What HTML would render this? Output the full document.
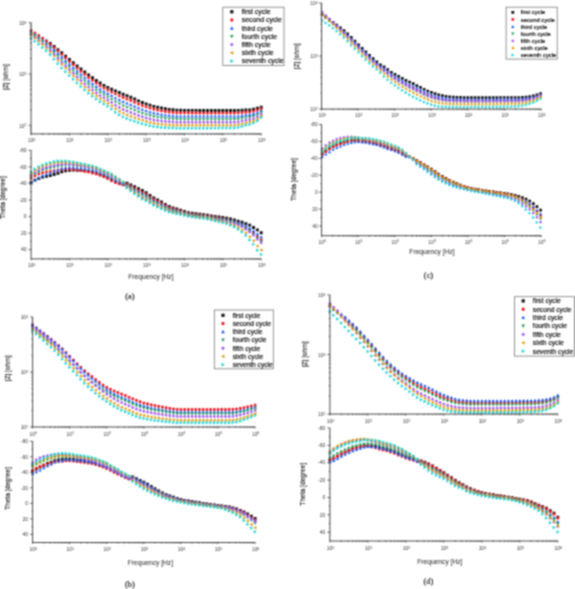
<!DOCTYPE html>
<html><head><meta charset="utf-8"><style>
html,body{margin:0;padding:0;background:#fff;width:575px;height:589px;overflow:hidden}
svg{display:block}
text{font-family:"Liberation Sans",sans-serif}
svg{will-change:transform}
.lg{fill:#000;stroke:#000;stroke-width:0.15px}
.ti{fill:#1a1a1a;stroke:#1a1a1a;stroke-width:0.15px}
.tk{fill:#383838}
.fq{fill:#333;stroke:#333;stroke-width:0.05px}
.cp{font-family:"Liberation Serif",serif;fill:#111;stroke:#111;stroke-width:0.15px}
</style></head><body>
<svg width="575" height="589" viewBox="0 0 575 589">
<rect width="575" height="589" fill="#fff"/>
<defs><filter id="bl" color-interpolation-filters="sRGB" x="0" y="0" width="575" height="589" filterUnits="userSpaceOnUse"><feConvolveMatrix order="3" kernelMatrix="1 2 1 2 4 2 1 2 1" edgeMode="duplicate" preserveAlpha="true"/></filter></defs>
<g filter="url(#bl)">
<rect width="575" height="589" fill="#fff"/>
<path d="M30.23 29.63h1.74v1.74h-1.74zM34.07 32.05h1.74v1.74h-1.74zM37.9 34.41h1.74v1.74h-1.74zM41.74 36.96h1.74v1.74h-1.74zM45.33 39.47h2.21v2.21h-2.21zM48.83 42.04h2.9v2.9h-2.9zM52.66 45.04h2.9v2.9h-2.9zM56.5 48.13h2.9v2.9h-2.9zM60.33 51.3h2.9v2.9h-2.9zM64.17 54.64h2.9v2.9h-2.9zM68 58.02h2.9v2.9h-2.9zM71.83 61.27h2.9v2.9h-2.9zM75.67 64.44h2.9v2.9h-2.9zM79.5 67.51h2.9v2.9h-2.9zM83.34 70.49h2.9v2.9h-2.9zM87.17 73.4h2.9v2.9h-2.9zM91.01 76.23h2.9v2.9h-2.9zM94.84 78.99h2.9v2.9h-2.9zM98.68 81.59h2.9v2.9h-2.9zM102.52 83.89h2.9v2.9h-2.9zM106.35 85.95h2.9v2.9h-2.9zM110.18 87.74h2.9v2.9h-2.9zM114.02 89.4h2.9v2.9h-2.9zM117.86 91.1h2.9v2.9h-2.9zM121.69 92.76h2.9v2.9h-2.9zM125.52 94.26h2.9v2.9h-2.9zM129.36 95.76h2.9v2.9h-2.9zM133.2 97.55h2.9v2.9h-2.9zM137.03 99.44h2.9v2.9h-2.9zM140.87 100.99h2.9v2.9h-2.9zM144.7 102.39h2.9v2.9h-2.9zM148.53 103.71h2.9v2.9h-2.9zM152.37 104.92h2.9v2.9h-2.9zM156.21 105.82h2.9v2.9h-2.9zM160.04 106.56h2.9v2.9h-2.9zM163.88 107.28h2.9v2.9h-2.9zM167.71 107.91h2.9v2.9h-2.9zM171.54 108.35h2.9v2.9h-2.9zM175.38 108.71h2.9v2.9h-2.9zM179.22 108.86h2.9v2.9h-2.9zM183.05 108.89h2.9v2.9h-2.9zM186.89 108.92h2.9v2.9h-2.9zM190.72 108.94h2.9v2.9h-2.9zM194.56 108.96h2.9v2.9h-2.9zM198.39 108.98h2.9v2.9h-2.9zM202.22 109h2.9v2.9h-2.9zM206.06 109.01h2.9v2.9h-2.9zM209.89 109.02h2.9v2.9h-2.9zM213.73 109.03h2.9v2.9h-2.9zM217.56 109.04h2.9v2.9h-2.9zM221.4 109.04h2.9v2.9h-2.9zM225.24 109.05h2.9v2.9h-2.9zM229.07 109.05h2.9v2.9h-2.9zM232.91 109.05h2.9v2.9h-2.9zM236.74 108.97h2.9v2.9h-2.9zM240.58 108.75h2.9v2.9h-2.9zM244.41 108.54h2.9v2.9h-2.9zM248.24 108.41h2.9v2.9h-2.9zM252.08 107.73h2.9v2.9h-2.9zM255.92 106.83h2.9v2.9h-2.9zM259.75 105.75h2.9v2.9h-2.9z" fill="#111111"/>
<path d="M29.58 30.5a1.52 1.52 0 1 0 3.04 0a1.52 1.52 0 1 0 -3.04 0zM33.41 33.06a1.52 1.52 0 1 0 3.04 0a1.52 1.52 0 1 0 -3.04 0zM37.25 35.58a1.52 1.52 0 1 0 3.04 0a1.52 1.52 0 1 0 -3.04 0zM41.08 38.3a1.52 1.52 0 1 0 3.04 0a1.52 1.52 0 1 0 -3.04 0zM44.92 41.24a1.52 1.52 0 1 0 3.04 0a1.52 1.52 0 1 0 -3.04 0zM48.75 44.39a1.52 1.52 0 1 0 3.04 0a1.52 1.52 0 1 0 -3.04 0zM52.59 47.58a1.52 1.52 0 1 0 3.04 0a1.52 1.52 0 1 0 -3.04 0zM56.42 50.87a1.52 1.52 0 1 0 3.04 0a1.52 1.52 0 1 0 -3.04 0zM60.26 54.23a1.52 1.52 0 1 0 3.04 0a1.52 1.52 0 1 0 -3.04 0zM64.09 57.71a1.52 1.52 0 1 0 3.04 0a1.52 1.52 0 1 0 -3.04 0zM67.93 61.22a1.52 1.52 0 1 0 3.04 0a1.52 1.52 0 1 0 -3.04 0zM71.76 64.62a1.52 1.52 0 1 0 3.04 0a1.52 1.52 0 1 0 -3.04 0zM75.6 67.96a1.52 1.52 0 1 0 3.04 0a1.52 1.52 0 1 0 -3.04 0zM79.43 71.19a1.52 1.52 0 1 0 3.04 0a1.52 1.52 0 1 0 -3.04 0zM83.27 74.33a1.52 1.52 0 1 0 3.04 0a1.52 1.52 0 1 0 -3.04 0zM87.1 77.38a1.52 1.52 0 1 0 3.04 0a1.52 1.52 0 1 0 -3.04 0zM90.94 80.27a1.52 1.52 0 1 0 3.04 0a1.52 1.52 0 1 0 -3.04 0zM94.77 83.05a1.52 1.52 0 1 0 3.04 0a1.52 1.52 0 1 0 -3.04 0zM98.61 85.67a1.52 1.52 0 1 0 3.04 0a1.52 1.52 0 1 0 -3.04 0zM102.44 87.96a1.52 1.52 0 1 0 3.04 0a1.52 1.52 0 1 0 -3.04 0zM106.28 90.02a1.52 1.52 0 1 0 3.04 0a1.52 1.52 0 1 0 -3.04 0zM110.11 91.98a1.52 1.52 0 1 0 3.04 0a1.52 1.52 0 1 0 -3.04 0zM113.95 93.84a1.52 1.52 0 1 0 3.04 0a1.52 1.52 0 1 0 -3.04 0zM117.78 95.66a1.52 1.52 0 1 0 3.04 0a1.52 1.52 0 1 0 -3.04 0zM121.62 97.38a1.52 1.52 0 1 0 3.04 0a1.52 1.52 0 1 0 -3.04 0zM125.45 98.91a1.52 1.52 0 1 0 3.04 0a1.52 1.52 0 1 0 -3.04 0zM129.29 100.39a1.52 1.52 0 1 0 3.04 0a1.52 1.52 0 1 0 -3.04 0zM133.12 102.13a1.52 1.52 0 1 0 3.04 0a1.52 1.52 0 1 0 -3.04 0zM136.96 103.92a1.52 1.52 0 1 0 3.04 0a1.52 1.52 0 1 0 -3.04 0zM140.79 105.43a1.52 1.52 0 1 0 3.04 0a1.52 1.52 0 1 0 -3.04 0zM144.63 106.78a1.52 1.52 0 1 0 3.04 0a1.52 1.52 0 1 0 -3.04 0zM148.46 108.05a1.52 1.52 0 1 0 3.04 0a1.52 1.52 0 1 0 -3.04 0zM152.3 109.2a1.52 1.52 0 1 0 3.04 0a1.52 1.52 0 1 0 -3.04 0zM156.13 110.04a1.52 1.52 0 1 0 3.04 0a1.52 1.52 0 1 0 -3.04 0zM159.97 110.73a1.52 1.52 0 1 0 3.04 0a1.52 1.52 0 1 0 -3.04 0zM163.8 111.39a1.52 1.52 0 1 0 3.04 0a1.52 1.52 0 1 0 -3.04 0zM167.64 111.96a1.52 1.52 0 1 0 3.04 0a1.52 1.52 0 1 0 -3.04 0zM171.47 112.36a1.52 1.52 0 1 0 3.04 0a1.52 1.52 0 1 0 -3.04 0zM175.31 112.69a1.52 1.52 0 1 0 3.04 0a1.52 1.52 0 1 0 -3.04 0zM179.14 112.81a1.52 1.52 0 1 0 3.04 0a1.52 1.52 0 1 0 -3.04 0zM182.98 112.84a1.52 1.52 0 1 0 3.04 0a1.52 1.52 0 1 0 -3.04 0zM186.81 112.86a1.52 1.52 0 1 0 3.04 0a1.52 1.52 0 1 0 -3.04 0zM190.65 112.88a1.52 1.52 0 1 0 3.04 0a1.52 1.52 0 1 0 -3.04 0zM194.48 112.9a1.52 1.52 0 1 0 3.04 0a1.52 1.52 0 1 0 -3.04 0zM198.32 112.92a1.52 1.52 0 1 0 3.04 0a1.52 1.52 0 1 0 -3.04 0zM202.15 112.93a1.52 1.52 0 1 0 3.04 0a1.52 1.52 0 1 0 -3.04 0zM205.99 112.94a1.52 1.52 0 1 0 3.04 0a1.52 1.52 0 1 0 -3.04 0zM209.82 112.95a1.52 1.52 0 1 0 3.04 0a1.52 1.52 0 1 0 -3.04 0zM213.66 112.95a1.52 1.52 0 1 0 3.04 0a1.52 1.52 0 1 0 -3.04 0zM217.49 112.96a1.52 1.52 0 1 0 3.04 0a1.52 1.52 0 1 0 -3.04 0zM221.33 112.96a1.52 1.52 0 1 0 3.04 0a1.52 1.52 0 1 0 -3.04 0zM225.16 112.96a1.52 1.52 0 1 0 3.04 0a1.52 1.52 0 1 0 -3.04 0zM229 112.95a1.52 1.52 0 1 0 3.04 0a1.52 1.52 0 1 0 -3.04 0zM232.83 112.95a1.52 1.52 0 1 0 3.04 0a1.52 1.52 0 1 0 -3.04 0zM236.67 112.83a1.52 1.52 0 1 0 3.04 0a1.52 1.52 0 1 0 -3.04 0zM240.5 112.49a1.52 1.52 0 1 0 3.04 0a1.52 1.52 0 1 0 -3.04 0zM244.34 112.14a1.52 1.52 0 1 0 3.04 0a1.52 1.52 0 1 0 -3.04 0zM248.17 111.9a1.52 1.52 0 1 0 3.04 0a1.52 1.52 0 1 0 -3.04 0zM252.01 111.1a1.52 1.52 0 1 0 3.04 0a1.52 1.52 0 1 0 -3.04 0zM255.84 110.05a1.52 1.52 0 1 0 3.04 0a1.52 1.52 0 1 0 -3.04 0zM259.68 108.66a1.52 1.52 0 1 0 3.04 0a1.52 1.52 0 1 0 -3.04 0z" fill="#f41c24"/>
<path d="M31.1 30.74L32.84 33.78L29.36 33.78zM34.94 33.26L36.68 36.3L33.2 36.3zM38.77 35.79L40.51 38.83L37.03 38.83zM42.61 38.49L44.35 41.54L40.87 41.54zM46.44 41.38L48.18 44.43L44.7 44.43zM50.28 44.56L52.02 47.61L48.54 47.61zM54.11 48.02L55.85 51.06L52.37 51.06zM57.95 51.58L59.69 54.63L56.21 54.63zM61.78 55.15L63.52 58.2L60.04 58.2zM65.62 58.75L67.36 61.79L63.88 61.79zM69.45 62.35L71.19 65.39L67.71 65.39zM73.28 65.89L75.02 68.94L71.55 68.94zM77.12 69.37L78.86 72.41L75.38 72.41zM80.95 72.73L82.69 75.77L79.22 75.77zM84.79 75.98L86.53 79.02L83.05 79.02zM88.62 79.11L90.36 82.15L86.89 82.15zM92.46 82.04L94.2 85.09L90.72 85.09zM96.29 84.86L98.03 87.9L94.55 87.9zM100.13 87.5L101.87 90.55L98.39 90.55zM103.97 89.77L105.7 92.81L102.23 92.81zM107.8 91.85L109.54 94.89L106.06 94.89zM111.63 94.01L113.37 97.06L109.89 97.06zM115.47 96.15L117.21 99.19L113.73 99.19zM119.31 98.12L121.05 101.17L117.57 101.17zM123.14 99.95L124.88 102.99L121.4 102.99zM126.97 101.51L128.72 104.55L125.23 104.55zM130.81 102.97L132.55 106.02L129.07 106.02zM134.65 104.62L136.39 107.67L132.91 107.67zM138.48 106.3L140.22 109.35L136.74 109.35zM142.31 107.74L144.06 110.78L140.57 110.78zM146.15 109.03L147.89 112.07L144.41 112.07zM149.98 110.23L151.72 113.27L148.24 113.27zM153.82 111.29L155.56 114.34L152.08 114.34zM157.66 112.06L159.4 115.11L155.91 115.11zM161.49 112.68L163.23 115.72L159.75 115.72zM165.32 113.25L167.06 116.3L163.58 116.3zM169.16 113.76L170.9 116.8L167.42 116.8zM172.99 114.1L174.73 117.14L171.25 117.14zM176.83 114.37L178.57 117.41L175.09 117.41zM180.66 114.47L182.41 117.52L178.92 117.52zM184.5 114.49L186.24 117.54L182.76 117.54zM188.34 114.51L190.08 117.56L186.59 117.56zM192.17 114.53L193.91 117.57L190.43 117.57zM196 114.54L197.75 117.58L194.26 117.58zM199.84 114.55L201.58 117.59L198.1 117.59zM203.67 114.56L205.41 117.6L201.93 117.6zM207.51 114.56L209.25 117.61L205.77 117.61zM211.34 114.57L213.08 117.61L209.6 117.61zM215.18 114.57L216.92 117.61L213.44 117.61zM219.01 114.56L220.75 117.61L217.27 117.61zM222.85 114.56L224.59 117.61L221.11 117.61zM226.69 114.56L228.43 117.6L224.94 117.6zM230.52 114.55L232.26 117.59L228.78 117.59zM234.35 114.54L236.09 117.58L232.61 117.58zM238.19 114.35L239.93 117.4L236.45 117.4zM242.03 113.84L243.77 116.89L240.28 116.89zM245.86 113.32L247.6 116.37L244.12 116.37zM249.69 112.92L251.43 115.96L247.95 115.96zM253.53 111.98L255.27 115.02L251.79 115.02zM257.37 110.72L259.11 113.76L255.62 113.76zM261.2 108.89L262.94 111.94L259.46 111.94z" fill="#1e5ef5"/>
<path d="M31.1 34.62L32.84 31.57L29.36 31.57zM34.94 37.41L36.68 34.37L33.2 34.37zM38.77 40.27L40.51 37.23L37.03 37.23zM42.61 43.33L44.35 40.28L40.87 40.28zM46.44 46.61L48.18 43.57L44.7 43.57zM50.28 50.29L52.02 47.25L48.54 47.25zM54.11 54.01L55.85 50.96L52.37 50.96zM57.95 57.82L59.69 54.78L56.21 54.78zM61.78 61.57L63.52 58.52L60.04 58.52zM65.62 65.23L67.36 62.19L63.88 62.19zM69.45 68.87L71.19 65.82L67.71 65.82zM73.28 72.49L75.02 69.45L71.55 69.45zM77.12 76.05L78.86 73L75.38 73zM80.95 79.47L82.69 76.42L79.22 76.42zM84.79 82.76L86.53 79.71L83.05 79.71zM88.62 85.9L90.36 82.86L86.89 82.86zM92.46 88.85L94.2 85.8L90.72 85.8zM96.29 91.69L98.03 88.65L94.55 88.65zM100.13 94.37L101.87 91.32L98.39 91.32zM103.97 96.61L105.7 93.57L102.23 93.57zM107.8 98.7L109.54 95.65L106.06 95.65zM111.63 101.07L113.37 98.02L109.89 98.02zM115.47 103.47L117.21 100.42L113.73 100.42zM119.31 105.59L121.05 102.55L117.57 102.55zM123.14 107.51L124.88 104.46L121.4 104.46zM126.97 109.1L128.72 106.05L125.23 106.05zM130.81 110.55L132.55 107.5L129.07 107.5zM134.65 112.12L136.39 109.07L132.91 109.07zM138.48 113.69L140.22 110.64L136.74 110.64zM142.31 115.05L144.06 112.01L140.57 112.01zM146.15 116.29L147.89 113.24L144.41 113.24zM149.98 117.42L151.72 114.37L148.24 114.37zM153.82 118.41L155.56 115.36L152.08 115.36zM157.66 119.1L159.4 116.06L155.91 116.06zM161.49 119.65L163.23 116.61L159.75 116.61zM165.32 120.15L167.06 117.11L163.58 117.11zM169.16 120.58L170.9 117.54L167.42 117.54zM172.99 120.87L174.73 117.82L171.25 117.82zM176.83 121.09L178.57 118.04L175.09 118.04zM180.66 121.17L182.41 118.13L178.92 118.13zM184.5 121.19L186.24 118.14L182.76 118.14zM188.34 121.2L190.08 118.15L186.59 118.15zM192.17 121.21L193.91 118.17L190.43 118.17zM196 121.22L197.75 118.17L194.26 118.17zM199.84 121.22L201.58 118.18L198.1 118.18zM203.67 121.23L205.41 118.18L201.93 118.18zM207.51 121.23L209.25 118.18L205.77 118.18zM211.34 121.23L213.08 118.18L209.6 118.18zM215.18 121.22L216.92 118.18L213.44 118.18zM219.01 121.22L220.75 118.17L217.27 118.17zM222.85 121.21L224.59 118.16L221.11 118.16zM226.69 121.2L228.43 118.15L224.94 118.15zM230.52 121.18L232.26 118.14L228.78 118.14zM234.35 121.17L236.09 118.12L232.61 118.12zM238.19 120.92L239.93 117.88L236.45 117.88zM242.03 120.26L243.77 117.21L240.28 117.21zM245.86 119.57L247.6 116.53L244.12 116.53zM249.69 119.02L251.43 115.97L247.95 115.97zM253.53 117.93L255.27 114.88L251.79 114.88zM257.37 116.48L259.11 113.44L255.62 113.44zM261.2 114.24L262.94 111.2L259.46 111.2z" fill="#2a9f5c"/>
<path d="M31.1 33.11L32.84 34.85L31.1 36.59L29.36 34.85zM34.94 35.84L36.68 37.58L34.94 39.32L33.2 37.58zM38.77 38.67L40.51 40.41L38.77 42.15L37.03 40.41zM42.61 41.66L44.35 43.4L42.61 45.14L40.87 43.4zM46.44 44.85L48.18 46.59L46.44 48.33L44.7 46.59zM50.28 48.5L52.02 50.24L50.28 51.98L48.54 50.24zM54.11 52.44L55.85 54.18L54.11 55.92L52.37 54.18zM57.95 56.48L59.69 58.22L57.95 59.96L56.21 58.22zM61.78 60.4L63.52 62.14L61.78 63.88L60.04 62.14zM65.62 64.16L67.36 65.9L65.62 67.64L63.88 65.9zM69.45 67.86L71.19 69.6L69.45 71.34L67.71 69.6zM73.28 71.59L75.02 73.33L73.28 75.07L71.55 73.33zM77.12 75.25L78.86 76.99L77.12 78.73L75.38 76.99zM80.95 78.77L82.69 80.51L80.95 82.25L79.22 80.51zM84.79 82.15L86.53 83.89L84.79 85.63L83.05 83.89zM88.62 85.35L90.36 87.09L88.62 88.83L86.89 87.09zM92.46 88.33L94.2 90.07L92.46 91.81L90.72 90.07zM96.29 91.2L98.03 92.94L96.29 94.68L94.55 92.94zM100.13 93.89L101.87 95.63L100.13 97.37L98.39 95.63zM103.97 96.12L105.7 97.86L103.97 99.6L102.23 97.86zM107.8 98.22L109.54 99.96L107.8 101.7L106.06 99.96zM111.63 100.77L113.37 102.51L111.63 104.25L109.89 102.51zM115.47 103.4L117.21 105.14L115.47 106.88L113.73 105.14zM119.31 105.66L121.05 107.4L119.31 109.14L117.57 107.4zM123.14 107.66L124.88 109.4L123.14 111.14L121.4 109.4zM126.97 109.27L128.72 111.01L126.97 112.75L125.23 111.01zM130.81 110.71L132.55 112.45L130.81 114.19L129.07 112.45zM134.65 112.21L136.39 113.95L134.65 115.69L132.91 113.95zM138.48 113.68L140.22 115.42L138.48 117.16L136.74 115.42zM142.31 114.98L144.06 116.72L142.31 118.46L140.57 116.72zM146.15 116.17L147.89 117.91L146.15 119.65L144.41 117.91zM149.98 117.23L151.72 118.97L149.98 120.71L148.24 118.97zM153.82 118.16L155.56 119.9L153.82 121.64L152.08 119.9zM157.66 118.79L159.4 120.53L157.66 122.27L155.91 120.53zM161.49 119.28L163.23 121.02L161.49 122.76L159.75 121.02zM165.32 119.71L167.06 121.45L165.32 123.19L163.58 121.45zM169.16 120.08L170.9 121.82L169.16 123.56L167.42 121.82zM172.99 120.31L174.73 122.05L172.99 123.79L171.25 122.05zM176.83 120.49L178.57 122.23L176.83 123.97L175.09 122.23zM180.66 120.55L182.41 122.29L180.66 124.03L178.92 122.29zM184.5 120.56L186.24 122.3L184.5 124.04L182.76 122.3zM188.34 120.57L190.08 122.31L188.34 124.05L186.59 122.31zM192.17 120.58L193.91 122.32L192.17 124.06L190.43 122.32zM196 120.58L197.75 122.32L196 124.06L194.26 122.32zM199.84 120.58L201.58 122.32L199.84 124.06L198.1 122.32zM203.67 120.58L205.41 122.32L203.67 124.06L201.93 122.32zM207.51 120.58L209.25 122.32L207.51 124.06L205.77 122.32zM211.34 120.58L213.08 122.32L211.34 124.06L209.6 122.32zM215.18 120.57L216.92 122.31L215.18 124.05L213.44 122.31zM219.01 120.56L220.75 122.3L219.01 124.04L217.27 122.3zM222.85 120.54L224.59 122.28L222.85 124.02L221.11 122.28zM226.69 120.53L228.43 122.27L226.69 124.01L224.94 122.27zM230.52 120.51L232.26 122.25L230.52 123.99L228.78 122.25zM234.35 120.49L236.09 122.23L234.35 123.97L232.61 122.23zM238.19 120.19L239.93 121.93L238.19 123.67L236.45 121.93zM242.03 119.38L243.77 121.12L242.03 122.86L240.28 121.12zM245.86 118.55L247.6 120.29L245.86 122.03L244.12 120.29zM249.69 117.87L251.43 119.61L249.69 121.35L247.95 119.61zM253.53 116.65L255.27 118.39L253.53 120.13L251.79 118.39zM257.37 115.03L259.11 116.77L257.37 118.51L255.62 116.77zM261.2 112.43L262.94 114.17L261.2 115.91L259.46 114.17z" fill="#a55cf0"/>
<path d="M29.36 35.25L32.41 33.51L32.41 36.99zM33.2 38.16L36.24 36.42L36.24 39.9zM37.03 41.23L40.08 39.49L40.08 42.97zM40.87 44.46L43.91 42.72L43.91 46.2zM44.7 47.92L47.74 46.18L47.74 49.66zM48.54 51.92L51.58 50.18L51.58 53.66zM52.37 56.1L55.41 54.36L55.41 57.84zM56.21 60.39L59.25 58.65L59.25 62.13zM60.04 64.5L63.09 62.76L63.09 66.24zM63.88 68.36L66.92 66.62L66.92 70.1zM67.71 72.16L70.76 70.42L70.76 73.9zM71.55 76.01L74.59 74.27L74.59 77.75zM75.38 79.8L78.43 78.06L78.43 81.54zM79.22 83.44L82.26 81.7L82.26 85.18zM83.05 86.92L86.1 85.18L86.1 88.66zM86.89 90.19L89.93 88.45L89.93 91.93zM90.72 93.21L93.77 91.47L93.77 94.95zM94.55 96.11L97.6 94.37L97.6 97.85zM98.39 98.83L101.44 97.09L101.44 100.57zM102.23 101.04L105.27 99.3L105.27 102.78zM106.06 103.14L109.11 101.4L109.11 104.88zM109.89 105.88L112.94 104.14L112.94 107.62zM113.73 108.76L116.78 107.02L116.78 110.5zM117.57 111.16L120.61 109.42L120.61 112.9zM121.4 113.25L124.44 111.51L124.44 114.99zM125.23 114.89L128.28 113.15L128.28 116.63zM129.07 116.31L132.12 114.57L132.12 118.05zM132.91 117.74L135.95 116L135.95 119.48zM136.74 119.1L139.79 117.36L139.79 120.84zM140.57 120.34L143.62 118.6L143.62 122.08zM144.41 121.48L147.46 119.74L147.46 123.22zM148.24 122.48L151.29 120.74L151.29 124.22zM152.08 123.33L155.12 121.59L155.12 125.07zM155.91 123.89L158.96 122.15L158.96 125.63zM159.75 124.31L162.79 122.57L162.79 126.05zM163.58 124.68L166.63 122.94L166.63 126.42zM167.42 124.98L170.47 123.24L170.47 126.72zM171.25 125.16L174.3 123.42L174.3 126.9zM175.09 125.29L178.13 123.55L178.13 127.03zM178.92 125.34L181.97 123.6L181.97 127.08zM182.76 125.34L185.81 123.6L185.81 127.08zM186.59 125.34L189.64 123.6L189.64 127.08zM190.43 125.35L193.47 123.61L193.47 127.09zM194.26 125.34L197.31 123.6L197.31 127.08zM198.1 125.34L201.14 123.6L201.14 127.08zM201.93 125.34L204.98 123.6L204.98 127.08zM205.77 125.33L208.81 123.59L208.81 127.07zM209.6 125.32L212.65 123.58L212.65 127.06zM213.44 125.31L216.48 123.57L216.48 127.05zM217.27 125.29L220.32 123.55L220.32 127.03zM221.11 125.28L224.16 123.54L224.16 127.02zM224.94 125.26L227.99 123.52L227.99 127zM228.78 125.23L231.82 123.49L231.82 126.97zM232.61 125.2L235.66 123.46L235.66 126.94zM236.45 124.85L239.5 123.11L239.5 126.59zM240.28 123.89L243.33 122.15L243.33 125.63zM244.12 122.9L247.17 121.16L247.17 124.64zM247.95 122.08L251 120.34L251 123.82zM251.79 120.72L254.83 118.98L254.83 122.46zM255.62 118.92L258.67 117.18L258.67 120.66zM259.46 115.94L262.5 114.2L262.5 117.68z" fill="#dc9a0a"/>
<path d="M32.84 38.4L29.8 36.66L29.8 40.14zM36.68 41.23L33.63 39.49L33.63 42.97zM40.51 44.28L37.47 42.54L37.47 46.02zM44.35 47.42L41.3 45.68L41.3 49.16zM48.18 50.75L45.13 49.01L45.13 52.49zM52.02 54.73L48.97 52.99L48.97 56.47zM55.85 59.15L52.8 57.41L52.8 60.89zM59.69 63.66L56.64 61.92L56.64 65.4zM63.52 67.89L60.48 66.15L60.48 69.63zM67.36 71.72L64.31 69.98L64.31 73.46zM71.19 75.45L68.14 73.71L68.14 77.19zM75.02 79.28L71.98 77.54L71.98 81.02zM78.86 83.04L75.81 81.3L75.81 84.78zM82.69 86.62L79.65 84.88L79.65 88.36zM86.53 90.02L83.48 88.28L83.48 91.76zM90.36 93.18L87.32 91.44L87.32 94.92zM94.2 96.16L91.16 94.42L91.16 97.9zM98.03 99.1L94.99 97.36L94.99 100.84zM101.87 101.83L98.82 100.09L98.82 103.57zM105.7 104.03L102.66 102.29L102.66 105.77zM109.54 106.14L106.5 104.4L106.5 107.88zM113.37 109.06L110.33 107.32L110.33 110.8zM117.21 112.17L114.16 110.43L114.16 113.91zM121.05 114.71L118 112.97L118 116.45zM124.88 116.88L121.83 115.14L121.83 118.62zM128.72 118.54L125.67 116.8L125.67 120.28zM132.55 119.95L129.5 118.21L129.5 121.69zM136.39 121.31L133.34 119.57L133.34 123.05zM140.22 122.57L137.18 120.83L137.18 124.31zM144.06 123.75L141.01 122.01L141.01 125.49zM147.89 124.83L144.84 123.09L144.84 126.57zM151.72 125.78L148.68 124.04L148.68 127.52zM155.56 126.57L152.51 124.83L152.51 128.31zM159.4 127.06L156.35 125.32L156.35 128.8zM163.23 127.42L160.18 125.68L160.18 129.16zM167.06 127.72L164.02 125.98L164.02 129.46zM170.9 127.96L167.85 126.22L167.85 129.7zM174.73 128.08L171.69 126.34L171.69 129.82zM178.57 128.17L175.52 126.43L175.52 129.91zM182.41 128.2L179.36 126.46L179.36 129.94zM186.24 128.2L183.19 126.46L183.19 129.94zM190.08 128.2L187.03 126.46L187.03 129.94zM193.91 128.19L190.86 126.45L190.86 129.93zM197.75 128.19L194.7 126.45L194.7 129.93zM201.58 128.18L198.53 126.44L198.53 129.92zM205.41 128.17L202.37 126.43L202.37 129.91zM209.25 128.16L206.2 126.42L206.2 129.9zM213.08 128.15L210.04 126.41L210.04 129.89zM216.92 128.13L213.87 126.39L213.87 129.87zM220.75 128.11L217.71 126.37L217.71 129.85zM224.59 128.09L221.54 126.35L221.54 129.83zM228.43 128.07L225.38 126.33L225.38 129.81zM232.26 128.04L229.21 126.3L229.21 129.78zM236.09 128.01L233.05 126.27L233.05 129.75zM239.93 127.6L236.88 125.86L236.88 129.34zM243.77 126.5L240.72 124.76L240.72 128.24zM247.6 125.36L244.56 123.62L244.56 127.1zM251.43 124.41L248.39 122.67L248.39 126.15zM255.27 122.92L252.22 121.18L252.22 124.66zM259.11 120.95L256.06 119.21L256.06 122.69zM262.94 117.6L259.89 115.86L259.89 119.34z" fill="#12d2d6"/>
<path d="M29.65 181.1h2.9v2.9h-2.9zM33.48 178.64h2.9v2.9h-2.9zM37.32 177.11h2.9v2.9h-2.9zM41.16 175.53h2.9v2.9h-2.9zM44.99 174.74h2.9v2.9h-2.9zM48.83 174.17h2.9v2.9h-2.9zM52.66 173.01h2.9v2.9h-2.9zM56.5 171.93h2.9v2.9h-2.9zM60.33 170.32h2.9v2.9h-2.9zM64.17 169.41h2.9v2.9h-2.9zM68 168.77h2.9v2.9h-2.9zM71.83 168.67h2.9v2.9h-2.9zM75.67 168.94h2.9v2.9h-2.9zM79.5 169.2h2.9v2.9h-2.9zM83.34 169.45h2.9v2.9h-2.9zM87.17 170.02h2.9v2.9h-2.9zM91.01 170.8h2.9v2.9h-2.9zM94.84 171.75h2.9v2.9h-2.9zM98.68 173.05h2.9v2.9h-2.9zM102.52 174.59h2.9v2.9h-2.9zM106.35 176.37h2.9v2.9h-2.9zM110.18 178.6h2.9v2.9h-2.9zM114.02 180.39h2.9v2.9h-2.9zM117.86 181.9h2.9v2.9h-2.9zM121.69 183.09h2.9v2.9h-2.9zM125.52 181.86h2.9v2.9h-2.9zM129.36 183.61h2.9v2.9h-2.9zM133.2 185.33h2.9v2.9h-2.9zM137.03 187.14h2.9v2.9h-2.9zM140.87 189.09h2.9v2.9h-2.9zM144.7 191.36h2.9v2.9h-2.9zM148.53 193.95h2.9v2.9h-2.9zM152.37 196.48h2.9v2.9h-2.9zM156.21 198.54h2.9v2.9h-2.9zM160.04 200.54h2.9v2.9h-2.9zM163.88 202.93h2.9v2.9h-2.9zM167.71 205h2.9v2.9h-2.9zM171.54 206.4h2.9v2.9h-2.9zM175.38 207.56h2.9v2.9h-2.9zM179.22 208.71h2.9v2.9h-2.9zM183.05 210.01h2.9v2.9h-2.9zM186.89 211.15h2.9v2.9h-2.9zM190.72 211.84h2.9v2.9h-2.9zM194.56 212.36h2.9v2.9h-2.9zM198.39 212.8h2.9v2.9h-2.9zM202.22 213.21h2.9v2.9h-2.9zM206.06 213.81h2.9v2.9h-2.9zM209.89 214.47h2.9v2.9h-2.9zM213.73 214.96h2.9v2.9h-2.9zM217.56 215.42h2.9v2.9h-2.9zM221.4 216h2.9v2.9h-2.9zM225.24 216.69h2.9v2.9h-2.9zM229.07 217.6h2.9v2.9h-2.9zM232.91 218.47h2.9v2.9h-2.9zM236.74 219.82h2.9v2.9h-2.9zM240.58 220.86h2.9v2.9h-2.9zM244.41 222.31h2.9v2.9h-2.9zM248.24 223.65h2.9v2.9h-2.9zM252.08 226.03h2.9v2.9h-2.9zM255.92 228.43h2.9v2.9h-2.9zM259.75 231.25h2.9v2.9h-2.9z" fill="#111111"/>
<path d="M29.58 178.16a1.52 1.52 0 1 0 3.04 0a1.52 1.52 0 1 0 -3.04 0zM33.41 175.72a1.52 1.52 0 1 0 3.04 0a1.52 1.52 0 1 0 -3.04 0zM37.25 174.1a1.52 1.52 0 1 0 3.04 0a1.52 1.52 0 1 0 -3.04 0zM41.08 172.74a1.52 1.52 0 1 0 3.04 0a1.52 1.52 0 1 0 -3.04 0zM44.92 172.06a1.52 1.52 0 1 0 3.04 0a1.52 1.52 0 1 0 -3.04 0zM48.75 171.6a1.52 1.52 0 1 0 3.04 0a1.52 1.52 0 1 0 -3.04 0zM52.59 170.8a1.52 1.52 0 1 0 3.04 0a1.52 1.52 0 1 0 -3.04 0zM56.42 170.17a1.52 1.52 0 1 0 3.04 0a1.52 1.52 0 1 0 -3.04 0zM60.26 169.31a1.52 1.52 0 1 0 3.04 0a1.52 1.52 0 1 0 -3.04 0zM64.09 169.02a1.52 1.52 0 1 0 3.04 0a1.52 1.52 0 1 0 -3.04 0zM67.93 168.96a1.52 1.52 0 1 0 3.04 0a1.52 1.52 0 1 0 -3.04 0zM71.76 169.31a1.52 1.52 0 1 0 3.04 0a1.52 1.52 0 1 0 -3.04 0zM75.6 169.98a1.52 1.52 0 1 0 3.04 0a1.52 1.52 0 1 0 -3.04 0zM79.43 170.6a1.52 1.52 0 1 0 3.04 0a1.52 1.52 0 1 0 -3.04 0zM83.27 171.18a1.52 1.52 0 1 0 3.04 0a1.52 1.52 0 1 0 -3.04 0zM87.1 172.04a1.52 1.52 0 1 0 3.04 0a1.52 1.52 0 1 0 -3.04 0zM90.94 172.95a1.52 1.52 0 1 0 3.04 0a1.52 1.52 0 1 0 -3.04 0zM94.77 173.87a1.52 1.52 0 1 0 3.04 0a1.52 1.52 0 1 0 -3.04 0zM98.61 175.13a1.52 1.52 0 1 0 3.04 0a1.52 1.52 0 1 0 -3.04 0zM102.44 176.65a1.52 1.52 0 1 0 3.04 0a1.52 1.52 0 1 0 -3.04 0zM106.28 178.45a1.52 1.52 0 1 0 3.04 0a1.52 1.52 0 1 0 -3.04 0zM110.11 180.72a1.52 1.52 0 1 0 3.04 0a1.52 1.52 0 1 0 -3.04 0zM113.95 182.43a1.52 1.52 0 1 0 3.04 0a1.52 1.52 0 1 0 -3.04 0zM117.78 183.8a1.52 1.52 0 1 0 3.04 0a1.52 1.52 0 1 0 -3.04 0zM121.62 184.82a1.52 1.52 0 1 0 3.04 0a1.52 1.52 0 1 0 -3.04 0zM125.45 184.2a1.52 1.52 0 1 0 3.04 0a1.52 1.52 0 1 0 -3.04 0zM129.29 186.23a1.52 1.52 0 1 0 3.04 0a1.52 1.52 0 1 0 -3.04 0zM133.12 188.17a1.52 1.52 0 1 0 3.04 0a1.52 1.52 0 1 0 -3.04 0zM136.96 190.18a1.52 1.52 0 1 0 3.04 0a1.52 1.52 0 1 0 -3.04 0zM140.79 192.22a1.52 1.52 0 1 0 3.04 0a1.52 1.52 0 1 0 -3.04 0zM144.63 194.39a1.52 1.52 0 1 0 3.04 0a1.52 1.52 0 1 0 -3.04 0zM148.46 196.92a1.52 1.52 0 1 0 3.04 0a1.52 1.52 0 1 0 -3.04 0zM152.3 199.39a1.52 1.52 0 1 0 3.04 0a1.52 1.52 0 1 0 -3.04 0zM156.13 201.39a1.52 1.52 0 1 0 3.04 0a1.52 1.52 0 1 0 -3.04 0zM159.97 203.33a1.52 1.52 0 1 0 3.04 0a1.52 1.52 0 1 0 -3.04 0zM163.8 205.59a1.52 1.52 0 1 0 3.04 0a1.52 1.52 0 1 0 -3.04 0zM167.64 207.54a1.52 1.52 0 1 0 3.04 0a1.52 1.52 0 1 0 -3.04 0zM171.47 208.86a1.52 1.52 0 1 0 3.04 0a1.52 1.52 0 1 0 -3.04 0zM175.31 209.95a1.52 1.52 0 1 0 3.04 0a1.52 1.52 0 1 0 -3.04 0zM179.14 211.02a1.52 1.52 0 1 0 3.04 0a1.52 1.52 0 1 0 -3.04 0zM182.98 212.24a1.52 1.52 0 1 0 3.04 0a1.52 1.52 0 1 0 -3.04 0zM186.81 213.32a1.52 1.52 0 1 0 3.04 0a1.52 1.52 0 1 0 -3.04 0zM190.65 214a1.52 1.52 0 1 0 3.04 0a1.52 1.52 0 1 0 -3.04 0zM194.48 214.53a1.52 1.52 0 1 0 3.04 0a1.52 1.52 0 1 0 -3.04 0zM198.32 214.97a1.52 1.52 0 1 0 3.04 0a1.52 1.52 0 1 0 -3.04 0zM202.15 215.4a1.52 1.52 0 1 0 3.04 0a1.52 1.52 0 1 0 -3.04 0zM205.99 216.02a1.52 1.52 0 1 0 3.04 0a1.52 1.52 0 1 0 -3.04 0zM209.82 216.71a1.52 1.52 0 1 0 3.04 0a1.52 1.52 0 1 0 -3.04 0zM213.66 217.29a1.52 1.52 0 1 0 3.04 0a1.52 1.52 0 1 0 -3.04 0zM217.49 217.95a1.52 1.52 0 1 0 3.04 0a1.52 1.52 0 1 0 -3.04 0zM221.33 218.7a1.52 1.52 0 1 0 3.04 0a1.52 1.52 0 1 0 -3.04 0zM225.16 219.58a1.52 1.52 0 1 0 3.04 0a1.52 1.52 0 1 0 -3.04 0zM229 220.77a1.52 1.52 0 1 0 3.04 0a1.52 1.52 0 1 0 -3.04 0zM232.83 222.02a1.52 1.52 0 1 0 3.04 0a1.52 1.52 0 1 0 -3.04 0zM236.67 223.82a1.52 1.52 0 1 0 3.04 0a1.52 1.52 0 1 0 -3.04 0zM240.5 225.55a1.52 1.52 0 1 0 3.04 0a1.52 1.52 0 1 0 -3.04 0zM244.34 227.62a1.52 1.52 0 1 0 3.04 0a1.52 1.52 0 1 0 -3.04 0zM248.17 230.01a1.52 1.52 0 1 0 3.04 0a1.52 1.52 0 1 0 -3.04 0zM252.01 233.05a1.52 1.52 0 1 0 3.04 0a1.52 1.52 0 1 0 -3.04 0zM255.84 236.57a1.52 1.52 0 1 0 3.04 0a1.52 1.52 0 1 0 -3.04 0zM259.68 239.89a1.52 1.52 0 1 0 3.04 0a1.52 1.52 0 1 0 -3.04 0z" fill="#f41c24"/>
<path d="M31.1 181.35L32.84 184.39L29.36 184.39zM34.94 178.37L36.68 181.42L33.2 181.42zM38.77 176.28L40.51 179.32L37.03 179.32zM42.61 174.12L44.35 177.17L40.87 177.17zM46.44 172.69L48.18 175.74L44.7 175.74zM50.28 171.44L52.02 174.48L48.54 174.48zM54.11 169.74L55.85 172.78L52.37 172.78zM57.95 168.25L59.69 171.29L56.21 171.29zM61.78 166.81L63.52 169.86L60.04 169.86zM65.62 166.14L67.36 169.18L63.88 169.18zM69.45 165.77L71.19 168.82L67.71 168.82zM73.28 165.82L75.02 168.86L71.55 168.86zM77.12 166.18L78.86 169.22L75.38 169.22zM80.95 166.62L82.69 169.66L79.22 169.66zM84.79 166.97L86.53 170.01L83.05 170.01zM88.62 167.66L90.36 170.7L86.89 170.7zM92.46 168.4L94.2 171.45L90.72 171.45zM96.29 169.45L98.03 172.49L94.55 172.49zM100.13 170.89L101.87 173.94L98.39 173.94zM103.97 172.46L105.7 175.5L102.23 175.5zM107.8 174.19L109.54 177.24L106.06 177.24zM111.63 176.3L113.37 179.34L109.89 179.34zM115.47 178.34L117.21 181.38L113.73 181.38zM119.31 180.26L121.05 183.31L117.57 183.31zM123.14 181.96L124.88 185L121.4 185zM126.97 183.11L128.72 186.15L125.23 186.15zM130.81 185.36L132.55 188.4L129.07 188.4zM134.65 187.47L136.39 190.51L132.91 190.51zM138.48 189.64L140.22 192.68L136.74 192.68zM142.31 191.75L144.06 194.79L140.57 194.79zM146.15 193.84L147.89 196.88L144.41 196.88zM149.98 196.31L151.72 199.36L148.24 199.36zM153.82 198.74L155.56 201.78L152.08 201.78zM157.66 200.71L159.4 203.75L155.91 203.75zM161.49 202.6L163.23 205.64L159.75 205.64zM165.32 204.77L167.06 207.81L163.58 207.81zM169.16 206.62L170.9 209.67L167.42 209.67zM172.99 207.87L174.73 210.92L171.25 210.92zM176.83 208.9L178.57 211.95L175.09 211.95zM180.66 209.93L182.41 212.97L178.92 212.97zM184.5 211.09L186.24 214.14L182.76 214.14zM188.34 212.12L190.08 215.17L186.59 215.17zM192.17 212.8L193.91 215.84L190.43 215.84zM196 213.33L197.75 216.37L194.26 216.37zM199.84 213.78L201.58 216.82L198.1 216.82zM203.67 214.21L205.41 217.26L201.93 217.26zM207.51 214.84L209.25 217.89L205.77 217.89zM211.34 215.56L213.08 218.61L209.6 218.61zM215.18 216.19L216.92 219.24L213.44 219.24zM219.01 216.72L220.75 219.77L217.27 219.77zM222.85 217.28L224.59 220.33L221.11 220.33zM226.69 217.94L228.43 220.99L224.94 220.99zM230.52 218.89L232.26 221.93L228.78 221.93zM234.35 219.82L236.09 222.86L232.61 222.86zM238.19 221.2L239.93 224.25L236.45 224.25zM242.03 222.53L243.77 225.58L240.28 225.58zM245.86 224.36L247.6 227.4L244.12 227.4zM249.69 226.34L251.43 229.38L247.95 229.38zM253.53 229.12L255.27 232.16L251.79 232.16zM257.37 232.19L259.11 235.24L255.62 235.24zM261.2 235.32L262.94 238.37L259.46 238.37z" fill="#1e5ef5"/>
<path d="M31.1 178.79L32.84 175.74L29.36 175.74zM34.94 175.99L36.68 172.95L33.2 172.95zM38.77 173.93L40.51 170.89L37.03 170.89zM42.61 172.23L44.35 169.19L40.87 169.19zM46.44 171.13L48.18 168.09L44.7 168.09zM50.28 170.22L52.02 167.18L48.54 167.18zM54.11 169.16L55.85 166.11L52.37 166.11zM57.95 168.39L59.69 165.34L56.21 165.34zM61.78 167.67L63.52 164.63L60.04 164.63zM65.62 167.32L67.36 164.27L63.88 164.27zM69.45 167.28L71.19 164.24L67.71 164.24zM73.28 167.54L75.02 164.49L71.55 164.49zM77.12 168.07L78.86 165.02L75.38 165.02zM80.95 168.72L82.69 165.68L79.22 165.68zM84.79 169.22L86.53 166.18L83.05 166.18zM88.62 170.07L90.36 167.03L86.89 167.03zM92.46 170.83L94.2 167.79L90.72 167.79zM96.29 171.92L98.03 168.88L94.55 168.88zM100.13 173.44L101.87 170.39L98.39 170.39zM103.97 175.02L105.7 171.97L102.23 171.97zM107.8 176.73L109.54 173.68L106.06 173.68zM111.63 178.77L113.37 175.73L109.89 175.73zM115.47 180.93L117.21 177.89L113.73 177.89zM119.31 183.07L121.05 180.02L117.57 180.02zM123.14 185.02L124.88 181.97L121.4 181.97zM126.97 187.47L128.72 184.42L125.23 184.42zM130.81 190L132.55 186.95L129.07 186.95zM134.65 192.33L136.39 189.29L132.91 189.29zM138.48 194.71L140.22 191.66L136.74 191.66zM142.31 196.91L144.06 193.86L140.57 193.86zM146.15 198.9L147.89 195.86L144.41 195.86zM149.98 201.3L151.72 198.26L148.24 198.26zM153.82 203.68L155.56 200.63L152.08 200.63zM157.66 205.6L159.4 202.55L155.91 202.55zM161.49 207.42L163.23 204.38L159.75 204.38zM165.32 209.46L167.06 206.42L163.58 206.42zM169.16 211.19L170.9 208.15L167.42 208.15zM172.99 212.36L174.73 209.31L171.25 209.31zM176.83 213.32L178.57 210.27L175.09 210.27zM180.66 214.27L182.41 211.22L178.92 211.22zM184.5 215.35L186.24 212.31L182.76 212.31zM188.34 216.33L190.08 213.28L186.59 213.28zM192.17 216.99L193.91 213.95L190.43 213.95zM196 217.53L197.75 214.48L194.26 214.48zM199.84 217.98L201.58 214.94L198.1 214.94zM203.67 218.43L205.41 215.38L201.93 215.38zM207.51 219.08L209.25 216.03L205.77 216.03zM211.34 219.84L213.08 216.79L209.6 216.79zM215.18 220.55L216.92 217.51L213.44 217.51zM219.01 221.18L220.75 218.14L217.27 218.14zM222.85 221.8L224.59 218.75L221.11 218.75zM226.69 222.53L228.43 219.48L224.94 219.48zM230.52 223.6L232.26 220.55L228.78 220.55zM234.35 224.7L236.09 221.65L232.61 221.65zM238.19 226.28L239.93 223.23L236.45 223.23zM242.03 227.97L243.77 224.93L240.28 224.93zM245.86 230.18L247.6 227.13L244.12 227.13zM249.69 232.8L251.43 229.75L247.95 229.75zM253.53 235.98L255.27 232.93L251.79 232.93zM257.37 239.73L259.11 236.68L255.62 236.68zM261.2 243.16L262.94 240.11L259.46 240.11z" fill="#2a9f5c"/>
<path d="M31.1 173.66L32.84 175.4L31.1 177.14L29.36 175.4zM34.94 170.79L36.68 172.53L34.94 174.27L33.2 172.53zM38.77 168.59L40.51 170.33L38.77 172.07L37.03 170.33zM42.61 166.88L44.35 168.62L42.61 170.36L40.87 168.62zM46.44 165.72L48.18 167.46L46.44 169.2L44.7 167.46zM50.28 164.74L52.02 166.48L50.28 168.22L48.54 166.48zM54.11 163.72L55.85 165.46L54.11 167.2L52.37 165.46zM57.95 163.06L59.69 164.8L57.95 166.54L56.21 164.8zM61.78 162.58L63.52 164.32L61.78 166.06L60.04 164.32zM65.62 162.34L67.36 164.08L65.62 165.82L63.88 164.08zM69.45 162.45L71.19 164.19L69.45 165.93L67.71 164.19zM73.28 162.78L75.02 164.52L73.28 166.26L71.55 164.52zM77.12 163.35L78.86 165.09L77.12 166.83L75.38 165.09zM80.95 164.1L82.69 165.84L80.95 167.58L79.22 165.84zM84.79 164.65L86.53 166.39L84.79 168.13L83.05 166.39zM88.62 165.56L90.36 167.3L88.62 169.04L86.89 167.3zM92.46 166.3L94.2 168.04L92.46 169.78L90.72 168.04zM96.29 167.43L98.03 169.17L96.29 170.91L94.55 169.17zM100.13 169.02L101.87 170.76L100.13 172.5L98.39 170.76zM103.97 170.62L105.7 172.36L103.97 174.1L102.23 172.36zM107.8 172.3L109.54 174.04L107.8 175.78L106.06 174.04zM111.63 174.29L113.37 176.03L111.63 177.77L109.89 176.03zM115.47 176.57L117.21 178.31L115.47 180.05L113.73 178.31zM119.31 178.91L121.05 180.65L119.31 182.39L117.57 180.65zM123.14 181.12L124.88 182.86L123.14 184.6L121.4 182.86zM126.97 185.09L128.72 186.83L126.97 188.57L125.23 186.83zM130.81 187.97L132.55 189.71L130.81 191.45L129.07 189.71zM134.65 190.59L136.39 192.33L134.65 194.07L132.91 192.33zM138.48 193.22L140.22 194.96L138.48 196.7L136.74 194.96zM142.31 195.53L144.06 197.27L142.31 199.01L140.57 197.27zM146.15 197.4L147.89 199.14L146.15 200.88L144.41 199.14zM149.98 199.71L151.72 201.45L149.98 203.19L148.24 201.45zM153.82 202.02L155.56 203.76L153.82 205.5L152.08 203.76zM157.66 203.87L159.4 205.61L157.66 207.35L155.91 205.61zM161.49 205.62L163.23 207.36L161.49 209.1L159.75 207.36zM165.32 207.5L167.06 209.24L165.32 210.98L163.58 209.24zM169.16 209.08L170.9 210.82L169.16 212.56L167.42 210.82zM172.99 210.13L174.73 211.87L172.99 213.61L171.25 211.87zM176.83 211L178.57 212.74L176.83 214.48L175.09 212.74zM180.66 211.87L182.41 213.61L180.66 215.35L178.92 213.61zM184.5 212.85L186.24 214.59L184.5 216.33L182.76 214.59zM188.34 213.75L190.08 215.49L188.34 217.23L186.59 215.49zM192.17 214.4L193.91 216.14L192.17 217.88L190.43 216.14zM196 214.95L197.75 216.69L196 218.43L194.26 216.69zM199.84 215.41L201.58 217.15L199.84 218.89L198.1 217.15zM203.67 215.87L205.41 217.61L203.67 219.35L201.93 217.61zM207.51 216.54L209.25 218.28L207.51 220.02L205.77 218.28zM211.34 217.34L213.08 219.08L211.34 220.82L209.6 219.08zM215.18 218.16L216.92 219.9L215.18 221.64L213.44 219.9zM219.01 218.77L220.75 220.51L219.01 222.25L217.27 220.51zM222.85 219.31L224.59 221.05L222.85 222.79L221.11 221.05zM226.69 219.94L228.43 221.68L226.69 223.42L224.94 221.68zM230.52 220.93L232.26 222.67L230.52 224.41L228.78 222.67zM234.35 221.94L236.09 223.68L234.35 225.42L232.61 223.68zM238.19 223.38L239.93 225.12L238.19 226.86L236.45 225.12zM242.03 225.08L243.77 226.82L242.03 228.56L240.28 226.82zM245.86 227.4L247.6 229.14L245.86 230.88L244.12 229.14zM249.69 230.21L251.43 231.95L249.69 233.69L247.95 231.95zM253.53 233.51L255.27 235.25L253.53 236.99L251.79 235.25zM257.37 237.46L259.11 239.2L257.37 240.94L255.62 239.2zM261.2 240.99L262.94 242.73L261.2 244.47L259.46 242.73z" fill="#a55cf0"/>
<path d="M29.36 173.42L32.41 171.68L32.41 175.16zM33.2 170.46L36.24 168.72L36.24 172.2zM37.03 168.1L40.08 166.36L40.08 169.84zM40.87 166.37L43.91 164.63L43.91 168.11zM44.7 165.14L47.74 163.4L47.74 166.88zM48.54 164.07L51.58 162.33L51.58 165.81zM52.37 163.11L55.41 161.37L55.41 164.85zM56.21 162.58L59.25 160.84L59.25 164.32zM60.04 162.39L63.09 160.65L63.09 164.13zM63.88 162.29L66.92 160.55L66.92 164.03zM67.71 162.56L70.76 160.82L70.76 164.3zM71.55 162.98L74.59 161.24L74.59 164.72zM75.38 163.61L78.43 161.87L78.43 165.35zM79.22 164.47L82.26 162.73L82.26 166.21zM83.05 165.07L86.1 163.33L86.1 166.81zM86.89 166.06L89.93 164.32L89.93 167.8zM90.72 166.78L93.77 165.04L93.77 168.52zM94.55 167.97L97.6 166.23L97.6 169.71zM98.39 169.64L101.44 167.9L101.44 171.38zM102.23 171.25L105.27 169.51L105.27 172.99zM106.06 172.91L109.11 171.17L109.11 174.65zM109.89 174.82L112.94 173.08L112.94 176.56zM113.73 177.25L116.78 175.51L116.78 178.99zM117.57 179.84L120.61 178.1L120.61 181.58zM121.4 182.35L124.44 180.61L124.44 184.09zM125.23 187.04L128.28 185.3L128.28 188.78zM129.07 190L132.12 188.26L132.12 191.74zM132.91 192.67L135.95 190.93L135.95 194.41zM136.74 195.36L139.79 193.62L139.79 197.1zM140.57 197.69L143.62 195.95L143.62 199.43zM144.41 199.54L147.46 197.8L147.46 201.28zM148.24 201.83L151.29 200.09L151.29 203.57zM152.08 204.12L155.12 202.38L155.12 205.86zM155.91 205.97L158.96 204.23L158.96 207.71zM159.75 207.69L162.79 205.95L162.79 209.43zM163.58 209.54L166.63 207.8L166.63 211.28zM167.42 211.09L170.47 209.35L170.47 212.83zM171.25 212.13L174.3 210.39L174.3 213.87zM175.09 212.97L178.13 211.23L178.13 214.71zM178.92 213.82L181.97 212.08L181.97 215.56zM182.76 214.79L185.81 213.05L185.81 216.53zM186.59 215.67L189.64 213.93L189.64 217.41zM190.43 216.32L193.47 214.58L193.47 218.06zM194.26 216.87L197.31 215.13L197.31 218.61zM198.1 217.33L201.14 215.59L201.14 219.07zM201.93 217.8L204.98 216.06L204.98 219.54zM205.77 218.47L208.81 216.73L208.81 220.21zM209.6 219.28L212.65 217.54L212.65 221.02zM213.44 220.13L216.48 218.39L216.48 221.87zM217.27 220.98L220.32 219.24L220.32 222.72zM221.11 221.76L224.16 220.02L224.16 223.5zM224.94 222.68L227.99 220.94L227.99 224.42zM228.78 224.04L231.82 222.3L231.82 225.78zM232.61 225.55L235.66 223.81L235.66 227.29zM236.45 227.59L239.5 225.85L239.5 229.33zM240.28 230.06L243.33 228.32L243.33 231.8zM244.12 233L247.17 231.26L247.17 234.74zM247.95 236.87L251 235.13L251 238.61zM251.79 240.82L254.83 239.08L254.83 242.56zM255.62 245.89L258.67 244.15L258.67 247.63zM259.46 249.92L262.5 248.18L262.5 251.66z" fill="#dc9a0a"/>
<path d="M32.84 172.1L29.8 170.36L29.8 173.84zM36.68 169.08L33.63 167.34L33.63 170.82zM40.51 166.62L37.47 164.88L37.47 168.36zM44.35 164.88L41.3 163.14L41.3 166.62zM48.18 163.59L45.13 161.85L45.13 165.33zM52.02 162.46L48.97 160.72L48.97 164.2zM55.85 161.54L52.8 159.8L52.8 163.28zM59.69 161.11L56.64 159.37L56.64 162.85zM63.52 161.1L60.48 159.36L60.48 162.84zM67.36 161.1L64.31 159.36L64.31 162.84zM71.19 161.48L68.14 159.74L68.14 163.22zM75.02 161.95L71.98 160.21L71.98 163.69zM78.86 162.62L75.81 160.88L75.81 164.36zM82.69 163.55L79.65 161.81L79.65 165.29zM86.53 164.2L83.48 162.46L83.48 165.94zM90.36 165.23L87.32 163.49L87.32 166.97zM94.2 165.94L91.16 164.2L91.16 167.68zM98.03 167.16L94.99 165.42L94.99 168.9zM101.87 168.89L98.82 167.15L98.82 170.63zM105.7 170.52L102.66 168.78L102.66 172.26zM109.54 172.15L106.5 170.41L106.5 173.89zM113.37 174.02L110.33 172.28L110.33 175.76zM117.21 176.55L114.16 174.81L114.16 178.29zM121.05 179.3L118 177.56L118 181.04zM124.88 182.02L121.83 180.28L121.83 183.76zM128.72 187.7L125.67 185.96L125.67 189.44zM132.55 190.87L129.5 189.13L129.5 192.61zM136.39 193.71L133.34 191.97L133.34 195.45zM140.22 196.55L137.18 194.81L137.18 198.29zM144.06 198.95L141.01 197.21L141.01 200.69zM147.89 200.72L144.84 198.98L144.84 202.46zM151.72 202.97L148.68 201.23L148.68 204.71zM155.56 205.21L152.51 203.47L152.51 206.95zM159.4 207.02L156.35 205.28L156.35 208.76zM163.23 208.7L160.18 206.96L160.18 210.44zM167.06 210.45L164.02 208.71L164.02 212.19zM170.9 211.91L167.85 210.17L167.85 213.65zM174.73 212.88L171.69 211.14L171.69 214.62zM178.57 213.67L175.52 211.93L175.52 215.41zM182.41 214.47L179.36 212.73L179.36 216.21zM186.24 215.37L183.19 213.63L183.19 217.11zM190.08 216.21L187.03 214.47L187.03 217.95zM193.91 216.86L190.86 215.12L190.86 218.6zM197.75 217.41L194.7 215.67L194.7 219.15zM201.58 217.88L198.53 216.14L198.53 219.62zM205.41 218.35L202.37 216.61L202.37 220.09zM209.25 219.04L206.2 217.3L206.2 220.78zM213.08 219.88L210.04 218.14L210.04 221.62zM216.92 220.79L213.87 219.05L213.87 222.53zM220.75 221.75L217.71 220.01L217.71 223.49zM224.59 222.64L221.54 220.9L221.54 224.38zM228.43 223.66L225.38 221.92L225.38 225.4zM232.26 225.19L229.21 223.45L229.21 226.93zM236.09 226.93L233.05 225.19L233.05 228.67zM239.93 229.23L236.88 227.49L236.88 230.97zM243.77 232.12L240.72 230.38L240.72 233.86zM247.6 235.46L244.56 233.72L244.56 237.2zM251.43 239.99L248.39 238.25L248.39 241.73zM255.27 244.37L252.22 242.63L252.22 246.11zM259.11 250.14L256.06 248.4L256.06 251.88zM262.94 254.5L259.89 252.76L259.89 256.24z" fill="#12d2d6"/>
<path d="M31.1 133.9H261.2" stroke="#333" stroke-width="0.9" fill="none"/>
<path d="M31.1 133.4v2M42.64 133.6v1.3M49.4 133.6v1.3M54.19 133.6v1.3M57.91 133.6v1.3M60.94 133.6v1.3M63.51 133.6v1.3M65.73 133.6v1.3M67.7 133.6v1.3M69.45 133.4v2M80.99 133.6v1.3M87.75 133.6v1.3M92.54 133.6v1.3M96.26 133.6v1.3M99.29 133.6v1.3M101.86 133.6v1.3M104.08 133.6v1.3M106.05 133.6v1.3M107.8 133.4v2M119.34 133.6v1.3M126.1 133.6v1.3M130.89 133.6v1.3M134.61 133.6v1.3M137.64 133.6v1.3M140.21 133.6v1.3M142.43 133.6v1.3M144.4 133.6v1.3M146.15 133.4v2M157.69 133.6v1.3M164.45 133.6v1.3M169.24 133.6v1.3M172.96 133.6v1.3M175.99 133.6v1.3M178.56 133.6v1.3M180.78 133.6v1.3M182.75 133.6v1.3M184.5 133.4v2M196.04 133.6v1.3M202.8 133.6v1.3M207.59 133.6v1.3M211.31 133.6v1.3M214.34 133.6v1.3M216.91 133.6v1.3M219.13 133.6v1.3M221.1 133.6v1.3M222.85 133.4v2M234.39 133.6v1.3M241.15 133.6v1.3M245.94 133.6v1.3M249.66 133.6v1.3M252.69 133.6v1.3M255.26 133.6v1.3M257.48 133.6v1.3M259.45 133.6v1.3M261.2 133.4v2" stroke="#333" stroke-width="0.7" fill="none"/>
<text class="tk" x="31.7" y="142" font-size="4.9" text-anchor="middle">10<tspan font-size="3.82" dy="-1.5">0</tspan></text>
<text class="tk" x="70.05" y="142" font-size="4.9" text-anchor="middle">10<tspan font-size="3.82" dy="-1.5">1</tspan></text>
<text class="tk" x="108.4" y="142" font-size="4.9" text-anchor="middle">10<tspan font-size="3.82" dy="-1.5">2</tspan></text>
<text class="tk" x="146.75" y="142" font-size="4.9" text-anchor="middle">10<tspan font-size="3.82" dy="-1.5">3</tspan></text>
<text class="tk" x="185.1" y="142" font-size="4.9" text-anchor="middle">10<tspan font-size="3.82" dy="-1.5">4</tspan></text>
<text class="tk" x="223.45" y="142" font-size="4.9" text-anchor="middle">10<tspan font-size="3.82" dy="-1.5">5</tspan></text>
<text class="tk" x="261.8" y="142" font-size="4.9" text-anchor="middle">10<tspan font-size="3.82" dy="-1.5">6</tspan></text>
<path d="M31.1 22.6V133.9" stroke="#333" stroke-width="0.9" fill="none"/>
<path d="M31.4 133.36h-1.3M31.4 130.38h-1.3M31.4 127.75h-1.3M31.5 125.4h-3M31.4 109.93h-1.3M31.4 100.88h-1.3M31.4 94.45h-1.3M31.4 89.47h-1.3M31.4 85.4h-1.3M31.4 81.96h-1.3M31.4 78.98h-1.3M31.4 76.35h-1.3M31.5 74h-3M31.4 58.53h-1.3M31.4 49.48h-1.3M31.4 43.05h-1.3M31.4 38.07h-1.3M31.4 34h-1.3M31.4 30.56h-1.3M31.4 27.58h-1.3M31.4 24.95h-1.3M31.5 22.6h-3" stroke="#333" stroke-width="0.7" fill="none"/>
<text class="tk" x="26.5" y="127.72" font-size="4.9" text-anchor="end">10<tspan font-size="3.43" dy="-1.3">2</tspan></text>
<text class="tk" x="26.5" y="76.31" font-size="4.9" text-anchor="end">10<tspan font-size="3.43" dy="-1.3">3</tspan></text>
<text class="tk" x="26.5" y="24.92" font-size="4.9" text-anchor="end">10<tspan font-size="3.43" dy="-1.3">4</tspan></text>
<path d="M31.1 258.9H261.2" stroke="#333" stroke-width="0.9" fill="none"/>
<path d="M31.1 258.4v2M42.64 258.6v1.3M49.4 258.6v1.3M54.19 258.6v1.3M57.91 258.6v1.3M60.94 258.6v1.3M63.51 258.6v1.3M65.73 258.6v1.3M67.7 258.6v1.3M69.45 258.4v2M80.99 258.6v1.3M87.75 258.6v1.3M92.54 258.6v1.3M96.26 258.6v1.3M99.29 258.6v1.3M101.86 258.6v1.3M104.08 258.6v1.3M106.05 258.6v1.3M107.8 258.4v2M119.34 258.6v1.3M126.1 258.6v1.3M130.89 258.6v1.3M134.61 258.6v1.3M137.64 258.6v1.3M140.21 258.6v1.3M142.43 258.6v1.3M144.4 258.6v1.3M146.15 258.4v2M157.69 258.6v1.3M164.45 258.6v1.3M169.24 258.6v1.3M172.96 258.6v1.3M175.99 258.6v1.3M178.56 258.6v1.3M180.78 258.6v1.3M182.75 258.6v1.3M184.5 258.4v2M196.04 258.6v1.3M202.8 258.6v1.3M207.59 258.6v1.3M211.31 258.6v1.3M214.34 258.6v1.3M216.91 258.6v1.3M219.13 258.6v1.3M221.1 258.6v1.3M222.85 258.4v2M234.39 258.6v1.3M241.15 258.6v1.3M245.94 258.6v1.3M249.66 258.6v1.3M252.69 258.6v1.3M255.26 258.6v1.3M257.48 258.6v1.3M259.45 258.6v1.3M261.2 258.4v2" stroke="#333" stroke-width="0.7" fill="none"/>
<text class="tk" x="31.7" y="267" font-size="4.9" text-anchor="middle">10<tspan font-size="3.82" dy="-1.5">0</tspan></text>
<text class="tk" x="70.05" y="267" font-size="4.9" text-anchor="middle">10<tspan font-size="3.82" dy="-1.5">1</tspan></text>
<text class="tk" x="108.4" y="267" font-size="4.9" text-anchor="middle">10<tspan font-size="3.82" dy="-1.5">2</tspan></text>
<text class="tk" x="146.75" y="267" font-size="4.9" text-anchor="middle">10<tspan font-size="3.82" dy="-1.5">3</tspan></text>
<text class="tk" x="185.1" y="267" font-size="4.9" text-anchor="middle">10<tspan font-size="3.82" dy="-1.5">4</tspan></text>
<text class="tk" x="223.45" y="267" font-size="4.9" text-anchor="middle">10<tspan font-size="3.82" dy="-1.5">5</tspan></text>
<text class="tk" x="261.8" y="267" font-size="4.9" text-anchor="middle">10<tspan font-size="3.82" dy="-1.5">6</tspan></text>
<path d="M31.1 150.4V258.9" stroke="#333" stroke-width="0.9" fill="none"/>
<path d="M31.5 150.4h-3M31.4 158.68h-1.3M31.5 166.95h-3M31.4 175.22h-1.3M31.5 183.5h-3M31.4 191.78h-1.3M31.5 200.05h-3M31.4 208.32h-1.3M31.5 216.6h-3M31.4 224.88h-1.3M31.5 233.15h-3M31.4 241.43h-1.3M31.5 249.7h-3" stroke="#333" stroke-width="0.7" fill="none"/>
<text class="tk" x="26.5" y="152.15" font-size="5" text-anchor="end">-80</text>
<text class="tk" x="26.5" y="168.7" font-size="5" text-anchor="end">-60</text>
<text class="tk" x="26.5" y="185.25" font-size="5" text-anchor="end">-40</text>
<text class="tk" x="26.5" y="201.8" font-size="5" text-anchor="end">-20</text>
<text class="tk" x="26.5" y="218.35" font-size="5" text-anchor="end">0</text>
<text class="tk" x="26.5" y="234.9" font-size="5" text-anchor="end">20</text>
<text class="tk" x="26.5" y="251.45" font-size="5" text-anchor="end">40</text>
<text class="ti" font-size="6.6" text-anchor="middle" transform="translate(8.48 77.1) rotate(-90)">|Z| [ohm]</text>
<text class="ti" font-size="6.6" text-anchor="middle" transform="translate(5.38 197.6) rotate(-90)">Theta [degree]</text>
<text class="fq" x="150.9" y="279" font-size="6.7" text-anchor="middle">Frequency [Hz]</text>
<text class="cp" x="129.9" y="299" font-size="8.4" text-anchor="middle">(a)</text>
<rect x="222.8" y="7.2" width="61.2" height="58.2" fill="#fff" stroke="#777" stroke-width="0.8"/>
<path d="M230.2 10.2h3.2v3.2h-3.2z" fill="#111111"/>
<path d="M230.12 20a1.68 1.68 0 1 0 3.36 0a1.68 1.68 0 1 0 -3.36 0z" fill="#f41c24"/>
<path d="M231.8 26.28L233.72 29.64L229.88 29.64z" fill="#1e5ef5"/>
<path d="M231.8 38.32L233.72 34.96L229.88 34.96z" fill="#2a9f5c"/>
<path d="M231.8 42.68L233.72 44.6L231.8 46.52L229.88 44.6z" fill="#a55cf0"/>
<path d="M229.88 52.8L233.24 50.88L233.24 54.72z" fill="#dc9a0a"/>
<path d="M233.72 61L230.36 59.08L230.36 62.92z" fill="#12d2d6"/>
<g transform="translate(241.7 0) scale(1.02 1)">
<text class="lg" x="0" y="14.18" font-size="6.8">first cycle</text>
<text class="lg" x="0" y="22.38" font-size="6.8">second cycle</text>
<text class="lg" x="0" y="30.58" font-size="6.8">third cycle</text>
<text class="lg" x="0" y="38.78" font-size="6.8">fourth cycle</text>
<text class="lg" x="0" y="46.98" font-size="6.8">fifth cycle</text>
<text class="lg" x="0" y="55.18" font-size="6.8">sixth cycle</text>
<text class="lg" x="0" y="63.38" font-size="6.8">seventh cycle</text>
</g>
<path d="M320.85 13.08h2.7v2.7h-2.7zM324.49 15.64h2.7v2.7h-2.7zM328.13 18.24h2.7v2.7h-2.7zM331.77 20.92h2.7v2.7h-2.7zM335.41 23.65h2.7v2.7h-2.7zM339.05 26.41h2.7v2.7h-2.7zM342.69 29.26h2.7v2.7h-2.7zM346.33 32.49h2.7v2.7h-2.7zM349.97 35.96h2.7v2.7h-2.7zM353.61 39.71h2.7v2.7h-2.7zM357.25 43.45h2.7v2.7h-2.7zM360.89 47.02h2.7v2.7h-2.7zM364.53 50.51h2.7v2.7h-2.7zM368.17 53.95h2.7v2.7h-2.7zM371.81 57.27h2.7v2.7h-2.7zM375.45 60.6h2.7v2.7h-2.7zM379.09 63.48h2.7v2.7h-2.7zM382.73 65.58h2.7v2.7h-2.7zM386.37 68.16h2.7v2.7h-2.7zM390.01 70.89h2.7v2.7h-2.7zM393.65 73.07h2.7v2.7h-2.7zM397.29 75.07h2.7v2.7h-2.7zM400.93 77.07h2.7v2.7h-2.7zM404.57 78.96h2.7v2.7h-2.7zM408.21 80.67h2.7v2.7h-2.7zM411.85 82.35h2.7v2.7h-2.7zM415.49 84.18h2.7v2.7h-2.7zM419.13 86.04h2.7v2.7h-2.7zM422.77 87.91h2.7v2.7h-2.7zM426.41 89.63h2.7v2.7h-2.7zM430.05 91.05h2.7v2.7h-2.7zM433.69 92.3h2.7v2.7h-2.7zM437.33 93.48h2.7v2.7h-2.7zM440.97 94.37h2.7v2.7h-2.7zM444.61 94.95h2.7v2.7h-2.7zM448.25 95.42h2.7v2.7h-2.7zM451.89 95.75h2.7v2.7h-2.7zM455.53 95.93h2.7v2.7h-2.7zM459.17 96.07h2.7v2.7h-2.7zM462.81 96.18h2.7v2.7h-2.7zM466.45 96.24h2.7v2.7h-2.7zM470.09 96.25h2.7v2.7h-2.7zM473.73 96.25h2.7v2.7h-2.7zM477.37 96.24h2.7v2.7h-2.7zM481.01 96.23h2.7v2.7h-2.7zM484.65 96.22h2.7v2.7h-2.7zM488.29 96.2h2.7v2.7h-2.7zM491.93 96.19h2.7v2.7h-2.7zM495.57 96.18h2.7v2.7h-2.7zM499.21 96.17h2.7v2.7h-2.7zM502.85 96.16h2.7v2.7h-2.7zM506.49 96.15h2.7v2.7h-2.7zM510.13 96.15h2.7v2.7h-2.7zM513.77 96.15h2.7v2.7h-2.7zM517.41 96.14h2.7v2.7h-2.7zM521.05 95.99h2.7v2.7h-2.7zM524.69 95.71h2.7v2.7h-2.7zM528.33 95.23h2.7v2.7h-2.7zM531.97 94.57h2.7v2.7h-2.7zM535.61 93.6h2.7v2.7h-2.7zM539.25 92.15h2.7v2.7h-2.7z" fill="#111111"/>
<path d="M320.78 14.6a1.42 1.42 0 1 0 2.84 0a1.42 1.42 0 1 0 -2.84 0zM324.42 17.48a1.42 1.42 0 1 0 2.84 0a1.42 1.42 0 1 0 -2.84 0zM328.06 20.45a1.42 1.42 0 1 0 2.84 0a1.42 1.42 0 1 0 -2.84 0zM331.7 23.47a1.42 1.42 0 1 0 2.84 0a1.42 1.42 0 1 0 -2.84 0zM335.34 26.54a1.42 1.42 0 1 0 2.84 0a1.42 1.42 0 1 0 -2.84 0zM338.98 29.67a1.42 1.42 0 1 0 2.84 0a1.42 1.42 0 1 0 -2.84 0zM342.62 32.96a1.42 1.42 0 1 0 2.84 0a1.42 1.42 0 1 0 -2.84 0zM346.26 36.44a1.42 1.42 0 1 0 2.84 0a1.42 1.42 0 1 0 -2.84 0zM349.9 40.05a1.42 1.42 0 1 0 2.84 0a1.42 1.42 0 1 0 -2.84 0zM353.54 43.78a1.42 1.42 0 1 0 2.84 0a1.42 1.42 0 1 0 -2.84 0zM357.18 47.5a1.42 1.42 0 1 0 2.84 0a1.42 1.42 0 1 0 -2.84 0zM360.82 51.11a1.42 1.42 0 1 0 2.84 0a1.42 1.42 0 1 0 -2.84 0zM364.46 54.63a1.42 1.42 0 1 0 2.84 0a1.42 1.42 0 1 0 -2.84 0zM368.1 58.04a1.42 1.42 0 1 0 2.84 0a1.42 1.42 0 1 0 -2.84 0zM371.74 61.35a1.42 1.42 0 1 0 2.84 0a1.42 1.42 0 1 0 -2.84 0zM375.38 64.59a1.42 1.42 0 1 0 2.84 0a1.42 1.42 0 1 0 -2.84 0zM379.02 67.59a1.42 1.42 0 1 0 2.84 0a1.42 1.42 0 1 0 -2.84 0zM382.66 70.28a1.42 1.42 0 1 0 2.84 0a1.42 1.42 0 1 0 -2.84 0zM386.3 73.12a1.42 1.42 0 1 0 2.84 0a1.42 1.42 0 1 0 -2.84 0zM389.94 75.92a1.42 1.42 0 1 0 2.84 0a1.42 1.42 0 1 0 -2.84 0zM393.58 78.27a1.42 1.42 0 1 0 2.84 0a1.42 1.42 0 1 0 -2.84 0zM397.22 80.45a1.42 1.42 0 1 0 2.84 0a1.42 1.42 0 1 0 -2.84 0zM400.86 82.59a1.42 1.42 0 1 0 2.84 0a1.42 1.42 0 1 0 -2.84 0zM404.5 84.62a1.42 1.42 0 1 0 2.84 0a1.42 1.42 0 1 0 -2.84 0zM408.14 86.48a1.42 1.42 0 1 0 2.84 0a1.42 1.42 0 1 0 -2.84 0zM411.78 88.28a1.42 1.42 0 1 0 2.84 0a1.42 1.42 0 1 0 -2.84 0zM415.42 90.13a1.42 1.42 0 1 0 2.84 0a1.42 1.42 0 1 0 -2.84 0zM419.06 91.94a1.42 1.42 0 1 0 2.84 0a1.42 1.42 0 1 0 -2.84 0zM422.7 93.73a1.42 1.42 0 1 0 2.84 0a1.42 1.42 0 1 0 -2.84 0zM426.34 95.36a1.42 1.42 0 1 0 2.84 0a1.42 1.42 0 1 0 -2.84 0zM429.98 96.71a1.42 1.42 0 1 0 2.84 0a1.42 1.42 0 1 0 -2.84 0zM433.62 97.84a1.42 1.42 0 1 0 2.84 0a1.42 1.42 0 1 0 -2.84 0zM437.26 98.85a1.42 1.42 0 1 0 2.84 0a1.42 1.42 0 1 0 -2.84 0zM440.9 99.57a1.42 1.42 0 1 0 2.84 0a1.42 1.42 0 1 0 -2.84 0zM444.54 99.99a1.42 1.42 0 1 0 2.84 0a1.42 1.42 0 1 0 -2.84 0zM448.18 100.33a1.42 1.42 0 1 0 2.84 0a1.42 1.42 0 1 0 -2.84 0zM451.82 100.56a1.42 1.42 0 1 0 2.84 0a1.42 1.42 0 1 0 -2.84 0zM455.46 100.68a1.42 1.42 0 1 0 2.84 0a1.42 1.42 0 1 0 -2.84 0zM459.1 100.77a1.42 1.42 0 1 0 2.84 0a1.42 1.42 0 1 0 -2.84 0zM462.74 100.84a1.42 1.42 0 1 0 2.84 0a1.42 1.42 0 1 0 -2.84 0zM466.38 100.88a1.42 1.42 0 1 0 2.84 0a1.42 1.42 0 1 0 -2.84 0zM470.02 100.89a1.42 1.42 0 1 0 2.84 0a1.42 1.42 0 1 0 -2.84 0zM473.66 100.88a1.42 1.42 0 1 0 2.84 0a1.42 1.42 0 1 0 -2.84 0zM477.3 100.88a1.42 1.42 0 1 0 2.84 0a1.42 1.42 0 1 0 -2.84 0zM480.94 100.86a1.42 1.42 0 1 0 2.84 0a1.42 1.42 0 1 0 -2.84 0zM484.58 100.85a1.42 1.42 0 1 0 2.84 0a1.42 1.42 0 1 0 -2.84 0zM488.22 100.83a1.42 1.42 0 1 0 2.84 0a1.42 1.42 0 1 0 -2.84 0zM491.86 100.8a1.42 1.42 0 1 0 2.84 0a1.42 1.42 0 1 0 -2.84 0zM495.5 100.78a1.42 1.42 0 1 0 2.84 0a1.42 1.42 0 1 0 -2.84 0zM499.14 100.75a1.42 1.42 0 1 0 2.84 0a1.42 1.42 0 1 0 -2.84 0zM502.78 100.73a1.42 1.42 0 1 0 2.84 0a1.42 1.42 0 1 0 -2.84 0zM506.42 100.7a1.42 1.42 0 1 0 2.84 0a1.42 1.42 0 1 0 -2.84 0zM510.06 100.68a1.42 1.42 0 1 0 2.84 0a1.42 1.42 0 1 0 -2.84 0zM513.7 100.63a1.42 1.42 0 1 0 2.84 0a1.42 1.42 0 1 0 -2.84 0zM517.34 100.54a1.42 1.42 0 1 0 2.84 0a1.42 1.42 0 1 0 -2.84 0zM520.98 100.27a1.42 1.42 0 1 0 2.84 0a1.42 1.42 0 1 0 -2.84 0zM524.62 99.82a1.42 1.42 0 1 0 2.84 0a1.42 1.42 0 1 0 -2.84 0zM528.26 99.14a1.42 1.42 0 1 0 2.84 0a1.42 1.42 0 1 0 -2.84 0zM531.9 98.25a1.42 1.42 0 1 0 2.84 0a1.42 1.42 0 1 0 -2.84 0zM535.54 97.01a1.42 1.42 0 1 0 2.84 0a1.42 1.42 0 1 0 -2.84 0zM539.18 95.34a1.42 1.42 0 1 0 2.84 0a1.42 1.42 0 1 0 -2.84 0z" fill="#f41c24"/>
<path d="M322.2 12.98L323.82 15.81L320.58 15.81zM325.84 15.69L327.46 18.53L324.22 18.53zM329.48 18.46L331.1 21.29L327.86 21.29zM333.12 21.3L334.74 24.14L331.5 24.14zM336.76 24.19L338.38 27.03L335.14 27.03zM340.4 27.14L342.02 29.97L338.78 29.97zM344.04 30.2L345.66 33.04L342.42 33.04zM347.68 33.56L349.3 36.39L346.06 36.39zM351.32 37.1L352.94 39.94L349.7 39.94zM354.96 40.84L356.58 43.67L353.34 43.67zM358.6 44.57L360.22 47.4L356.98 47.4zM362.24 48.16L363.86 50.99L360.62 50.99zM365.88 51.66L367.5 54.5L364.26 54.5zM369.52 55.09L371.14 57.92L367.9 57.92zM373.16 58.41L374.78 61.24L371.54 61.24zM376.8 61.69L378.42 64.52L375.18 64.52zM380.44 64.63L382.06 67.47L378.82 67.47zM384.08 67.03L385.7 69.87L382.46 69.87zM387.72 69.75L389.34 72.58L386.1 72.58zM391.36 72.51L392.98 75.35L389.74 75.35zM395 74.78L396.62 77.61L393.38 77.61zM398.64 76.87L400.26 79.71L397.02 79.71zM402.28 78.94L403.9 81.78L400.66 81.78zM405.92 80.9L407.54 83.74L404.3 83.74zM409.56 82.69L411.18 85.53L407.94 85.53zM413.2 84.44L414.82 87.27L411.58 87.27zM416.84 86.28L418.46 89.11L415.22 89.11zM420.48 88.11L422.1 90.95L418.86 90.95zM424.12 89.94L425.74 92.77L422.5 92.77zM427.76 91.61L429.38 94.45L426.14 94.45zM431.4 93L433.02 95.83L429.78 95.83zM435.04 94.18L436.66 97.02L433.42 97.02zM438.68 95.27L440.3 98.11L437.06 98.11zM442.32 96.08L443.94 98.91L440.7 98.91zM445.96 96.58L447.58 99.42L444.34 99.42zM449.6 96.98L451.22 99.82L447.98 99.82zM453.24 97.26L454.86 100.1L451.62 100.1zM456.88 97.41L458.5 100.25L455.26 100.25zM460.52 97.52L462.14 100.36L458.9 100.36zM464.16 97.61L465.78 100.45L462.54 100.45zM467.8 97.66L469.42 100.5L466.18 100.5zM471.44 97.67L473.06 100.51L469.82 100.51zM475.08 97.67L476.7 100.5L473.46 100.5zM478.72 97.66L480.34 100.49L477.1 100.49zM482.36 97.65L483.98 100.48L480.74 100.48zM486 97.63L487.62 100.47L484.38 100.47zM489.64 97.62L491.26 100.45L488.02 100.45zM493.28 97.6L494.9 100.43L491.66 100.43zM496.92 97.58L498.54 100.41L495.3 100.41zM500.56 97.56L502.18 100.4L498.94 100.4zM504.2 97.54L505.82 100.38L502.58 100.38zM507.84 97.53L509.46 100.36L506.22 100.36zM511.48 97.51L513.1 100.35L509.86 100.35zM515.12 97.49L516.74 100.33L513.5 100.33zM518.76 97.44L520.38 100.27L517.14 100.27zM522.4 97.22L524.02 100.06L520.78 100.06zM526.04 96.86L527.66 99.7L524.42 99.7zM529.68 96.28L531.3 99.11L528.06 99.11zM533.32 95.5L534.94 98.33L531.7 98.33zM536.96 94.39L538.58 97.22L535.34 97.22zM540.6 92.82L542.22 95.66L538.98 95.66z" fill="#1e5ef5"/>
<path d="M322.2 16.39L323.82 13.55L320.58 13.55zM325.84 19.34L327.46 16.5L324.22 16.5zM329.48 22.39L331.1 19.55L327.86 19.55zM333.12 25.48L334.74 22.65L331.5 22.65zM336.76 28.63L338.38 25.8L335.14 25.8zM340.4 31.86L342.02 29.02L338.78 29.02zM344.04 35.26L345.66 32.42L342.42 32.42zM347.68 38.81L349.3 35.97L346.06 35.97zM351.32 42.45L352.94 39.62L349.7 39.62zM354.96 46.18L356.58 43.34L353.34 43.34zM358.6 49.89L360.22 47.05L356.98 47.05zM362.24 53.51L363.86 50.67L360.62 50.67zM365.88 57.04L367.5 54.2L364.26 54.2zM369.52 60.45L371.14 57.62L367.9 57.62zM373.16 63.75L374.78 60.92L371.54 60.92zM376.8 66.96L378.42 64.13L375.18 64.13zM380.44 70L382.06 67.17L378.82 67.17zM384.08 72.86L385.7 70.02L382.46 70.02zM387.72 75.77L389.34 72.93L386.1 72.93zM391.36 78.59L392.98 75.75L389.74 75.75zM395 80.99L396.62 78.16L393.38 78.16zM398.64 83.22L400.26 80.38L397.02 80.38zM402.28 85.4L403.9 82.56L400.66 82.56zM405.92 87.47L407.54 84.63L404.3 84.63zM409.56 89.38L411.18 86.54L407.94 86.54zM413.2 91.22L414.82 88.38L411.58 88.38zM416.84 93.06L418.46 90.23L415.22 90.23zM420.48 94.86L422.1 92.03L418.86 92.03zM424.12 96.63L425.74 93.79L422.5 93.79zM427.76 98.23L429.38 95.39L426.14 95.39zM431.4 99.56L433.02 96.72L429.78 96.72zM435.04 100.66L436.66 97.82L433.42 97.82zM438.68 101.62L440.3 98.78L437.06 98.78zM442.32 102.28L443.94 99.45L440.7 99.45zM445.96 102.67L447.58 99.83L444.34 99.83zM449.6 102.97L451.22 100.13L447.98 100.13zM453.24 103.17L454.86 100.34L451.62 100.34zM456.88 103.27L458.5 100.44L455.26 100.44zM460.52 103.35L462.14 100.52L458.9 100.52zM464.16 103.41L465.78 100.57L462.54 100.57zM467.8 103.44L469.42 100.61L466.18 100.61zM471.44 103.45L473.06 100.61L469.82 100.61zM475.08 103.44L476.7 100.61L473.46 100.61zM478.72 103.43L480.34 100.6L477.1 100.6zM482.36 103.42L483.98 100.59L480.74 100.59zM486 103.4L487.62 100.57L484.38 100.57zM489.64 103.38L491.26 100.55L488.02 100.55zM493.28 103.36L494.9 100.52L491.66 100.52zM496.92 103.33L498.54 100.49L495.3 100.49zM500.56 103.3L502.18 100.46L498.94 100.46zM504.2 103.27L505.82 100.43L502.58 100.43zM507.84 103.24L509.46 100.4L506.22 100.4zM511.48 103.21L513.1 100.37L509.86 100.37zM515.12 103.15L516.74 100.31L513.5 100.31zM518.76 103.03L520.38 100.2L517.14 100.2zM522.4 102.72L524.02 99.89L520.78 99.89zM526.04 102.24L527.66 99.4L524.42 99.4zM529.68 101.5L531.3 98.66L528.06 98.66zM533.32 100.53L534.94 97.69L531.7 97.69zM536.96 99.22L538.58 96.39L535.34 96.39zM540.6 97.48L542.22 94.65L538.98 94.65z" fill="#2a9f5c"/>
<path d="M322.2 10.43L323.82 12.05L322.2 13.67L320.58 12.05zM325.84 13.85L327.46 15.47L325.84 17.09L324.22 15.47zM329.48 17.34L331.1 18.96L329.48 20.58L327.86 18.96zM333.12 20.81L334.74 22.43L333.12 24.05L331.5 22.43zM336.76 24.28L338.38 25.9L336.76 27.52L335.14 25.9zM340.4 27.79L342.02 29.41L340.4 31.03L338.78 29.41zM344.04 31.45L345.66 33.07L344.04 34.69L342.42 33.07zM347.68 35.05L349.3 36.67L347.68 38.29L346.06 36.67zM351.32 38.66L352.94 40.28L351.32 41.9L349.7 40.28zM354.96 42.39L356.58 44.01L354.96 45.63L353.34 44.01zM358.6 46.11L360.22 47.73L358.6 49.35L356.98 47.73zM362.24 49.72L363.86 51.34L362.24 52.96L360.62 51.34zM365.88 53.24L367.5 54.86L365.88 56.48L364.26 54.86zM369.52 56.66L371.14 58.28L369.52 59.9L367.9 58.28zM373.16 59.97L374.78 61.59L373.16 63.21L371.54 61.59zM376.8 63.2L378.42 64.82L376.8 66.44L375.18 64.82zM380.44 66.21L382.06 67.83L380.44 69.45L378.82 67.83zM384.08 68.95L385.7 70.57L384.08 72.19L382.46 70.57zM387.72 71.81L389.34 73.43L387.72 75.05L386.1 73.43zM391.36 74.61L392.98 76.23L391.36 77.85L389.74 76.23zM395 76.98L396.62 78.6L395 80.22L393.38 78.6zM398.64 79.17L400.26 80.79L398.64 82.41L397.02 80.79zM402.28 81.33L403.9 82.95L402.28 84.57L400.66 82.95zM405.92 83.36L407.54 84.98L405.92 86.6L404.3 84.98zM409.56 85.24L411.18 86.86L409.56 88.48L407.94 86.86zM413.2 87.06L414.82 88.68L413.2 90.3L411.58 88.68zM416.84 88.9L418.46 90.52L416.84 92.14L415.22 90.52zM420.48 90.71L422.1 92.33L420.48 93.95L418.86 92.33zM424.12 92.49L425.74 94.11L424.12 95.73L422.5 94.11zM427.76 94.11L429.38 95.73L427.76 97.35L426.14 95.73zM431.4 95.46L433.02 97.08L431.4 98.7L429.78 97.08zM435.04 96.58L436.66 98.2L435.04 99.82L433.42 98.2zM438.68 97.57L440.3 99.19L438.68 100.81L437.06 99.19zM442.32 98.27L443.94 99.89L442.32 101.51L440.7 99.89zM445.96 98.69L447.58 100.31L445.96 101.93L444.34 100.31zM449.6 99.02L451.22 100.64L449.6 102.26L447.98 100.64zM453.24 99.24L454.86 100.86L453.24 102.48L451.62 100.86zM456.88 99.35L458.5 100.97L456.88 102.59L455.26 100.97zM460.52 99.44L462.14 101.06L460.52 102.68L458.9 101.06zM464.16 99.51L465.78 101.13L464.16 102.75L462.54 101.13zM467.8 99.55L469.42 101.17L467.8 102.79L466.18 101.17zM471.44 99.55L473.06 101.17L471.44 102.79L469.82 101.17zM475.08 99.55L476.7 101.17L475.08 102.79L473.46 101.17zM478.72 99.54L480.34 101.16L478.72 102.78L477.1 101.16zM482.36 99.52L483.98 101.14L482.36 102.76L480.74 101.14zM486 99.51L487.62 101.13L486 102.75L484.38 101.13zM489.64 99.49L491.26 101.11L489.64 102.73L488.02 101.11zM493.28 99.46L494.9 101.08L493.28 102.7L491.66 101.08zM496.92 99.44L498.54 101.06L496.92 102.68L495.3 101.06zM500.56 99.41L502.18 101.03L500.56 102.65L498.94 101.03zM504.2 99.39L505.82 101.01L504.2 102.63L502.58 101.01zM507.84 99.36L509.46 100.98L507.84 102.6L506.22 100.98zM511.48 99.33L513.1 100.95L511.48 102.57L509.86 100.95zM515.12 99.28L516.74 100.9L515.12 102.52L513.5 100.9zM518.76 99.18L520.38 100.8L518.76 102.42L517.14 100.8zM522.4 98.9L524.02 100.52L522.4 102.14L520.78 100.52zM526.04 98.44L527.66 100.06L526.04 101.68L524.42 100.06zM529.68 97.74L531.3 99.36L529.68 100.98L528.06 99.36zM533.32 96.82L534.94 98.44L533.32 100.06L531.7 98.44zM536.96 95.57L538.58 97.19L536.96 98.81L535.34 97.19zM540.6 93.88L542.22 95.5L540.6 97.12L538.98 95.5z" fill="#a55cf0"/>
<path d="M320.58 14.6L323.41 12.98L323.41 16.22zM324.22 17.84L327.05 16.22L327.05 19.46zM327.86 21.2L330.69 19.58L330.69 22.82zM331.5 24.59L334.33 22.97L334.33 26.21zM335.14 28.02L337.97 26.4L337.97 29.64zM338.78 31.56L341.61 29.94L341.61 33.18zM342.42 35.31L345.25 33.69L345.25 36.93zM346.06 39.05L348.89 37.43L348.89 40.67zM349.7 42.79L352.53 41.17L352.53 44.41zM353.34 46.5L356.17 44.88L356.17 48.12zM356.98 50.19L359.81 48.57L359.81 51.81zM360.62 53.84L363.45 52.22L363.45 55.46zM364.26 57.39L367.09 55.77L367.09 59.01zM367.9 60.79L370.73 59.17L370.73 62.41zM371.54 64.08L374.37 62.46L374.37 65.7zM375.18 67.23L378.01 65.61L378.01 68.85zM378.82 70.36L381.65 68.74L381.65 71.98zM382.46 73.63L385.29 72.01L385.29 75.25zM386.1 76.72L388.94 75.1L388.94 78.34zM389.74 79.59L392.57 77.97L392.57 81.21zM393.38 82.12L396.21 80.5L396.21 83.74zM397.02 84.48L399.85 82.86L399.85 86.1zM400.66 86.76L403.49 85.14L403.49 88.38zM404.3 88.92L407.13 87.3L407.13 90.54zM407.94 90.95L410.77 89.33L410.77 92.57zM411.58 92.87L414.41 91.25L414.41 94.49zM415.22 94.72L418.06 93.1L418.06 96.34zM418.86 96.49L421.69 94.87L421.69 98.11zM422.5 98.2L425.33 96.58L425.33 99.82zM426.14 99.74L428.97 98.12L428.97 101.36zM429.78 101.01L432.61 99.39L432.61 102.63zM433.42 102.03L436.25 100.41L436.25 103.65zM437.06 102.87L439.89 101.25L439.89 104.49zM440.7 103.41L443.53 101.79L443.53 105.03zM444.34 103.68L447.18 102.06L447.18 105.3zM447.98 103.89L450.81 102.27L450.81 105.51zM451.62 104.03L454.45 102.41L454.45 105.65zM455.26 104.08L458.09 102.46L458.09 105.7zM458.9 104.13L461.73 102.51L461.73 105.75zM462.54 104.16L465.38 102.54L465.38 105.78zM466.18 104.18L469.01 102.56L469.01 105.8zM469.82 104.18L472.66 102.56L472.66 105.8zM473.46 104.17L476.3 102.55L476.3 105.79zM477.1 104.16L479.94 102.54L479.94 105.78zM480.74 104.15L483.57 102.53L483.57 105.77zM484.38 104.12L487.21 102.5L487.21 105.74zM488.02 104.1L490.85 102.48L490.85 105.72zM491.66 104.07L494.49 102.45L494.49 105.69zM495.3 104.03L498.13 102.41L498.13 105.65zM498.94 103.99L501.78 102.37L501.78 105.61zM502.58 103.95L505.42 102.33L505.42 105.57zM506.22 103.91L509.06 102.29L509.06 105.53zM509.86 103.86L512.7 102.24L512.7 105.48zM513.5 103.76L516.34 102.14L516.34 105.38zM517.14 103.59L519.98 101.97L519.98 105.21zM520.78 103.19L523.62 101.57L523.62 104.81zM524.42 102.59L527.25 100.97L527.25 104.21zM528.06 101.71L530.9 100.09L530.9 103.33zM531.7 100.57L534.54 98.95L534.54 102.19zM535.34 99.08L538.18 97.46L538.18 100.7zM538.98 97.18L541.82 95.56L541.82 98.8z" fill="#dc9a0a"/>
<path d="M323.82 20.55L320.99 18.93L320.99 22.17zM327.46 22.91L324.62 21.29L324.62 24.53zM331.1 25.47L328.27 23.85L328.27 27.09zM334.74 28.21L331.91 26.59L331.91 29.83zM338.38 31.07L335.55 29.45L335.55 32.69zM342.02 34.17L339.19 32.55L339.19 35.79zM345.66 37.53L342.82 35.91L342.82 39.15zM349.3 41.29L346.47 39.67L346.47 42.91zM352.94 45.13L350.11 43.51L350.11 46.75zM356.58 48.83L353.75 47.21L353.75 50.45zM360.22 52.5L357.39 50.88L357.39 54.12zM363.86 56.19L361.03 54.57L361.03 57.81zM367.5 59.76L364.67 58.14L364.67 61.38zM371.14 63.15L368.31 61.53L368.31 64.77zM374.78 66.42L371.94 64.8L371.94 68.04zM378.42 69.5L375.59 67.88L375.59 71.12zM382.06 72.73L379.23 71.11L379.23 74.35zM385.7 76.51L382.87 74.89L382.87 78.13zM389.34 79.81L386.51 78.19L386.51 81.43zM392.98 82.75L390.15 81.13L390.15 84.37zM396.62 85.42L393.79 83.8L393.79 87.04zM400.26 87.93L397.43 86.31L397.43 89.55zM403.9 90.33L401.06 88.71L401.06 91.95zM407.54 92.61L404.71 90.99L404.71 94.23zM411.18 94.78L408.35 93.16L408.35 96.4zM414.82 96.8L411.99 95.18L411.99 98.42zM418.46 98.66L415.63 97.04L415.63 100.28zM422.1 100.39L419.27 98.77L419.27 102.01zM425.74 102.04L422.91 100.42L422.91 103.66zM429.38 103.49L426.55 101.87L426.55 105.11zM433.02 104.7L430.19 103.08L430.19 106.32zM436.66 105.63L433.83 104.01L433.83 107.25zM440.3 106.31L437.47 104.69L437.47 107.93zM443.94 106.71L441.11 105.09L441.11 108.33zM447.58 106.84L444.75 105.22L444.75 108.46zM451.22 106.94L448.39 105.32L448.39 108.56zM454.86 106.99L452.03 105.37L452.03 108.61zM458.5 107L455.67 105.38L455.67 108.62zM462.14 107L459.31 105.38L459.31 108.62zM465.78 107L462.95 105.38L462.95 108.62zM469.42 107L466.59 105.38L466.59 108.62zM473.06 107L470.23 105.38L470.23 108.62zM476.7 106.99L473.87 105.37L473.87 108.61zM480.34 106.98L477.51 105.36L477.51 108.6zM483.98 106.96L481.15 105.34L481.15 108.58zM487.62 106.94L484.79 105.32L484.79 108.56zM491.26 106.9L488.43 105.28L488.43 108.52zM494.9 106.86L492.06 105.24L492.06 108.48zM498.54 106.82L495.7 105.2L495.7 108.44zM502.18 106.77L499.35 105.15L499.35 108.39zM505.82 106.71L502.99 105.09L502.99 108.33zM509.46 106.65L506.63 105.03L506.63 108.27zM513.1 106.58L510.27 104.96L510.27 108.2zM516.74 106.45L513.9 104.83L513.9 108.07zM520.38 106.2L517.54 104.58L517.54 107.82zM524.02 105.7L521.18 104.08L521.18 107.32zM527.66 104.96L524.82 103.34L524.82 106.58zM531.3 103.9L528.47 102.28L528.47 105.52zM534.94 102.56L532.11 100.94L532.11 104.18zM538.58 100.85L535.75 99.23L535.75 102.47zM542.22 98.76L539.38 97.14L539.38 100.38z" fill="#12d2d6"/>
<path d="M320.85 152.56h2.7v2.7h-2.7zM324.49 149.87h2.7v2.7h-2.7zM328.13 147.31h2.7v2.7h-2.7zM331.77 145.21h2.7v2.7h-2.7zM335.41 143.44h2.7v2.7h-2.7zM339.05 141.99h2.7v2.7h-2.7zM342.69 140.8h2.7v2.7h-2.7zM346.33 139.91h2.7v2.7h-2.7zM349.97 139.28h2.7v2.7h-2.7zM353.61 138.92h2.7v2.7h-2.7zM357.25 139.11h2.7v2.7h-2.7zM360.89 139.6h2.7v2.7h-2.7zM364.53 140.02h2.7v2.7h-2.7zM368.17 140.67h2.7v2.7h-2.7zM371.81 141.35h2.7v2.7h-2.7zM375.45 142.22h2.7v2.7h-2.7zM379.09 143.28h2.7v2.7h-2.7zM382.73 144.53h2.7v2.7h-2.7zM386.37 145.9h2.7v2.7h-2.7zM390.01 147.11h2.7v2.7h-2.7zM393.65 148.42h2.7v2.7h-2.7zM397.29 149.83h2.7v2.7h-2.7zM400.93 152h2.7v2.7h-2.7zM404.57 154.35h2.7v2.7h-2.7zM408.21 155.26h2.7v2.7h-2.7zM411.85 157.25h2.7v2.7h-2.7zM415.49 159.19h2.7v2.7h-2.7zM419.13 161.28h2.7v2.7h-2.7zM422.77 163.38h2.7v2.7h-2.7zM426.41 165.47h2.7v2.7h-2.7zM430.05 167.68h2.7v2.7h-2.7zM433.69 170.23h2.7v2.7h-2.7zM437.33 172.78h2.7v2.7h-2.7zM440.97 174.99h2.7v2.7h-2.7zM444.61 177.01h2.7v2.7h-2.7zM448.25 178.95h2.7v2.7h-2.7zM451.89 180.74h2.7v2.7h-2.7zM455.53 182.33h2.7v2.7h-2.7zM459.17 183.77h2.7v2.7h-2.7zM462.81 185.14h2.7v2.7h-2.7zM466.45 186.32h2.7v2.7h-2.7zM470.09 187.12h2.7v2.7h-2.7zM473.73 187.77h2.7v2.7h-2.7zM477.37 188.37h2.7v2.7h-2.7zM481.01 188.94h2.7v2.7h-2.7zM484.65 189.48h2.7v2.7h-2.7zM488.29 190.01h2.7v2.7h-2.7zM491.93 190.55h2.7v2.7h-2.7zM495.57 191.05h2.7v2.7h-2.7zM499.21 191.52h2.7v2.7h-2.7zM502.85 192h2.7v2.7h-2.7zM506.49 192.53h2.7v2.7h-2.7zM510.13 193.15h2.7v2.7h-2.7zM513.77 193.91h2.7v2.7h-2.7zM517.41 194.91h2.7v2.7h-2.7zM521.05 196.15h2.7v2.7h-2.7zM524.69 197.67h2.7v2.7h-2.7zM528.33 199.65h2.7v2.7h-2.7zM531.97 202.22h2.7v2.7h-2.7zM535.61 205.29h2.7v2.7h-2.7zM539.25 208.75h2.7v2.7h-2.7z" fill="#111111"/>
<path d="M320.78 154.33a1.42 1.42 0 1 0 2.84 0a1.42 1.42 0 1 0 -2.84 0zM324.42 151.67a1.42 1.42 0 1 0 2.84 0a1.42 1.42 0 1 0 -2.84 0zM328.06 149.12a1.42 1.42 0 1 0 2.84 0a1.42 1.42 0 1 0 -2.84 0zM331.7 147a1.42 1.42 0 1 0 2.84 0a1.42 1.42 0 1 0 -2.84 0zM335.34 145.23a1.42 1.42 0 1 0 2.84 0a1.42 1.42 0 1 0 -2.84 0zM338.98 143.74a1.42 1.42 0 1 0 2.84 0a1.42 1.42 0 1 0 -2.84 0zM342.62 142.53a1.42 1.42 0 1 0 2.84 0a1.42 1.42 0 1 0 -2.84 0zM346.26 141.65a1.42 1.42 0 1 0 2.84 0a1.42 1.42 0 1 0 -2.84 0zM349.9 141.03a1.42 1.42 0 1 0 2.84 0a1.42 1.42 0 1 0 -2.84 0zM353.54 140.66a1.42 1.42 0 1 0 2.84 0a1.42 1.42 0 1 0 -2.84 0zM357.18 140.86a1.42 1.42 0 1 0 2.84 0a1.42 1.42 0 1 0 -2.84 0zM360.82 141.34a1.42 1.42 0 1 0 2.84 0a1.42 1.42 0 1 0 -2.84 0zM364.46 141.81a1.42 1.42 0 1 0 2.84 0a1.42 1.42 0 1 0 -2.84 0zM368.1 142.51a1.42 1.42 0 1 0 2.84 0a1.42 1.42 0 1 0 -2.84 0zM371.74 143.19a1.42 1.42 0 1 0 2.84 0a1.42 1.42 0 1 0 -2.84 0zM375.38 144.08a1.42 1.42 0 1 0 2.84 0a1.42 1.42 0 1 0 -2.84 0zM379.02 145.16a1.42 1.42 0 1 0 2.84 0a1.42 1.42 0 1 0 -2.84 0zM382.66 146.43a1.42 1.42 0 1 0 2.84 0a1.42 1.42 0 1 0 -2.84 0zM386.3 147.82a1.42 1.42 0 1 0 2.84 0a1.42 1.42 0 1 0 -2.84 0zM389.94 148.99a1.42 1.42 0 1 0 2.84 0a1.42 1.42 0 1 0 -2.84 0zM393.58 150.3a1.42 1.42 0 1 0 2.84 0a1.42 1.42 0 1 0 -2.84 0zM397.22 151.71a1.42 1.42 0 1 0 2.84 0a1.42 1.42 0 1 0 -2.84 0zM400.86 153.84a1.42 1.42 0 1 0 2.84 0a1.42 1.42 0 1 0 -2.84 0zM404.5 156.06a1.42 1.42 0 1 0 2.84 0a1.42 1.42 0 1 0 -2.84 0zM408.14 156.74a1.42 1.42 0 1 0 2.84 0a1.42 1.42 0 1 0 -2.84 0zM411.78 158.75a1.42 1.42 0 1 0 2.84 0a1.42 1.42 0 1 0 -2.84 0zM415.42 160.91a1.42 1.42 0 1 0 2.84 0a1.42 1.42 0 1 0 -2.84 0zM419.06 163.04a1.42 1.42 0 1 0 2.84 0a1.42 1.42 0 1 0 -2.84 0zM422.7 165.16a1.42 1.42 0 1 0 2.84 0a1.42 1.42 0 1 0 -2.84 0zM426.34 167.32a1.42 1.42 0 1 0 2.84 0a1.42 1.42 0 1 0 -2.84 0zM429.98 169.58a1.42 1.42 0 1 0 2.84 0a1.42 1.42 0 1 0 -2.84 0zM433.62 172.14a1.42 1.42 0 1 0 2.84 0a1.42 1.42 0 1 0 -2.84 0zM437.26 174.67a1.42 1.42 0 1 0 2.84 0a1.42 1.42 0 1 0 -2.84 0zM440.9 176.86a1.42 1.42 0 1 0 2.84 0a1.42 1.42 0 1 0 -2.84 0zM444.54 178.86a1.42 1.42 0 1 0 2.84 0a1.42 1.42 0 1 0 -2.84 0zM448.18 180.76a1.42 1.42 0 1 0 2.84 0a1.42 1.42 0 1 0 -2.84 0zM451.82 182.52a1.42 1.42 0 1 0 2.84 0a1.42 1.42 0 1 0 -2.84 0zM455.46 184.05a1.42 1.42 0 1 0 2.84 0a1.42 1.42 0 1 0 -2.84 0zM459.1 185.44a1.42 1.42 0 1 0 2.84 0a1.42 1.42 0 1 0 -2.84 0zM462.74 186.76a1.42 1.42 0 1 0 2.84 0a1.42 1.42 0 1 0 -2.84 0zM466.38 187.91a1.42 1.42 0 1 0 2.84 0a1.42 1.42 0 1 0 -2.84 0zM470.02 188.71a1.42 1.42 0 1 0 2.84 0a1.42 1.42 0 1 0 -2.84 0zM473.66 189.36a1.42 1.42 0 1 0 2.84 0a1.42 1.42 0 1 0 -2.84 0zM477.3 189.97a1.42 1.42 0 1 0 2.84 0a1.42 1.42 0 1 0 -2.84 0zM480.94 190.55a1.42 1.42 0 1 0 2.84 0a1.42 1.42 0 1 0 -2.84 0zM484.58 191.1a1.42 1.42 0 1 0 2.84 0a1.42 1.42 0 1 0 -2.84 0zM488.22 191.65a1.42 1.42 0 1 0 2.84 0a1.42 1.42 0 1 0 -2.84 0zM491.86 192.22a1.42 1.42 0 1 0 2.84 0a1.42 1.42 0 1 0 -2.84 0zM495.5 192.74a1.42 1.42 0 1 0 2.84 0a1.42 1.42 0 1 0 -2.84 0zM499.14 193.25a1.42 1.42 0 1 0 2.84 0a1.42 1.42 0 1 0 -2.84 0zM502.78 193.85a1.42 1.42 0 1 0 2.84 0a1.42 1.42 0 1 0 -2.84 0zM506.42 194.54a1.42 1.42 0 1 0 2.84 0a1.42 1.42 0 1 0 -2.84 0zM510.06 195.36a1.42 1.42 0 1 0 2.84 0a1.42 1.42 0 1 0 -2.84 0zM513.7 196.38a1.42 1.42 0 1 0 2.84 0a1.42 1.42 0 1 0 -2.84 0zM517.34 197.82a1.42 1.42 0 1 0 2.84 0a1.42 1.42 0 1 0 -2.84 0zM520.98 199.67a1.42 1.42 0 1 0 2.84 0a1.42 1.42 0 1 0 -2.84 0zM524.62 201.9a1.42 1.42 0 1 0 2.84 0a1.42 1.42 0 1 0 -2.84 0zM528.26 204.65a1.42 1.42 0 1 0 2.84 0a1.42 1.42 0 1 0 -2.84 0zM531.9 207.77a1.42 1.42 0 1 0 2.84 0a1.42 1.42 0 1 0 -2.84 0zM535.54 211.36a1.42 1.42 0 1 0 2.84 0a1.42 1.42 0 1 0 -2.84 0zM539.18 215.38a1.42 1.42 0 1 0 2.84 0a1.42 1.42 0 1 0 -2.84 0z" fill="#f41c24"/>
<path d="M322.2 155.25L323.82 158.09L320.58 158.09zM325.84 152.75L327.46 155.59L324.22 155.59zM329.48 150.29L331.1 153.13L327.86 153.13zM333.12 148.02L334.74 150.86L331.5 150.86zM336.76 146.19L338.38 149.03L335.14 149.03zM340.4 144.56L342.02 147.4L338.78 147.4zM344.04 143.17L345.66 146L342.42 146zM347.68 142.01L349.3 144.85L346.06 144.85zM351.32 141.06L352.94 143.9L349.7 143.9zM354.96 140.3L356.58 143.14L353.34 143.14zM358.6 140.28L360.22 143.12L356.98 143.12zM362.24 140.56L363.86 143.4L360.62 143.4zM365.88 140.94L367.5 143.77L364.26 143.77zM369.52 141.63L371.14 144.46L367.9 144.46zM373.16 142.31L374.78 145.14L371.54 145.14zM376.8 143.24L378.42 146.07L375.18 146.07zM380.44 144.33L382.06 147.16L378.82 147.16zM384.08 145.65L385.7 148.48L382.46 148.48zM387.72 147.04L389.34 149.88L386.1 149.88zM391.36 148.18L392.98 151.01L389.74 151.01zM395 149.47L396.62 152.31L393.38 152.31zM398.64 150.89L400.26 153.72L397.02 153.72zM402.28 152.96L403.9 155.8L400.66 155.8zM405.92 154.99L407.54 157.83L404.3 157.83zM409.56 155.33L411.18 158.17L407.94 158.17zM413.2 157.42L414.82 160.26L411.58 160.26zM416.84 160.02L418.46 162.85L415.22 162.85zM420.48 162.23L422.1 165.07L418.86 165.07zM424.12 164.41L425.74 167.24L422.5 167.24zM427.76 166.7L429.38 169.53L426.14 169.53zM431.4 169.06L433.02 171.9L429.78 171.9zM435.04 171.63L436.66 174.47L433.42 174.47zM438.68 174.14L440.3 176.97L437.06 176.97zM442.32 176.28L443.94 179.11L440.7 179.11zM445.96 178.22L447.58 181.06L444.34 181.06zM449.6 180.07L451.22 182.9L447.98 182.9zM453.24 181.75L454.86 184.58L451.62 184.58zM456.88 183.17L458.5 186.01L455.26 186.01zM460.52 184.45L462.14 187.28L458.9 187.28zM464.16 185.68L465.78 188.52L462.54 188.52zM467.8 186.78L469.42 189.61L466.18 189.61zM471.44 187.56L473.06 190.4L469.82 190.4zM475.08 188.22L476.7 191.06L473.46 191.06zM478.72 188.85L480.34 191.69L477.1 191.69zM482.36 189.45L483.98 192.28L480.74 192.28zM486 190.03L487.62 192.86L484.38 192.86zM489.64 190.62L491.26 193.45L488.02 193.45zM493.28 191.22L494.9 194.06L491.66 194.06zM496.92 191.8L498.54 194.63L495.3 194.63zM500.56 192.34L502.18 195.17L498.94 195.17zM504.2 192.87L505.82 195.71L502.58 195.71zM507.84 193.47L509.46 196.31L506.22 196.31zM511.48 194.19L513.1 197.02L509.86 197.02zM515.12 195.09L516.74 197.93L513.5 197.93zM518.76 196.37L520.38 199.2L517.14 199.2zM522.4 197.97L524.02 200.81L520.78 200.81zM526.04 199.82L527.66 202.66L524.42 202.66zM529.68 202.09L531.3 204.92L528.06 204.92zM533.32 205.03L534.94 207.87L531.7 207.87zM536.96 208.48L538.58 211.32L535.34 211.32zM540.6 212.35L542.22 215.18L538.98 215.18z" fill="#1e5ef5"/>
<path d="M322.2 153.84L323.82 151L320.58 151zM325.84 151.04L327.46 148.21L324.22 148.21zM329.48 148.42L331.1 145.58L327.86 145.58zM333.12 146.42L334.74 143.59L331.5 143.59zM336.76 144.69L338.38 141.85L335.14 141.85zM340.4 143.33L342.02 140.5L338.78 140.5zM344.04 142.26L345.66 139.43L342.42 139.43zM347.68 141.43L349.3 138.6L346.06 138.6zM351.32 140.88L352.94 138.05L349.7 138.05zM354.96 140.7L356.58 137.87L353.34 137.87zM358.6 140.95L360.22 138.11L356.98 138.11zM362.24 141.5L363.86 138.66L360.62 138.66zM365.88 141.86L367.5 139.03L364.26 139.03zM369.52 142.42L371.14 139.59L367.9 139.59zM373.16 143.1L374.78 140.27L371.54 140.27zM376.8 143.9L378.42 141.06L375.18 141.06zM380.44 144.93L382.06 142.09L378.82 142.09zM384.08 146.1L385.7 143.27L382.46 143.27zM387.72 147.47L389.34 144.63L386.1 144.63zM391.36 148.75L392.98 145.91L389.74 145.91zM395 150.07L396.62 147.23L393.38 147.23zM398.64 151.47L400.26 148.63L397.02 148.63zM402.28 153.74L403.9 150.91L400.66 150.91zM405.92 156.41L407.54 153.57L404.3 153.57zM409.56 158.34L411.18 155.5L407.94 155.5zM413.2 160.86L414.82 158.02L411.58 158.02zM416.84 163.99L418.46 161.15L415.22 161.15zM420.48 166.28L422.1 163.45L418.86 163.45zM424.12 168.51L425.74 165.68L422.5 165.68zM427.76 170.93L429.38 168.1L426.14 168.1zM431.4 173.41L433.02 170.57L429.78 170.57zM435.04 175.99L436.66 173.15L433.42 173.15zM438.68 178.46L440.3 175.63L437.06 175.63zM442.32 180.56L443.94 177.73L440.7 177.73zM445.96 182.45L447.58 179.62L444.34 179.62zM449.6 184.23L451.22 181.4L447.98 181.4zM453.24 185.84L454.86 183L451.62 183zM456.88 187.16L458.5 184.32L455.26 184.32zM460.52 188.32L462.14 185.48L458.9 185.48zM464.16 189.47L465.78 186.63L462.54 186.63zM467.8 190.5L469.42 187.67L466.18 187.67zM471.44 191.27L473.06 188.44L469.82 188.44zM475.08 191.95L476.7 189.11L473.46 189.11zM478.72 192.59L480.34 189.76L477.1 189.76zM482.36 193.21L483.98 190.37L480.74 190.37zM486 193.82L487.62 190.98L484.38 190.98zM489.64 194.44L491.26 191.61L488.02 191.61zM493.28 195.09L494.9 192.26L491.66 192.26zM496.92 195.72L498.54 192.88L495.3 192.88zM500.56 196.31L502.18 193.48L498.94 193.48zM504.2 196.95L505.82 194.11L502.58 194.11zM507.84 197.67L509.46 194.84L506.22 194.84zM511.48 198.55L513.1 195.71L509.86 195.71zM515.12 199.67L516.74 196.84L513.5 196.84zM518.76 201.34L520.38 198.51L517.14 198.51zM522.4 203.47L524.02 200.63L520.78 200.63zM526.04 205.9L527.66 203.06L524.42 203.06zM529.68 208.75L531.3 205.91L528.06 205.91zM533.32 212.19L534.94 209.35L531.7 209.35zM536.96 216.13L538.58 213.3L535.34 213.3zM540.6 220.52L542.22 217.68L538.98 217.68z" fill="#2a9f5c"/>
<path d="M322.2 146.79L323.82 148.41L322.2 150.03L320.58 148.41zM325.84 143.75L327.46 145.37L325.84 146.99L324.22 145.37zM329.48 140.99L331.1 142.61L329.48 144.23L327.86 142.61zM333.12 139.22L334.74 140.84L333.12 142.46L331.5 140.84zM336.76 137.57L338.38 139.19L336.76 140.81L335.14 139.19zM340.4 136.43L342.02 138.05L340.4 139.67L338.78 138.05zM344.04 135.63L345.66 137.25L344.04 138.87L342.42 137.25zM347.68 135.28L349.3 136.9L347.68 138.52L346.06 136.9zM351.32 135.3L352.94 136.92L351.32 138.54L349.7 136.92zM354.96 135.74L356.58 137.36L354.96 138.98L353.34 137.36zM358.6 136.36L360.22 137.98L358.6 139.6L356.98 137.98zM362.24 137.24L363.86 138.86L362.24 140.48L360.62 138.86zM365.88 137.81L367.5 139.43L365.88 141.05L364.26 139.43zM369.52 138.45L371.14 140.07L369.52 141.69L367.9 140.07zM373.16 139.13L374.78 140.75L373.16 142.37L371.54 140.75zM376.8 139.88L378.42 141.5L376.8 143.12L375.18 141.5zM380.44 140.9L382.06 142.52L380.44 144.14L378.82 142.52zM384.08 142.03L385.7 143.65L384.08 145.27L382.46 143.65zM387.72 143.38L389.34 145L387.72 146.62L386.1 145zM391.36 144.7L392.98 146.32L391.36 147.94L389.74 146.32zM395 146.03L396.62 147.65L395 149.27L393.38 147.65zM398.64 147.43L400.26 149.05L398.64 150.67L397.02 149.05zM402.28 149.76L403.9 151.38L402.28 153L400.66 151.38zM405.92 152.62L407.54 154.24L405.92 155.86L404.3 154.24zM409.56 155.19L411.18 156.81L409.56 158.43L407.94 156.81zM413.2 158.07L414.82 159.69L413.2 161.31L411.58 159.69zM416.84 162.03L418.46 163.65L416.84 165.27L415.22 163.65zM420.48 164.47L422.1 166.09L420.48 167.71L418.86 166.09zM424.12 166.79L425.74 168.41L424.12 170.03L422.5 168.41zM427.76 169.44L429.38 171.06L427.76 172.68L426.14 171.06zM431.4 172.1L433.02 173.72L431.4 175.34L429.78 173.72zM435.04 174.7L436.66 176.32L435.04 177.94L433.42 176.32zM438.68 177.12L440.3 178.74L438.68 180.36L437.06 178.74zM442.32 179.15L443.94 180.77L442.32 182.39L440.7 180.77zM445.96 180.94L447.58 182.56L445.96 184.18L444.34 182.56zM449.6 182.62L451.22 184.24L449.6 185.86L447.98 184.24zM453.24 184.09L454.86 185.71L453.24 187.33L451.62 185.71zM456.88 185.22L458.5 186.84L456.88 188.46L455.26 186.84zM460.52 186.19L462.14 187.81L460.52 189.43L458.9 187.81zM464.16 187.18L465.78 188.8L464.16 190.42L462.54 188.8zM467.8 188.11L469.42 189.73L467.8 191.35L466.18 189.73zM471.44 188.86L473.06 190.48L471.44 192.1L469.82 190.48zM475.08 189.55L476.7 191.17L475.08 192.79L473.46 191.17zM478.72 190.22L480.34 191.84L478.72 193.46L477.1 191.84zM482.36 190.88L483.98 192.5L482.36 194.12L480.74 192.5zM486 191.54L487.62 193.16L486 194.78L484.38 193.16zM489.64 192.22L491.26 193.84L489.64 195.46L488.02 193.84zM493.28 192.95L494.9 194.57L493.28 196.19L491.66 194.57zM496.92 193.66L498.54 195.28L496.92 196.9L495.3 195.28zM500.56 194.34L502.18 195.96L500.56 197.58L498.94 195.96zM504.2 195L505.82 196.62L504.2 198.24L502.58 196.62zM507.84 195.76L509.46 197.38L507.84 199L506.22 197.38zM511.48 196.69L513.1 198.31L511.48 199.93L509.86 198.31zM515.12 197.91L516.74 199.53L515.12 201.15L513.5 199.53zM518.76 199.79L520.38 201.41L518.76 203.03L517.14 201.41zM522.4 202.17L524.02 203.79L522.4 205.41L520.78 203.79zM526.04 204.79L527.66 206.41L526.04 208.03L524.42 206.41zM529.68 207.74L531.3 209.36L529.68 210.98L528.06 209.36zM533.32 211.46L534.94 213.08L533.32 214.7L531.7 213.08zM536.96 215.73L538.58 217.35L536.96 218.97L535.34 217.35zM540.6 220.44L542.22 222.06L540.6 223.68L538.98 222.06z" fill="#a55cf0"/>
<path d="M320.58 150.1L323.41 148.48L323.41 151.72zM324.22 147.17L327.05 145.55L327.05 148.79zM327.86 144.47L330.69 142.85L330.69 146.09zM331.5 142.6L334.33 140.98L334.33 144.22zM335.14 140.91L337.97 139.29L337.97 142.53zM338.78 139.68L341.61 138.06L341.61 141.3zM342.42 138.76L345.25 137.14L345.25 140.38zM346.06 138.06L348.89 136.44L348.89 139.68zM349.7 137.67L352.53 136.05L352.53 139.29zM353.34 137.74L356.17 136.12L356.17 139.36zM356.98 138.09L359.81 136.47L359.81 139.71zM360.62 138.75L363.45 137.13L363.45 140.37zM364.26 139.1L367.09 137.48L367.09 140.72zM367.9 139.58L370.73 137.96L370.73 141.2zM371.54 140.26L374.37 138.64L374.37 141.88zM375.18 140.98L378.01 139.36L378.01 142.6zM378.82 141.99L381.65 140.37L381.65 143.61zM382.46 143.09L385.29 141.47L385.29 144.71zM386.1 144.44L388.94 142.82L388.94 146.06zM389.74 145.79L392.57 144.17L392.57 147.41zM393.38 147.12L396.21 145.5L396.21 148.74zM397.02 148.51L399.85 146.89L399.85 150.13zM400.66 150.89L403.49 149.27L403.49 152.51zM404.3 153.88L407.13 152.26L407.13 155.5zM407.94 156.35L410.77 154.73L410.77 157.97zM411.58 158.73L414.41 157.11L414.41 160.35zM415.22 161.09L418.06 159.47L418.06 162.71zM418.86 163.24L421.69 161.62L421.69 164.86zM422.5 165.38L425.33 163.76L425.33 167zM426.14 167.57L428.97 165.95L428.97 169.19zM429.78 169.86L432.61 168.24L432.61 171.48zM433.42 172.41L436.25 170.79L436.25 174.03zM437.06 174.94L439.89 173.32L439.89 176.56zM440.7 177.12L443.53 175.5L443.53 178.74zM444.34 179.1L447.18 177.48L447.18 180.72zM447.98 180.99L450.81 179.37L450.81 182.61zM451.62 182.73L454.45 181.11L454.45 184.35zM455.26 184.24L458.09 182.62L458.09 185.86zM458.9 185.59L461.73 183.97L461.73 187.21zM462.54 186.9L465.38 185.28L465.38 188.52zM466.18 188.03L469.01 186.41L469.01 189.65zM469.82 188.83L472.66 187.21L472.66 190.45zM473.46 189.48L476.3 187.86L476.3 191.1zM477.1 190.1L479.94 188.48L479.94 191.72zM480.74 190.68L483.57 189.06L483.57 192.3zM484.38 191.24L487.21 189.62L487.21 192.86zM488.02 191.8L490.85 190.18L490.85 193.42zM491.66 192.37L494.49 190.75L494.49 193.99zM495.3 192.91L498.13 191.29L498.13 194.53zM498.94 193.44L501.78 191.82L501.78 195.06zM502.58 194.09L505.42 192.47L505.42 195.71zM506.22 194.84L509.06 193.22L509.06 196.46zM509.86 195.73L512.7 194.11L512.7 197.35zM513.5 196.86L516.34 195.24L516.34 198.48zM517.14 198.47L519.98 196.85L519.98 200.09zM520.78 200.56L523.62 198.94L523.62 202.18zM524.42 203.06L527.25 201.44L527.25 204.68zM528.06 206.11L530.9 204.49L530.9 207.73zM531.7 209.45L534.54 207.83L534.54 211.07zM535.34 213.25L538.18 211.63L538.18 214.87zM538.98 217.49L541.82 215.87L541.82 219.11z" fill="#dc9a0a"/>
<path d="M323.82 151.37L320.99 149.75L320.99 152.99zM327.46 148.52L324.62 146.9L324.62 150.14zM331.1 145.87L328.27 144.25L328.27 147.49zM334.74 143.92L331.91 142.3L331.91 145.54zM338.38 142.21L335.55 140.59L335.55 143.83zM342.02 140.9L339.19 139.28L339.19 142.52zM345.66 139.89L342.82 138.27L342.82 141.51zM349.3 138.78L346.47 137.16L346.47 140.4zM352.94 137.92L350.11 136.3L350.11 139.54zM356.58 137.61L353.75 135.99L353.75 139.23zM360.22 137.66L357.39 136.04L357.39 139.28zM363.86 138.07L361.03 136.45L361.03 139.69zM367.5 138.12L364.67 136.5L364.67 139.74zM371.14 138.36L368.31 136.74L368.31 139.98zM374.78 139.03L371.94 137.41L371.94 140.65zM378.42 139.69L375.59 138.07L375.59 141.31zM382.06 140.67L379.23 139.05L379.23 142.29zM385.7 141.7L382.87 140.08L382.87 143.32zM389.34 143.04L386.51 141.42L386.51 144.66zM392.98 144.46L390.15 142.84L390.15 146.08zM396.62 145.8L393.79 144.18L393.79 147.42zM400.26 147.18L397.43 145.56L397.43 148.8zM403.9 149.66L401.06 148.04L401.06 151.28zM407.54 152.96L404.71 151.34L404.71 154.58zM411.18 156.65L408.35 155.03L408.35 158.27zM414.82 159.84L411.99 158.22L411.99 161.46zM418.46 164.2L415.63 162.58L415.63 165.82zM422.1 166.7L419.27 165.08L419.27 168.32zM425.74 169.06L422.91 167.44L422.91 170.68zM429.38 171.81L426.55 170.19L426.55 173.43zM433.02 174.54L430.19 172.92L430.19 176.16zM436.66 177.16L433.83 175.54L433.83 178.78zM440.3 179.55L437.47 177.93L437.47 181.17zM443.94 181.55L441.11 179.93L441.11 183.17zM447.58 183.3L444.75 181.68L444.75 184.92zM451.22 184.93L448.39 183.31L448.39 186.55zM454.86 186.35L452.03 184.73L452.03 187.97zM458.5 187.39L455.67 185.77L455.67 189.01zM462.14 188.28L459.31 186.66L459.31 189.9zM465.78 189.21L462.95 187.59L462.95 190.83zM469.42 190.09L466.59 188.47L466.59 191.71zM473.06 190.83L470.23 189.21L470.23 192.45zM476.7 191.53L473.87 189.91L473.87 193.15zM480.34 192.22L477.51 190.6L477.51 193.84zM483.98 192.89L481.15 191.27L481.15 194.51zM487.62 193.57L484.79 191.95L484.79 195.19zM491.26 194.28L488.43 192.66L488.43 195.9zM494.9 195.05L492.06 193.43L492.06 196.67zM498.54 195.79L495.7 194.17L495.7 197.41zM502.18 196.52L499.35 194.9L499.35 198.14zM505.82 197.31L502.99 195.69L502.99 198.93zM509.46 198.23L506.63 196.61L506.63 199.85zM513.1 199.36L510.27 197.74L510.27 200.98zM516.74 200.84L513.9 199.22L513.9 202.46zM520.38 203.19L517.54 201.57L517.54 204.81zM524.02 206.2L521.18 204.58L521.18 207.82zM527.66 209.54L524.82 207.92L524.82 211.16zM531.3 213.25L528.47 211.63L528.47 214.87zM534.94 217.56L532.11 215.94L532.11 219.18zM538.58 222.39L535.75 220.77L535.75 224.01zM542.22 227.69L539.38 226.07L539.38 229.31z" fill="#12d2d6"/>
<path d="M321.6 109.1H541.2" stroke="#333" stroke-width="0.9" fill="none"/>
<path d="M321.6 108.6v2M332.62 108.8v1.3M339.06 108.8v1.3M343.64 108.8v1.3M347.18 108.8v1.3M350.08 108.8v1.3M352.53 108.8v1.3M354.65 108.8v1.3M356.53 108.8v1.3M358.2 108.6v2M369.22 108.8v1.3M375.66 108.8v1.3M380.24 108.8v1.3M383.78 108.8v1.3M386.68 108.8v1.3M389.13 108.8v1.3M391.25 108.8v1.3M393.13 108.8v1.3M394.8 108.6v2M405.82 108.8v1.3M412.26 108.8v1.3M416.84 108.8v1.3M420.38 108.8v1.3M423.28 108.8v1.3M425.73 108.8v1.3M427.85 108.8v1.3M429.73 108.8v1.3M431.4 108.6v2M442.42 108.8v1.3M448.86 108.8v1.3M453.44 108.8v1.3M456.98 108.8v1.3M459.88 108.8v1.3M462.33 108.8v1.3M464.45 108.8v1.3M466.33 108.8v1.3M468 108.6v2M479.02 108.8v1.3M485.46 108.8v1.3M490.04 108.8v1.3M493.58 108.8v1.3M496.48 108.8v1.3M498.93 108.8v1.3M501.05 108.8v1.3M502.93 108.8v1.3M504.6 108.6v2M515.62 108.8v1.3M522.06 108.8v1.3M526.64 108.8v1.3M530.18 108.8v1.3M533.08 108.8v1.3M535.53 108.8v1.3M537.65 108.8v1.3M539.53 108.8v1.3M541.2 108.6v2" stroke="#333" stroke-width="0.7" fill="none"/>
<text class="tk" x="322.2" y="117.3" font-size="4.9" text-anchor="middle">10<tspan font-size="3.82" dy="-1.5">0</tspan></text>
<text class="tk" x="358.8" y="117.3" font-size="4.9" text-anchor="middle">10<tspan font-size="3.82" dy="-1.5">1</tspan></text>
<text class="tk" x="395.4" y="117.3" font-size="4.9" text-anchor="middle">10<tspan font-size="3.82" dy="-1.5">2</tspan></text>
<text class="tk" x="432" y="117.3" font-size="4.9" text-anchor="middle">10<tspan font-size="3.82" dy="-1.5">3</tspan></text>
<text class="tk" x="468.6" y="117.3" font-size="4.9" text-anchor="middle">10<tspan font-size="3.82" dy="-1.5">4</tspan></text>
<text class="tk" x="505.2" y="117.3" font-size="4.9" text-anchor="middle">10<tspan font-size="3.82" dy="-1.5">5</tspan></text>
<text class="tk" x="541.8" y="117.3" font-size="4.9" text-anchor="middle">10<tspan font-size="3.82" dy="-1.5">6</tspan></text>
<path d="M321.6 3.1V109.1" stroke="#333" stroke-width="0.9" fill="none"/>
<path d="M322 109.1h-3M321.9 93.15h-1.3M321.9 83.81h-1.3M321.9 77.19h-1.3M321.9 72.05h-1.3M321.9 67.86h-1.3M321.9 64.31h-1.3M321.9 61.24h-1.3M321.9 58.53h-1.3M322 56.1h-3M321.9 40.15h-1.3M321.9 30.81h-1.3M321.9 24.19h-1.3M321.9 19.05h-1.3M321.9 14.86h-1.3M321.9 11.31h-1.3M321.9 8.24h-1.3M321.9 5.53h-1.3M322 3.1h-3" stroke="#333" stroke-width="0.7" fill="none"/>
<text class="tk" x="317.7" y="111.41" font-size="4.9" text-anchor="end">10<tspan font-size="3.43" dy="-1.3">2</tspan></text>
<text class="tk" x="317.7" y="58.42" font-size="4.9" text-anchor="end">10<tspan font-size="3.43" dy="-1.3">3</tspan></text>
<text class="tk" x="317.7" y="5.42" font-size="4.9" text-anchor="end">10<tspan font-size="3.43" dy="-1.3">4</tspan></text>
<path d="M321.6 235.7H541.2" stroke="#333" stroke-width="0.9" fill="none"/>
<path d="M321.6 235.2v2M332.62 235.4v1.3M339.06 235.4v1.3M343.64 235.4v1.3M347.18 235.4v1.3M350.08 235.4v1.3M352.53 235.4v1.3M354.65 235.4v1.3M356.53 235.4v1.3M358.2 235.2v2M369.22 235.4v1.3M375.66 235.4v1.3M380.24 235.4v1.3M383.78 235.4v1.3M386.68 235.4v1.3M389.13 235.4v1.3M391.25 235.4v1.3M393.13 235.4v1.3M394.8 235.2v2M405.82 235.4v1.3M412.26 235.4v1.3M416.84 235.4v1.3M420.38 235.4v1.3M423.28 235.4v1.3M425.73 235.4v1.3M427.85 235.4v1.3M429.73 235.4v1.3M431.4 235.2v2M442.42 235.4v1.3M448.86 235.4v1.3M453.44 235.4v1.3M456.98 235.4v1.3M459.88 235.4v1.3M462.33 235.4v1.3M464.45 235.4v1.3M466.33 235.4v1.3M468 235.2v2M479.02 235.4v1.3M485.46 235.4v1.3M490.04 235.4v1.3M493.58 235.4v1.3M496.48 235.4v1.3M498.93 235.4v1.3M501.05 235.4v1.3M502.93 235.4v1.3M504.6 235.2v2M515.62 235.4v1.3M522.06 235.4v1.3M526.64 235.4v1.3M530.18 235.4v1.3M533.08 235.4v1.3M535.53 235.4v1.3M537.65 235.4v1.3M539.53 235.4v1.3M541.2 235.2v2" stroke="#333" stroke-width="0.7" fill="none"/>
<text class="tk" x="322.2" y="243.5" font-size="4.9" text-anchor="middle">10<tspan font-size="3.82" dy="-1.5">0</tspan></text>
<text class="tk" x="358.8" y="243.5" font-size="4.9" text-anchor="middle">10<tspan font-size="3.82" dy="-1.5">1</tspan></text>
<text class="tk" x="395.4" y="243.5" font-size="4.9" text-anchor="middle">10<tspan font-size="3.82" dy="-1.5">2</tspan></text>
<text class="tk" x="432" y="243.5" font-size="4.9" text-anchor="middle">10<tspan font-size="3.82" dy="-1.5">3</tspan></text>
<text class="tk" x="468.6" y="243.5" font-size="4.9" text-anchor="middle">10<tspan font-size="3.82" dy="-1.5">4</tspan></text>
<text class="tk" x="505.2" y="243.5" font-size="4.9" text-anchor="middle">10<tspan font-size="3.82" dy="-1.5">5</tspan></text>
<text class="tk" x="541.8" y="243.5" font-size="4.9" text-anchor="middle">10<tspan font-size="3.82" dy="-1.5">6</tspan></text>
<path d="M321.6 124.5V235.7" stroke="#333" stroke-width="0.9" fill="none"/>
<path d="M322 124.5h-3M321.9 132.96h-1.3M322 141.42h-3M321.9 149.88h-1.3M322 158.33h-3M321.9 166.79h-1.3M322 175.25h-3M321.9 183.71h-1.3M322 192.17h-3M321.9 200.62h-1.3M322 209.08h-3M321.9 217.54h-1.3M322 226h-3" stroke="#333" stroke-width="0.7" fill="none"/>
<text class="tk" x="317.7" y="126.25" font-size="5" text-anchor="end">-80</text>
<text class="tk" x="317.7" y="143.17" font-size="5" text-anchor="end">-60</text>
<text class="tk" x="317.7" y="160.08" font-size="5" text-anchor="end">-40</text>
<text class="tk" x="317.7" y="177" font-size="5" text-anchor="end">-20</text>
<text class="tk" x="317.7" y="193.92" font-size="5" text-anchor="end">0</text>
<text class="tk" x="317.7" y="210.83" font-size="5" text-anchor="end">20</text>
<text class="tk" x="317.7" y="227.75" font-size="5" text-anchor="end">40</text>
<text class="ti" font-size="6.6" text-anchor="middle" transform="translate(298.68 56.4) rotate(-90)">|Z| [ohm]</text>
<text class="ti" font-size="6.6" text-anchor="middle" transform="translate(296.48 179.5) rotate(-90)">Theta [degree]</text>
<text class="fq" x="432" y="254" font-size="6.7" text-anchor="middle">Frequency [Hz]</text>
<text class="cp" x="428.5" y="278.3" font-size="8.4" text-anchor="middle">(c)</text>
<rect x="506.1" y="7.2" width="51.1" height="51.9" fill="#fff" stroke="#777" stroke-width="0.8"/>
<path d="M511.4 11h2.8v2.8h-2.8z" fill="#111111"/>
<path d="M511.33 19.52a1.47 1.47 0 1 0 2.94 0a1.47 1.47 0 1 0 -2.94 0z" fill="#f41c24"/>
<path d="M512.8 24.96L514.48 27.9L511.12 27.9z" fill="#1e5ef5"/>
<path d="M512.8 35.44L514.48 32.5L511.12 32.5z" fill="#2a9f5c"/>
<path d="M512.8 39.2L514.48 40.88L512.8 42.56L511.12 40.88z" fill="#a55cf0"/>
<path d="M511.12 48L514.06 46.32L514.06 49.68z" fill="#dc9a0a"/>
<path d="M514.48 55.12L511.54 53.44L511.54 56.8z" fill="#12d2d6"/>
<text class="lg" x="520.7" y="14.46" font-size="5.9">first cycle</text>
<text class="lg" x="520.7" y="21.59" font-size="5.9">second cycle</text>
<text class="lg" x="520.7" y="28.71" font-size="5.9">third cycle</text>
<text class="lg" x="520.7" y="35.82" font-size="5.9">fourth cycle</text>
<text class="lg" x="520.7" y="42.95" font-size="5.9">fifth cycle</text>
<text class="lg" x="520.7" y="50.06" font-size="5.9">sixth cycle</text>
<text class="lg" x="520.7" y="57.18" font-size="5.9">seventh cycle</text>
<path d="M31.73 324.02h1.74v1.74h-1.74zM35.44 327.1h1.74v1.74h-1.74zM39.15 330.05h1.74v1.74h-1.74zM42.86 332.81h1.74v1.74h-1.74zM46.56 335.59h1.74v1.74h-1.74zM50.27 338.51h1.74v1.74h-1.74zM53.98 341.54h1.74v1.74h-1.74zM57.69 344.67h1.74v1.74h-1.74zM61.4 348.01h1.74v1.74h-1.74zM65.1 351.73h1.74v1.74h-1.74zM68.81 355.54h1.74v1.74h-1.74zM72.52 359.26h1.74v1.74h-1.74zM76.23 362.92h1.74v1.74h-1.74zM79.94 366.57h1.74v1.74h-1.74zM83.65 369.97h1.74v1.74h-1.74zM87.35 372.96h1.74v1.74h-1.74zM91.06 375.82h1.74v1.74h-1.74zM94.77 378.74h1.74v1.74h-1.74zM98.48 381.53h1.74v1.74h-1.74zM102.19 384.17h1.74v1.74h-1.74zM105.9 386.52h1.74v1.74h-1.74zM109.6 388.47h1.74v1.74h-1.74zM113.31 390.18h1.74v1.74h-1.74zM117.02 391.68h1.74v1.74h-1.74zM120.73 393.16h1.74v1.74h-1.74zM124.44 394.73h1.74v1.74h-1.74zM128.15 396.32h1.74v1.74h-1.74zM131.85 397.94h1.74v1.74h-1.74zM135.56 399.46h1.74v1.74h-1.74zM139.27 400.85h1.74v1.74h-1.74zM142.98 402.03h1.74v1.74h-1.74zM146.69 403.01h1.74v1.74h-1.74zM150.4 403.89h1.74v1.74h-1.74zM154.1 404.68h1.74v1.74h-1.74zM157.81 405.39h1.74v1.74h-1.74zM161.52 406.07h1.74v1.74h-1.74zM165.23 406.8h1.74v1.74h-1.74zM168.94 407.49h1.74v1.74h-1.74zM172.65 408.07h1.74v1.74h-1.74zM176.35 408.44h1.74v1.74h-1.74zM180.06 408.53h1.74v1.74h-1.74zM183.77 408.53h1.74v1.74h-1.74zM187.48 408.53h1.74v1.74h-1.74zM191.19 408.53h1.74v1.74h-1.74zM194.9 408.53h1.74v1.74h-1.74zM198.6 408.53h1.74v1.74h-1.74zM202.31 408.53h1.74v1.74h-1.74zM206.02 408.53h1.74v1.74h-1.74zM209.73 408.53h1.74v1.74h-1.74zM213.44 408.53h1.74v1.74h-1.74zM217.15 408.53h1.74v1.74h-1.74zM220.85 408.53h1.74v1.74h-1.74zM224.56 408.53h1.74v1.74h-1.74zM228.27 408.53h1.74v1.74h-1.74zM231.98 408.44h1.74v1.74h-1.74zM235.69 408.09h1.74v1.74h-1.74zM239.4 407.53h1.74v1.74h-1.74zM243.1 406.8h1.74v1.74h-1.74zM246.81 405.98h1.74v1.74h-1.74zM250.52 405.1h1.74v1.74h-1.74zM254.23 404.23h1.74v1.74h-1.74z" fill="#111111"/>
<path d="M31.08 324.83a1.52 1.52 0 1 0 3.04 0a1.52 1.52 0 1 0 -3.04 0zM34.79 327.91a1.52 1.52 0 1 0 3.04 0a1.52 1.52 0 1 0 -3.04 0zM38.49 330.85a1.52 1.52 0 1 0 3.04 0a1.52 1.52 0 1 0 -3.04 0zM42.2 333.61a1.52 1.52 0 1 0 3.04 0a1.52 1.52 0 1 0 -3.04 0zM45.91 336.38a1.52 1.52 0 1 0 3.04 0a1.52 1.52 0 1 0 -3.04 0zM49.62 339.3a1.52 1.52 0 1 0 3.04 0a1.52 1.52 0 1 0 -3.04 0zM53.33 342.34a1.52 1.52 0 1 0 3.04 0a1.52 1.52 0 1 0 -3.04 0zM57.04 345.46a1.52 1.52 0 1 0 3.04 0a1.52 1.52 0 1 0 -3.04 0zM60.74 348.8a1.52 1.52 0 1 0 3.04 0a1.52 1.52 0 1 0 -3.04 0zM64.45 352.52a1.52 1.52 0 1 0 3.04 0a1.52 1.52 0 1 0 -3.04 0zM68.16 356.33a1.52 1.52 0 1 0 3.04 0a1.52 1.52 0 1 0 -3.04 0zM71.87 360.06a1.52 1.52 0 1 0 3.04 0a1.52 1.52 0 1 0 -3.04 0zM75.58 363.73a1.52 1.52 0 1 0 3.04 0a1.52 1.52 0 1 0 -3.04 0zM79.29 367.37a1.52 1.52 0 1 0 3.04 0a1.52 1.52 0 1 0 -3.04 0zM82.99 370.78a1.52 1.52 0 1 0 3.04 0a1.52 1.52 0 1 0 -3.04 0zM86.7 373.77a1.52 1.52 0 1 0 3.04 0a1.52 1.52 0 1 0 -3.04 0zM90.41 376.64a1.52 1.52 0 1 0 3.04 0a1.52 1.52 0 1 0 -3.04 0zM94.12 379.56a1.52 1.52 0 1 0 3.04 0a1.52 1.52 0 1 0 -3.04 0zM97.83 382.36a1.52 1.52 0 1 0 3.04 0a1.52 1.52 0 1 0 -3.04 0zM101.54 385.01a1.52 1.52 0 1 0 3.04 0a1.52 1.52 0 1 0 -3.04 0zM105.24 387.36a1.52 1.52 0 1 0 3.04 0a1.52 1.52 0 1 0 -3.04 0zM108.95 389.32a1.52 1.52 0 1 0 3.04 0a1.52 1.52 0 1 0 -3.04 0zM112.66 391.04a1.52 1.52 0 1 0 3.04 0a1.52 1.52 0 1 0 -3.04 0zM116.37 392.55a1.52 1.52 0 1 0 3.04 0a1.52 1.52 0 1 0 -3.04 0zM120.08 394.03a1.52 1.52 0 1 0 3.04 0a1.52 1.52 0 1 0 -3.04 0zM123.79 395.6a1.52 1.52 0 1 0 3.04 0a1.52 1.52 0 1 0 -3.04 0zM127.49 397.19a1.52 1.52 0 1 0 3.04 0a1.52 1.52 0 1 0 -3.04 0zM131.2 398.81a1.52 1.52 0 1 0 3.04 0a1.52 1.52 0 1 0 -3.04 0zM134.91 400.33a1.52 1.52 0 1 0 3.04 0a1.52 1.52 0 1 0 -3.04 0zM138.62 401.72a1.52 1.52 0 1 0 3.04 0a1.52 1.52 0 1 0 -3.04 0zM142.33 402.9a1.52 1.52 0 1 0 3.04 0a1.52 1.52 0 1 0 -3.04 0zM146.04 403.88a1.52 1.52 0 1 0 3.04 0a1.52 1.52 0 1 0 -3.04 0zM149.74 404.76a1.52 1.52 0 1 0 3.04 0a1.52 1.52 0 1 0 -3.04 0zM153.45 405.55a1.52 1.52 0 1 0 3.04 0a1.52 1.52 0 1 0 -3.04 0zM157.16 406.26a1.52 1.52 0 1 0 3.04 0a1.52 1.52 0 1 0 -3.04 0zM160.87 406.94a1.52 1.52 0 1 0 3.04 0a1.52 1.52 0 1 0 -3.04 0zM164.58 407.67a1.52 1.52 0 1 0 3.04 0a1.52 1.52 0 1 0 -3.04 0zM168.29 408.36a1.52 1.52 0 1 0 3.04 0a1.52 1.52 0 1 0 -3.04 0zM171.99 408.94a1.52 1.52 0 1 0 3.04 0a1.52 1.52 0 1 0 -3.04 0zM175.7 409.31a1.52 1.52 0 1 0 3.04 0a1.52 1.52 0 1 0 -3.04 0zM179.41 409.4a1.52 1.52 0 1 0 3.04 0a1.52 1.52 0 1 0 -3.04 0zM183.12 409.4a1.52 1.52 0 1 0 3.04 0a1.52 1.52 0 1 0 -3.04 0zM186.83 409.4a1.52 1.52 0 1 0 3.04 0a1.52 1.52 0 1 0 -3.04 0zM190.54 409.4a1.52 1.52 0 1 0 3.04 0a1.52 1.52 0 1 0 -3.04 0zM194.24 409.4a1.52 1.52 0 1 0 3.04 0a1.52 1.52 0 1 0 -3.04 0zM197.95 409.4a1.52 1.52 0 1 0 3.04 0a1.52 1.52 0 1 0 -3.04 0zM201.66 409.4a1.52 1.52 0 1 0 3.04 0a1.52 1.52 0 1 0 -3.04 0zM205.37 409.4a1.52 1.52 0 1 0 3.04 0a1.52 1.52 0 1 0 -3.04 0zM209.08 409.4a1.52 1.52 0 1 0 3.04 0a1.52 1.52 0 1 0 -3.04 0zM212.79 409.4a1.52 1.52 0 1 0 3.04 0a1.52 1.52 0 1 0 -3.04 0zM216.49 409.4a1.52 1.52 0 1 0 3.04 0a1.52 1.52 0 1 0 -3.04 0zM220.2 409.4a1.52 1.52 0 1 0 3.04 0a1.52 1.52 0 1 0 -3.04 0zM223.91 409.4a1.52 1.52 0 1 0 3.04 0a1.52 1.52 0 1 0 -3.04 0zM227.62 409.4a1.52 1.52 0 1 0 3.04 0a1.52 1.52 0 1 0 -3.04 0zM231.33 409.31a1.52 1.52 0 1 0 3.04 0a1.52 1.52 0 1 0 -3.04 0zM235.04 408.96a1.52 1.52 0 1 0 3.04 0a1.52 1.52 0 1 0 -3.04 0zM238.74 408.4a1.52 1.52 0 1 0 3.04 0a1.52 1.52 0 1 0 -3.04 0zM242.45 407.67a1.52 1.52 0 1 0 3.04 0a1.52 1.52 0 1 0 -3.04 0zM246.16 406.85a1.52 1.52 0 1 0 3.04 0a1.52 1.52 0 1 0 -3.04 0zM249.87 405.97a1.52 1.52 0 1 0 3.04 0a1.52 1.52 0 1 0 -3.04 0zM253.58 405.1a1.52 1.52 0 1 0 3.04 0a1.52 1.52 0 1 0 -3.04 0z" fill="#f41c24"/>
<path d="M32.6 322.96L34.34 326L30.86 326zM36.31 326.04L38.05 329.09L34.57 329.09zM40.02 328.98L41.76 332.03L38.28 332.03zM43.73 331.73L45.47 334.77L41.98 334.77zM47.43 334.54L49.17 337.59L45.69 337.59zM51.14 337.54L52.88 340.59L49.4 340.59zM54.85 340.66L56.59 343.71L53.11 343.71zM58.56 343.9L60.3 346.94L56.82 346.94zM62.27 347.36L64.01 350.4L60.53 350.4zM65.97 351.2L67.71 354.24L64.23 354.24zM69.68 355.13L71.42 358.18L67.94 358.18zM73.39 358.99L75.13 362.03L71.65 362.03zM77.1 362.79L78.84 365.84L75.36 365.84zM80.81 366.6L82.55 369.64L79.07 369.64zM84.52 370.18L86.26 373.22L82.78 373.22zM88.22 373.35L89.96 376.4L86.48 376.4zM91.93 376.41L93.67 379.46L90.19 379.46zM95.64 379.5L97.38 382.55L93.9 382.55zM99.35 382.46L101.09 385.5L97.61 385.5zM103.06 385.26L104.8 388.3L101.32 388.3zM106.77 387.78L108.51 390.83L105.03 390.83zM110.47 389.97L112.21 393.01L108.73 393.01zM114.18 391.93L115.92 394.98L112.44 394.98zM117.89 393.71L119.63 396.76L116.15 396.76zM121.6 395.37L123.34 398.41L119.86 398.41zM125.31 396.94L127.05 399.98L123.57 399.98zM129.02 398.51L130.76 401.56L127.28 401.56zM132.72 400.14L134.47 403.19L130.98 403.19zM136.43 401.66L138.17 404.71L134.69 404.71zM140.14 403.01L141.88 406.05L138.4 406.05zM143.85 404.14L145.59 407.18L142.11 407.18zM147.56 405.06L149.3 408.11L145.82 408.11zM151.27 405.89L153.01 408.93L149.53 408.93zM154.97 406.63L156.72 409.67L153.23 409.67zM158.68 407.29L160.42 410.34L156.94 410.34zM162.39 407.93L164.13 410.97L160.65 410.97zM166.1 408.59L167.84 411.64L164.36 411.64zM169.81 409.23L171.55 412.28L168.07 412.28zM173.52 409.76L175.26 412.81L171.78 412.81zM177.22 410.1L178.97 413.15L175.48 413.15zM180.93 410.19L182.67 413.23L179.19 413.23zM184.64 410.19L186.38 413.23L182.9 413.23zM188.35 410.19L190.09 413.23L186.61 413.23zM192.06 410.19L193.8 413.23L190.32 413.23zM195.77 410.19L197.51 413.23L194.03 413.23zM199.47 410.19L201.22 413.23L197.73 413.23zM203.18 410.19L204.92 413.23L201.44 413.23zM206.89 410.19L208.63 413.23L205.15 413.23zM210.6 410.19L212.34 413.23L208.86 413.23zM214.31 410.19L216.05 413.23L212.57 413.23zM218.02 410.19L219.76 413.23L216.28 413.23zM221.72 410.19L223.47 413.23L219.98 413.23zM225.43 410.19L227.17 413.23L223.69 413.23zM229.14 410.19L230.88 413.23L227.4 413.23zM232.85 410.09L234.59 413.13L231.11 413.13zM236.56 409.69L238.3 412.74L234.82 412.74zM240.27 409.06L242.01 412.1L238.53 412.1zM243.97 408.24L245.72 411.28L242.23 411.28zM247.68 407.31L249.42 410.35L245.94 410.35zM251.39 406.32L253.13 409.36L249.65 409.36zM255.1 405.34L256.84 408.38L253.36 408.38z" fill="#1e5ef5"/>
<path d="M32.6 329.91L34.34 326.86L30.86 326.86zM36.31 332.99L38.05 329.94L34.57 329.94zM40.02 336.06L41.76 333.01L38.28 333.01zM43.73 339.1L45.47 336.06L41.98 336.06zM47.43 342.13L49.17 339.08L45.69 339.08zM51.14 345.15L52.88 342.1L49.4 342.1zM54.85 348.34L56.59 345.3L53.11 345.3zM58.56 351.91L60.3 348.86L56.82 348.86zM62.27 355.61L64.01 352.57L60.53 352.57zM65.97 359.39L67.71 356.35L64.23 356.35zM69.68 363.18L71.42 360.14L67.94 360.14zM73.39 366.9L75.13 363.86L71.65 363.86zM77.1 370.59L78.84 367.55L75.36 367.55zM80.81 374.34L82.55 371.29L79.07 371.29zM84.52 377.85L86.26 374.81L82.78 374.81zM88.22 380.94L89.96 377.9L86.48 377.9zM91.93 383.86L93.67 380.82L90.19 380.82zM95.64 386.74L97.38 383.7L93.9 383.7zM99.35 389.45L101.09 386.41L97.61 386.41zM103.06 391.98L104.8 388.94L101.32 388.94zM106.77 394.27L108.51 391.22L105.03 391.22zM110.47 396.25L112.21 393.21L108.73 393.21zM114.18 398.02L115.92 394.98L112.44 394.98zM117.89 399.59L119.63 396.54L116.15 396.54zM121.6 401.12L123.34 398.07L119.86 398.07zM125.31 402.69L127.05 399.64L123.57 399.64zM129.02 404.25L130.76 401.2L127.28 401.2zM132.72 405.89L134.47 402.85L130.98 402.85zM136.43 407.41L138.17 404.36L134.69 404.36zM140.14 408.72L141.88 405.68L138.4 405.68zM143.85 409.81L145.59 406.77L142.11 406.77zM147.56 410.7L149.3 407.65L145.82 407.65zM151.27 411.49L153.01 408.44L149.53 408.44zM154.97 412.19L156.72 409.14L153.23 409.14zM158.68 412.82L160.42 409.77L156.94 409.77zM162.39 413.41L164.13 410.37L160.65 410.37zM166.1 414.04L167.84 410.99L164.36 410.99zM169.81 414.64L171.55 411.59L168.07 411.59zM173.52 415.13L175.26 412.09L171.78 412.09zM177.22 415.45L178.97 412.4L175.48 412.4zM180.93 415.53L182.67 412.48L179.19 412.48zM184.64 415.53L186.38 412.48L182.9 412.48zM188.35 415.53L190.09 412.48L186.61 412.48zM192.06 415.53L193.8 412.48L190.32 412.48zM195.77 415.53L197.51 412.48L194.03 412.48zM199.47 415.53L201.22 412.48L197.73 412.48zM203.18 415.53L204.92 412.48L201.44 412.48zM206.89 415.53L208.63 412.48L205.15 412.48zM210.6 415.53L212.34 412.48L208.86 412.48zM214.31 415.53L216.05 412.48L212.57 412.48zM218.02 415.53L219.76 412.48L216.28 412.48zM221.72 415.53L223.47 412.48L219.98 412.48zM225.43 415.53L227.17 412.48L223.69 412.48zM229.14 415.53L230.88 412.48L227.4 412.48zM232.85 415.42L234.59 412.38L231.11 412.38zM236.56 414.99L238.3 411.95L234.82 411.95zM240.27 414.3L242.01 411.26L238.53 411.26zM243.97 413.42L245.72 410.37L242.23 410.37zM247.68 412.41L249.42 409.36L245.94 409.36zM251.39 411.34L253.13 408.29L249.65 408.29zM255.1 410.27L256.84 407.23L253.36 407.23z" fill="#2a9f5c"/>
<path d="M32.6 324.85L34.34 326.59L32.6 328.33L30.86 326.59zM36.31 327.93L38.05 329.67L36.31 331.41L34.57 329.67zM40.02 330.94L41.76 332.68L40.02 334.42L38.28 332.68zM43.73 333.85L45.47 335.59L43.73 337.33L41.98 335.59zM47.43 336.85L49.17 338.59L47.43 340.33L45.69 338.59zM51.14 339.96L52.88 341.7L51.14 343.44L49.4 341.7zM54.85 343.25L56.59 344.99L54.85 346.73L53.11 344.99zM58.56 346.82L60.3 348.56L58.56 350.3L56.82 348.56zM62.27 350.6L64.01 352.34L62.27 354.08L60.53 352.34zM65.97 354.57L67.71 356.31L65.97 358.05L64.23 356.31zM69.68 358.58L71.42 360.32L69.68 362.06L67.94 360.32zM73.39 362.53L75.13 364.27L73.39 366.01L71.65 364.27zM77.1 366.45L78.84 368.19L77.1 369.93L75.36 368.19zM80.81 370.43L82.55 372.17L80.81 373.91L79.07 372.17zM84.52 374.21L86.26 375.95L84.52 377.69L82.78 375.95zM88.22 377.59L89.96 379.33L88.22 381.07L86.48 379.33zM91.93 380.81L93.67 382.55L91.93 384.29L90.19 382.55zM95.64 384L97.38 385.74L95.64 387.48L93.9 385.74zM99.35 387.03L101.09 388.77L99.35 390.51L97.61 388.77zM103.06 389.88L104.8 391.62L103.06 393.36L101.32 391.62zM106.77 392.49L108.51 394.23L106.77 395.97L105.03 394.23zM110.47 394.86L112.21 396.6L110.47 398.34L108.73 396.6zM114.18 397.05L115.92 398.79L114.18 400.53L112.44 398.79zM117.89 399.07L119.63 400.81L117.89 402.55L116.15 400.81zM121.6 400.88L123.34 402.62L121.6 404.36L119.86 402.62zM125.31 402.45L127.05 404.19L125.31 405.93L123.57 404.19zM129.02 403.99L130.76 405.73L129.02 407.47L127.28 405.73zM132.72 405.65L134.47 407.39L132.72 409.13L130.98 407.39zM136.43 407.17L138.17 408.91L136.43 410.65L134.69 408.91zM140.14 408.44L141.88 410.18L140.14 411.92L138.4 410.18zM143.85 409.46L145.59 411.2L143.85 412.94L142.11 411.2zM147.56 410.3L149.3 412.04L147.56 413.78L145.82 412.04zM151.27 411.03L153.01 412.77L151.27 414.51L149.53 412.77zM154.97 411.68L156.72 413.42L154.97 415.16L153.23 413.42zM158.68 412.26L160.42 414L158.68 415.74L156.94 414zM162.39 412.8L164.13 414.54L162.39 416.28L160.65 414.54zM166.1 413.37L167.84 415.11L166.1 416.85L164.36 415.11zM169.81 413.91L171.55 415.65L169.81 417.39L168.07 415.65zM173.52 414.35L175.26 416.09L173.52 417.83L171.78 416.09zM177.22 414.64L178.97 416.38L177.22 418.12L175.48 416.38zM180.93 414.71L182.67 416.45L180.93 418.19L179.19 416.45zM184.64 414.71L186.38 416.45L184.64 418.19L182.9 416.45zM188.35 414.71L190.09 416.45L188.35 418.19L186.61 416.45zM192.06 414.71L193.8 416.45L192.06 418.19L190.32 416.45zM195.77 414.71L197.51 416.45L195.77 418.19L194.03 416.45zM199.47 414.71L201.22 416.45L199.47 418.19L197.73 416.45zM203.18 414.71L204.92 416.45L203.18 418.19L201.44 416.45zM206.89 414.71L208.63 416.45L206.89 418.19L205.15 416.45zM210.6 414.71L212.34 416.45L210.6 418.19L208.86 416.45zM214.31 414.71L216.05 416.45L214.31 418.19L212.57 416.45zM218.02 414.71L219.76 416.45L218.02 418.19L216.28 416.45zM221.72 414.71L223.47 416.45L221.72 418.19L219.98 416.45zM225.43 414.71L227.17 416.45L225.43 418.19L223.69 416.45zM229.14 414.71L230.88 416.45L229.14 418.19L227.4 416.45zM232.85 414.59L234.59 416.33L232.85 418.07L231.11 416.33zM236.56 414.11L238.3 415.85L236.56 417.59L234.82 415.85zM240.27 413.35L242.01 415.09L240.27 416.83L238.53 415.09zM243.97 412.37L245.72 414.11L243.97 415.85L242.23 414.11zM247.68 411.24L249.42 412.98L247.68 414.72L245.94 412.98zM251.39 410.05L253.13 411.79L251.39 413.53L249.65 411.79zM255.1 408.87L256.84 410.61L255.1 412.35L253.36 410.61z" fill="#a55cf0"/>
<path d="M30.86 329.11L33.91 327.37L33.91 330.85zM34.57 332.19L37.61 330.45L37.61 333.93zM38.28 335.3L41.32 333.56L41.32 337.04zM41.98 338.43L45.03 336.69L45.03 340.17zM45.69 341.62L48.74 339.88L48.74 343.36zM49.4 344.82L52.45 343.08L52.45 346.56zM53.11 348.24L56.16 346.5L56.16 349.98zM56.82 352.17L59.86 350.43L59.86 353.91zM60.53 356.24L63.57 354.5L63.57 357.98zM64.23 360.27L67.28 358.53L67.28 362.01zM67.94 364.29L70.99 362.55L70.99 366.03zM71.65 368.25L74.7 366.51L74.7 369.99zM75.36 372.21L78.41 370.47L78.41 373.95zM79.07 376.29L82.11 374.55L82.11 378.03zM82.78 380.18L85.82 378.44L85.82 381.92zM86.48 383.66L89.53 381.92L89.53 385.4zM90.19 386.95L93.24 385.21L93.24 388.69zM93.9 390.13L96.95 388.39L96.95 391.87zM97.61 393.13L100.66 391.39L100.66 394.87zM101.32 395.9L104.36 394.16L104.36 397.64zM105.03 398.49L108.07 396.75L108.07 400.23zM108.73 400.92L111.78 399.18L111.78 402.66zM112.44 403.18L115.49 401.44L115.49 404.92zM116.15 405.28L119.2 403.54L119.2 407.02zM119.86 407.16L122.91 405.42L122.91 408.9zM123.57 408.72L126.61 406.98L126.61 410.46zM127.28 410.23L130.32 408.49L130.32 411.97zM130.98 411.92L134.03 410.18L134.03 413.66zM134.69 413.44L137.74 411.7L137.74 415.18zM138.4 414.64L141.45 412.9L141.45 416.38zM142.11 415.59L145.16 413.85L145.16 417.33zM145.82 416.35L148.86 414.61L148.86 418.09zM149.53 417L152.57 415.26L152.57 418.74zM153.23 417.58L156.28 415.84L156.28 419.32zM156.94 418.08L159.99 416.34L159.99 419.82zM160.65 418.55L163.7 416.81L163.7 420.29zM164.36 419.04L167.41 417.3L167.41 420.78zM168.07 419.49L171.11 417.75L171.11 421.23zM171.78 419.87L174.82 418.13L174.82 421.61zM175.48 420.11L178.53 418.37L178.53 421.85zM179.19 420.17L182.24 418.43L182.24 421.91zM182.9 420.17L185.95 418.43L185.95 421.91zM186.61 420.17L189.66 418.43L189.66 421.91zM190.32 420.17L193.36 418.43L193.36 421.91zM194.03 420.17L197.07 418.43L197.07 421.91zM197.73 420.17L200.78 418.43L200.78 421.91zM201.44 420.17L204.49 418.43L204.49 421.91zM205.15 420.17L208.2 418.43L208.2 421.91zM208.86 420.17L211.91 418.43L211.91 421.91zM212.57 420.17L215.61 418.43L215.61 421.91zM216.28 420.17L219.32 418.43L219.32 421.91zM219.98 420.17L223.03 418.43L223.03 421.91zM223.69 420.17L226.74 418.43L226.74 421.91zM227.4 420.17L230.45 418.43L230.45 421.91zM231.11 420.04L234.16 418.3L234.16 421.78zM234.82 419.5L237.86 417.76L237.86 421.24zM238.53 418.62L241.57 416.88L241.57 420.36zM242.23 417.5L245.28 415.76L245.28 419.24zM245.94 416.22L248.99 414.48L248.99 417.96zM249.65 414.87L252.7 413.13L252.7 416.61zM253.36 413.52L256.4 411.78L256.4 415.26z" fill="#dc9a0a"/>
<path d="M34.34 331L31.3 329.26L31.3 332.74zM38.05 334.08L35 332.34L35 335.82zM41.76 337.26L38.71 335.52L38.71 339zM45.47 340.55L42.42 338.81L42.42 342.29zM49.17 343.89L46.13 342.15L46.13 345.63zM52.88 347.14L49.84 345.4L49.84 348.88zM56.59 350.66L53.55 348.92L53.55 352.4zM60.3 354.84L57.25 353.1L57.25 356.58zM64.01 359.12L60.96 357.38L60.96 360.86zM67.71 363.19L64.67 361.45L64.67 364.93zM71.42 367.2L68.38 365.46L68.38 368.94zM75.13 371.15L72.09 369.41L72.09 372.89zM78.84 375.13L75.79 373.39L75.79 376.87zM82.55 379.27L79.5 377.53L79.5 381.01zM86.26 383.22L83.21 381.48L83.21 384.96zM89.96 386.76L86.92 385.02L86.92 388.5zM93.67 390.08L90.63 388.34L90.63 391.82zM97.38 393.24L94.34 391.5L94.34 394.98zM101.09 396.19L98.04 394.45L98.04 397.93zM104.8 398.9L101.75 397.16L101.75 400.64zM108.51 401.45L105.46 399.71L105.46 403.19zM112.21 403.9L109.17 402.16L109.17 405.64zM115.92 406.19L112.88 404.45L112.88 407.93zM119.63 408.33L116.59 406.59L116.59 410.07zM123.34 410.24L120.29 408.5L120.29 411.98zM127.05 411.8L124 410.06L124 413.54zM130.76 413.29L127.71 411.55L127.71 415.03zM134.47 415L131.42 413.26L131.42 416.74zM138.17 416.51L135.13 414.77L135.13 418.25zM141.88 417.68L138.84 415.94L138.84 419.42zM145.59 418.57L142.54 416.83L142.54 420.31zM149.3 419.27L146.25 417.53L146.25 421.01zM153.01 419.87L149.96 418.13L149.96 421.61zM156.72 420.4L153.67 418.66L153.67 422.14zM160.42 420.85L157.38 419.11L157.38 422.59zM164.13 421.27L161.09 419.53L161.09 423.01zM167.84 421.7L164.79 419.96L164.79 423.44zM171.55 422.11L168.5 420.37L168.5 423.85zM175.26 422.44L172.21 420.7L172.21 424.18zM178.97 422.65L175.92 420.91L175.92 424.39zM182.67 422.7L179.63 420.96L179.63 424.44zM186.38 422.7L183.34 420.96L183.34 424.44zM190.09 422.7L187.04 420.96L187.04 424.44zM193.8 422.7L190.75 420.96L190.75 424.44zM197.51 422.7L194.46 420.96L194.46 424.44zM201.22 422.7L198.17 420.96L198.17 424.44zM204.92 422.7L201.88 420.96L201.88 424.44zM208.63 422.7L205.59 420.96L205.59 424.44zM212.34 422.7L209.29 420.96L209.29 424.44zM216.05 422.7L213 420.96L213 424.44zM219.76 422.7L216.71 420.96L216.71 424.44zM223.47 422.7L220.42 420.96L220.42 424.44zM227.17 422.7L224.13 420.96L224.13 424.44zM230.88 422.7L227.84 420.96L227.84 424.44zM234.59 422.55L231.54 420.81L231.54 424.29zM238.3 421.97L235.25 420.23L235.25 423.71zM242.01 421.02L238.96 419.28L238.96 422.76zM245.72 419.81L242.67 418.07L242.67 421.55zM249.42 418.42L246.38 416.68L246.38 420.16zM253.13 416.96L250.09 415.22L250.09 418.7zM256.84 415.5L253.79 413.76L253.79 417.24z" fill="#12d2d6"/>
<path d="M31.15 469.53h2.9v2.9h-2.9zM34.86 467.49h2.9v2.9h-2.9zM38.57 465.64h2.9v2.9h-2.9zM42.27 463.79h2.9v2.9h-2.9zM45.98 462.06h2.9v2.9h-2.9zM49.69 460.78h2.9v2.9h-2.9zM53.4 459.18h2.9v2.9h-2.9zM57.11 458.43h2.9v2.9h-2.9zM60.82 458.09h2.9v2.9h-2.9zM64.52 457.53h2.9v2.9h-2.9zM68.23 457.64h2.9v2.9h-2.9zM71.94 457.94h2.9v2.9h-2.9zM75.65 458.42h2.9v2.9h-2.9zM79.36 458.97h2.9v2.9h-2.9zM83.07 459.58h2.9v2.9h-2.9zM86.77 460.21h2.9v2.9h-2.9zM90.48 460.8h2.9v2.9h-2.9zM94.19 461.86h2.9v2.9h-2.9zM97.9 463.19h2.9v2.9h-2.9zM101.61 464.46h2.9v2.9h-2.9zM105.32 465.93h2.9v2.9h-2.9zM109.02 467.85h2.9v2.9h-2.9zM112.73 469.71h2.9v2.9h-2.9zM116.44 471.54h2.9v2.9h-2.9zM120.15 473.58h2.9v2.9h-2.9zM123.86 475.34h2.9v2.9h-2.9zM127.57 476.9h2.9v2.9h-2.9zM131.28 475.44h2.9v2.9h-2.9zM134.98 477.26h2.9v2.9h-2.9zM138.69 479.01h2.9v2.9h-2.9zM142.4 480.68h2.9v2.9h-2.9zM146.11 482.76h2.9v2.9h-2.9zM149.82 484.98h2.9v2.9h-2.9zM153.53 487.24h2.9v2.9h-2.9zM157.23 489.53h2.9v2.9h-2.9zM160.94 491.59h2.9v2.9h-2.9zM164.65 493.16h2.9v2.9h-2.9zM168.36 494.52h2.9v2.9h-2.9zM172.07 495.8h2.9v2.9h-2.9zM175.78 496.96h2.9v2.9h-2.9zM179.48 498h2.9v2.9h-2.9zM183.19 498.88h2.9v2.9h-2.9zM186.9 499.51h2.9v2.9h-2.9zM190.61 500.09h2.9v2.9h-2.9zM194.32 500.7h2.9v2.9h-2.9zM198.03 501.31h2.9v2.9h-2.9zM201.73 501.94h2.9v2.9h-2.9zM205.44 502.52h2.9v2.9h-2.9zM209.15 502.97h2.9v2.9h-2.9zM212.86 503.43h2.9v2.9h-2.9zM216.57 503.94h2.9v2.9h-2.9zM220.28 504.44h2.9v2.9h-2.9zM223.98 504.88h2.9v2.9h-2.9zM227.69 505.47h2.9v2.9h-2.9zM231.4 506.4h2.9v2.9h-2.9zM235.11 507.6h2.9v2.9h-2.9zM238.82 508.95h2.9v2.9h-2.9zM242.53 510.55h2.9v2.9h-2.9zM246.23 512.45h2.9v2.9h-2.9zM249.94 514.71h2.9v2.9h-2.9zM253.65 517.05h2.9v2.9h-2.9z" fill="#111111"/>
<path d="M31.08 470.41a1.52 1.52 0 1 0 3.04 0a1.52 1.52 0 1 0 -3.04 0zM34.79 468.32a1.52 1.52 0 1 0 3.04 0a1.52 1.52 0 1 0 -3.04 0zM38.49 466.47a1.52 1.52 0 1 0 3.04 0a1.52 1.52 0 1 0 -3.04 0zM42.2 465.16a1.52 1.52 0 1 0 3.04 0a1.52 1.52 0 1 0 -3.04 0zM45.91 463.91a1.52 1.52 0 1 0 3.04 0a1.52 1.52 0 1 0 -3.04 0zM49.62 463.1a1.52 1.52 0 1 0 3.04 0a1.52 1.52 0 1 0 -3.04 0zM53.33 461.79a1.52 1.52 0 1 0 3.04 0a1.52 1.52 0 1 0 -3.04 0zM57.04 461.37a1.52 1.52 0 1 0 3.04 0a1.52 1.52 0 1 0 -3.04 0zM60.74 461.32a1.52 1.52 0 1 0 3.04 0a1.52 1.52 0 1 0 -3.04 0zM64.45 460.8a1.52 1.52 0 1 0 3.04 0a1.52 1.52 0 1 0 -3.04 0zM68.16 460.8a1.52 1.52 0 1 0 3.04 0a1.52 1.52 0 1 0 -3.04 0zM71.87 460.99a1.52 1.52 0 1 0 3.04 0a1.52 1.52 0 1 0 -3.04 0zM75.58 461.39a1.52 1.52 0 1 0 3.04 0a1.52 1.52 0 1 0 -3.04 0zM79.29 461.9a1.52 1.52 0 1 0 3.04 0a1.52 1.52 0 1 0 -3.04 0zM82.99 462.46a1.52 1.52 0 1 0 3.04 0a1.52 1.52 0 1 0 -3.04 0zM86.7 463.01a1.52 1.52 0 1 0 3.04 0a1.52 1.52 0 1 0 -3.04 0zM90.41 463.57a1.52 1.52 0 1 0 3.04 0a1.52 1.52 0 1 0 -3.04 0zM94.12 464.54a1.52 1.52 0 1 0 3.04 0a1.52 1.52 0 1 0 -3.04 0zM97.83 465.78a1.52 1.52 0 1 0 3.04 0a1.52 1.52 0 1 0 -3.04 0zM101.54 467.08a1.52 1.52 0 1 0 3.04 0a1.52 1.52 0 1 0 -3.04 0zM105.24 468.56a1.52 1.52 0 1 0 3.04 0a1.52 1.52 0 1 0 -3.04 0zM108.95 470.33a1.52 1.52 0 1 0 3.04 0a1.52 1.52 0 1 0 -3.04 0zM112.66 472.13a1.52 1.52 0 1 0 3.04 0a1.52 1.52 0 1 0 -3.04 0zM116.37 473.9a1.52 1.52 0 1 0 3.04 0a1.52 1.52 0 1 0 -3.04 0zM120.08 475.85a1.52 1.52 0 1 0 3.04 0a1.52 1.52 0 1 0 -3.04 0zM123.79 477.55a1.52 1.52 0 1 0 3.04 0a1.52 1.52 0 1 0 -3.04 0zM127.49 479.01a1.52 1.52 0 1 0 3.04 0a1.52 1.52 0 1 0 -3.04 0zM131.2 477.8a1.52 1.52 0 1 0 3.04 0a1.52 1.52 0 1 0 -3.04 0zM134.91 479.76a1.52 1.52 0 1 0 3.04 0a1.52 1.52 0 1 0 -3.04 0zM138.62 481.65a1.52 1.52 0 1 0 3.04 0a1.52 1.52 0 1 0 -3.04 0zM142.33 483.45a1.52 1.52 0 1 0 3.04 0a1.52 1.52 0 1 0 -3.04 0zM146.04 485.5a1.52 1.52 0 1 0 3.04 0a1.52 1.52 0 1 0 -3.04 0zM149.74 487.64a1.52 1.52 0 1 0 3.04 0a1.52 1.52 0 1 0 -3.04 0zM153.45 489.79a1.52 1.52 0 1 0 3.04 0a1.52 1.52 0 1 0 -3.04 0zM157.16 491.94a1.52 1.52 0 1 0 3.04 0a1.52 1.52 0 1 0 -3.04 0zM160.87 493.88a1.52 1.52 0 1 0 3.04 0a1.52 1.52 0 1 0 -3.04 0zM164.58 495.39a1.52 1.52 0 1 0 3.04 0a1.52 1.52 0 1 0 -3.04 0zM168.29 496.71a1.52 1.52 0 1 0 3.04 0a1.52 1.52 0 1 0 -3.04 0zM171.99 497.93a1.52 1.52 0 1 0 3.04 0a1.52 1.52 0 1 0 -3.04 0zM175.7 499.03a1.52 1.52 0 1 0 3.04 0a1.52 1.52 0 1 0 -3.04 0zM179.41 500.02a1.52 1.52 0 1 0 3.04 0a1.52 1.52 0 1 0 -3.04 0zM183.12 500.87a1.52 1.52 0 1 0 3.04 0a1.52 1.52 0 1 0 -3.04 0zM186.83 501.51a1.52 1.52 0 1 0 3.04 0a1.52 1.52 0 1 0 -3.04 0zM190.54 502.08a1.52 1.52 0 1 0 3.04 0a1.52 1.52 0 1 0 -3.04 0zM194.24 502.66a1.52 1.52 0 1 0 3.04 0a1.52 1.52 0 1 0 -3.04 0zM197.95 503.24a1.52 1.52 0 1 0 3.04 0a1.52 1.52 0 1 0 -3.04 0zM201.66 503.85a1.52 1.52 0 1 0 3.04 0a1.52 1.52 0 1 0 -3.04 0zM205.37 504.41a1.52 1.52 0 1 0 3.04 0a1.52 1.52 0 1 0 -3.04 0zM209.08 504.86a1.52 1.52 0 1 0 3.04 0a1.52 1.52 0 1 0 -3.04 0zM212.79 505.32a1.52 1.52 0 1 0 3.04 0a1.52 1.52 0 1 0 -3.04 0zM216.49 505.81a1.52 1.52 0 1 0 3.04 0a1.52 1.52 0 1 0 -3.04 0zM220.2 506.32a1.52 1.52 0 1 0 3.04 0a1.52 1.52 0 1 0 -3.04 0zM223.91 506.84a1.52 1.52 0 1 0 3.04 0a1.52 1.52 0 1 0 -3.04 0zM227.62 507.51a1.52 1.52 0 1 0 3.04 0a1.52 1.52 0 1 0 -3.04 0zM231.33 508.48a1.52 1.52 0 1 0 3.04 0a1.52 1.52 0 1 0 -3.04 0zM235.04 509.7a1.52 1.52 0 1 0 3.04 0a1.52 1.52 0 1 0 -3.04 0zM238.74 511.07a1.52 1.52 0 1 0 3.04 0a1.52 1.52 0 1 0 -3.04 0zM242.45 512.84a1.52 1.52 0 1 0 3.04 0a1.52 1.52 0 1 0 -3.04 0zM246.16 514.93a1.52 1.52 0 1 0 3.04 0a1.52 1.52 0 1 0 -3.04 0zM249.87 517.34a1.52 1.52 0 1 0 3.04 0a1.52 1.52 0 1 0 -3.04 0zM253.58 519.83a1.52 1.52 0 1 0 3.04 0a1.52 1.52 0 1 0 -3.04 0z" fill="#f41c24"/>
<path d="M32.6 472.06L34.34 475.11L30.86 475.11zM36.31 470.31L38.05 473.35L34.57 473.35zM40.02 468.45L41.76 471.49L38.28 471.49zM43.73 466.27L45.47 469.31L41.98 469.31zM47.43 464.1L49.17 467.14L45.69 467.14zM51.14 462.54L52.88 465.59L49.4 465.59zM54.85 460.46L56.59 463.5L53.11 463.5zM58.56 459.44L60.3 462.48L56.82 462.48zM62.27 458.85L64.01 461.89L60.53 461.89zM65.97 457.97L67.71 461.01L64.23 461.01zM69.68 457.94L71.42 460.98L67.94 460.98zM73.39 458.1L75.13 461.15L71.65 461.15zM77.1 458.46L78.84 461.51L75.36 461.51zM80.81 458.9L82.55 461.95L79.07 461.95zM84.52 459.41L86.26 462.45L82.78 462.45zM88.22 459.93L89.96 462.98L86.48 462.98zM91.93 460.43L93.67 463.47L90.19 463.47zM95.64 461.39L97.38 464.43L93.9 464.43zM99.35 462.63L101.09 465.68L97.61 465.68zM103.06 463.88L104.8 466.93L101.32 466.93zM106.77 465.35L108.51 468.39L105.03 468.39zM110.47 467.3L112.21 470.35L108.73 470.35zM114.18 469.17L115.92 472.22L112.44 472.22zM117.89 471.02L119.63 474.06L116.15 474.06zM121.6 473.09L123.34 476.13L119.86 476.13zM125.31 474.86L127.05 477.9L123.57 477.9zM129.02 476.44L130.76 479.49L127.28 479.49zM132.72 475.61L134.47 478.65L130.98 478.65zM136.43 477.5L138.17 480.54L134.69 480.54zM140.14 479.31L141.88 482.36L138.4 482.36zM143.85 481.05L145.59 484.09L142.11 484.09zM147.56 483.11L149.3 486.16L145.82 486.16zM151.27 485.3L153.01 488.34L149.53 488.34zM154.97 487.5L156.72 490.54L153.23 490.54zM158.68 489.72L160.42 492.77L156.94 492.77zM162.39 491.72L164.13 494.77L160.65 494.77zM166.1 493.26L167.84 496.31L164.36 496.31zM169.81 494.6L171.55 497.64L168.07 497.64zM173.52 495.85L175.26 498.9L171.78 498.9zM177.22 496.98L178.97 500.02L175.48 500.02zM180.93 498L182.67 501.04L179.19 501.04zM184.64 498.86L186.38 501.9L182.9 501.9zM188.35 499.5L190.09 502.54L186.61 502.54zM192.06 500.07L193.8 503.12L190.32 503.12zM195.77 500.67L197.51 503.71L194.03 503.71zM199.47 501.26L201.22 504.31L197.73 504.31zM203.18 501.88L204.92 504.93L201.44 504.93zM206.89 502.45L208.63 505.49L205.15 505.49zM210.6 502.9L212.34 505.95L208.86 505.95zM214.31 503.36L216.05 506.41L212.57 506.41zM218.02 503.89L219.76 506.93L216.28 506.93zM221.72 504.43L223.47 507.48L219.98 507.48zM225.43 504.98L227.17 508.02L223.69 508.02zM229.14 505.71L230.88 508.76L227.4 508.76zM232.85 506.78L234.59 509.82L231.11 509.82zM236.56 508.12L238.3 511.17L234.82 511.17zM240.27 509.66L242.01 512.71L238.53 512.71zM243.97 511.52L245.72 514.57L242.23 514.57zM247.68 513.7L249.42 516.75L245.94 516.75zM251.39 516.19L253.13 519.24L249.65 519.24zM255.1 518.76L256.84 521.8L253.36 521.8z" fill="#1e5ef5"/>
<path d="M32.6 468.76L34.34 465.71L30.86 465.71zM36.31 466.34L38.05 463.29L34.57 463.29zM40.02 464.49L41.76 461.45L38.28 461.45zM43.73 462.83L45.47 459.78L41.98 459.78zM47.43 461.47L49.17 458.42L45.69 458.42zM51.14 460.35L52.88 457.3L49.4 457.3zM54.85 459.3L56.59 456.26L53.11 456.26zM58.56 458.78L60.3 455.74L56.82 455.74zM62.27 458.64L64.01 455.6L60.53 455.6zM65.97 458.53L67.71 455.48L64.23 455.48zM69.68 458.62L71.42 455.58L67.94 455.58zM73.39 458.9L75.13 455.85L71.65 455.85zM77.1 459.34L78.84 456.29L75.36 456.29zM80.81 459.78L82.55 456.74L79.07 456.74zM84.52 460.32L86.26 457.28L82.78 457.28zM88.22 460.93L89.96 457.88L86.48 457.88zM91.93 461.42L93.67 458.38L90.19 458.38zM95.64 462.49L97.38 459.44L93.9 459.44zM99.35 463.83L101.09 460.79L97.61 460.79zM103.06 465.03L104.8 461.98L101.32 461.98zM106.77 466.48L108.51 463.44L105.03 463.44zM110.47 468.71L112.21 465.67L108.73 465.67zM114.18 470.71L115.92 467.66L112.44 467.66zM117.89 472.68L119.63 469.63L116.15 469.63zM121.6 474.94L123.34 471.9L119.86 471.9zM125.31 476.82L127.05 473.78L123.57 473.78zM129.02 478.6L130.76 475.56L127.28 475.56zM132.72 480.68L134.47 477.64L130.98 477.64zM136.43 482.83L138.17 479.78L134.69 479.78zM140.14 484.88L141.88 481.83L138.4 481.83zM143.85 486.84L145.59 483.8L142.11 483.8zM147.56 488.86L149.3 485.81L145.82 485.81zM151.27 490.9L153.01 487.85L149.53 487.85zM154.97 492.9L156.72 489.86L153.23 489.86zM158.68 494.88L160.42 491.84L156.94 491.84zM162.39 496.67L164.13 493.62L160.65 493.62zM166.1 498.11L167.84 495.07L164.36 495.07zM169.81 499.38L171.55 496.33L168.07 496.33zM173.52 500.52L175.26 497.47L171.78 497.47zM177.22 501.54L178.97 498.5L175.48 498.5zM180.93 502.48L182.67 499.43L179.19 499.43zM184.64 503.28L186.38 500.24L182.9 500.24zM188.35 503.92L190.09 500.88L186.61 500.88zM192.06 504.49L193.8 501.45L190.32 501.45zM195.77 505.04L197.51 501.99L194.03 501.99zM199.47 505.58L201.22 502.53L197.73 502.53zM203.18 506.15L204.92 503.11L201.44 503.11zM206.89 506.7L208.63 503.65L205.15 503.65zM210.6 507.15L212.34 504.1L208.86 504.1zM214.31 507.61L216.05 504.57L212.57 504.57zM218.02 508.11L219.76 505.07L216.28 505.07zM221.72 508.68L223.47 505.64L219.98 505.64zM225.43 509.4L227.17 506.35L223.69 506.35zM229.14 510.29L230.88 507.25L227.4 507.25zM232.85 511.45L234.59 508.4L231.11 508.4zM236.56 512.86L238.3 509.81L234.82 509.81zM240.27 514.48L242.01 511.44L238.53 511.44zM243.97 516.68L245.72 513.64L242.23 513.64zM247.68 519.24L249.42 516.19L245.94 516.19zM251.39 522.04L253.13 518.99L249.65 518.99zM255.1 524.9L256.84 521.85L253.36 521.85z" fill="#2a9f5c"/>
<path d="M32.6 460.76L34.34 462.5L32.6 464.24L30.86 462.5zM36.31 457.89L38.05 459.63L36.31 461.37L34.57 459.63zM40.02 456.06L41.76 457.8L40.02 459.54L38.28 457.8zM43.73 454.76L45.47 456.5L43.73 458.24L41.98 456.5zM47.43 453.97L49.17 455.71L47.43 457.45L45.69 455.71zM51.14 453.16L52.88 454.9L51.14 456.64L49.4 454.9zM54.85 452.82L56.59 454.56L54.85 456.3L53.11 454.56zM58.56 452.65L60.3 454.39L58.56 456.13L56.82 454.39zM62.27 452.83L64.01 454.57L62.27 456.31L60.53 454.57zM65.97 453.22L67.71 454.96L65.97 456.7L64.23 454.96zM69.68 453.78L71.42 455.52L69.68 457.26L67.94 455.52zM73.39 454.47L75.13 456.21L73.39 457.95L71.65 456.21zM77.1 455.29L78.84 457.03L77.1 458.77L75.36 457.03zM80.81 456.09L82.55 457.83L80.81 459.57L79.07 457.83zM84.52 456.99L86.26 458.73L84.52 460.47L82.78 458.73zM88.22 457.93L89.96 459.67L88.22 461.41L86.48 459.67zM91.93 458.76L93.67 460.5L91.93 462.24L90.19 460.5zM95.64 460.11L97.38 461.85L95.64 463.59L93.9 461.85zM99.35 461.72L101.09 463.46L99.35 465.2L97.61 463.46zM103.06 463.01L104.8 464.75L103.06 466.49L101.32 464.75zM106.77 464.47L108.51 466.21L106.77 467.95L105.03 466.21zM110.47 466.53L112.21 468.27L110.47 470.01L108.73 468.27zM114.18 468.45L115.92 470.19L114.18 471.93L112.44 470.19zM117.89 470.34L119.63 472.08L117.89 473.82L116.15 472.08zM121.6 472.48L123.34 474.22L121.6 475.96L119.86 474.22zM125.31 474.29L127.05 476.03L125.31 477.77L123.57 476.03zM129.02 475.95L130.76 477.69L129.02 479.43L127.28 477.69zM132.72 477.43L134.47 479.17L132.72 480.91L130.98 479.17zM136.43 479.61L138.17 481.35L136.43 483.09L134.69 481.35zM140.14 481.7L141.88 483.44L140.14 485.18L138.4 483.44zM143.85 483.69L145.59 485.43L143.85 487.17L142.11 485.43zM147.56 485.7L149.3 487.44L147.56 489.18L145.82 487.44zM151.27 487.72L153.01 489.46L151.27 491.2L149.53 489.46zM154.97 489.7L156.72 491.44L154.97 493.18L153.23 491.44zM158.68 491.64L160.42 493.38L158.68 495.12L156.94 493.38zM162.39 493.4L164.13 495.14L162.39 496.88L160.65 495.14zM166.1 494.83L167.84 496.57L166.1 498.31L164.36 496.57zM169.81 496.08L171.55 497.82L169.81 499.56L168.07 497.82zM173.52 497.21L175.26 498.95L173.52 500.69L171.78 498.95zM177.22 498.22L178.97 499.96L177.22 501.7L175.48 499.96zM180.93 499.14L182.67 500.88L180.93 502.62L179.19 500.88zM184.64 499.94L186.38 501.68L184.64 503.42L182.9 501.68zM188.35 500.58L190.09 502.32L188.35 504.06L186.61 502.32zM192.06 501.15L193.8 502.89L192.06 504.63L190.32 502.89zM195.77 501.68L197.51 503.42L195.77 505.16L194.03 503.42zM199.47 502.22L201.22 503.96L199.47 505.7L197.73 503.96zM203.18 502.79L204.92 504.53L203.18 506.27L201.44 504.53zM206.89 503.33L208.63 505.07L206.89 506.81L205.15 505.07zM210.6 503.77L212.34 505.51L210.6 507.25L208.86 505.51zM214.31 504.24L216.05 505.98L214.31 507.72L212.57 505.98zM218.02 504.7L219.76 506.44L218.02 508.18L216.28 506.44zM221.72 505.23L223.47 506.97L221.72 508.71L219.98 506.97zM225.43 505.87L227.17 507.61L225.43 509.35L223.69 507.61zM229.14 506.67L230.88 508.41L229.14 510.15L227.4 508.41zM232.85 507.69L234.59 509.43L232.85 511.17L231.11 509.43zM236.56 508.93L238.3 510.67L236.56 512.41L234.82 510.67zM240.27 510.33L242.01 512.07L240.27 513.81L238.53 512.07zM243.97 512.36L245.72 514.1L243.97 515.84L242.23 514.1zM247.68 514.73L249.42 516.47L247.68 518.21L245.94 516.47zM251.39 517.38L253.13 519.12L251.39 520.86L249.65 519.12zM255.1 520.09L256.84 521.83L255.1 523.57L253.36 521.83z" fill="#a55cf0"/>
<path d="M30.86 465.89L33.91 464.15L33.91 467.63zM34.57 463.36L37.61 461.62L37.61 465.1zM38.28 461.52L41.32 459.78L41.32 463.26zM41.98 459.79L45.03 458.05L45.03 461.53zM45.69 458.44L48.74 456.7L48.74 460.18zM49.4 457.27L52.45 455.53L52.45 459.01zM53.11 456.33L56.16 454.59L56.16 458.07zM56.82 455.81L59.86 454.07L59.86 457.55zM60.53 455.68L63.57 453.94L63.57 457.42zM64.23 455.69L67.28 453.95L67.28 457.43zM67.94 455.84L70.99 454.1L70.99 457.58zM71.65 456.15L74.7 454.41L74.7 457.89zM75.36 456.62L78.41 454.88L78.41 458.36zM79.07 457.07L82.11 455.33L82.11 458.81zM82.78 457.62L85.82 455.88L85.82 459.36zM86.48 458.25L89.53 456.51L89.53 459.99zM90.19 458.75L93.24 457.01L93.24 460.49zM93.9 459.85L96.95 458.11L96.95 461.59zM97.61 461.24L100.66 459.5L100.66 462.98zM101.32 462.41L104.36 460.67L104.36 464.15zM105.03 463.86L108.07 462.12L108.07 465.6zM108.73 466.2L111.78 464.46L111.78 467.94zM112.44 468.24L115.49 466.5L115.49 469.98zM116.15 470.25L119.2 468.51L119.2 471.99zM119.86 472.59L122.91 470.85L122.91 474.33zM123.57 474.52L126.61 472.78L126.61 476.26zM127.28 476.37L130.32 474.63L130.32 478.11zM130.98 480.31L134.03 478.57L134.03 482.05zM134.69 482.67L137.74 480.93L137.74 484.41zM138.4 484.93L141.45 483.19L141.45 486.67zM142.11 487.09L145.16 485.35L145.16 488.83zM145.82 489.06L148.86 487.32L148.86 490.8zM149.53 490.98L152.57 489.24L152.57 492.72zM153.23 492.81L156.28 491.07L156.28 494.55zM156.94 494.58L159.99 492.84L159.99 496.32zM160.65 496.19L163.7 494.45L163.7 497.93zM164.36 497.55L167.41 495.81L167.41 499.29zM168.07 498.75L171.11 497.01L171.11 500.49zM171.78 499.8L174.82 498.06L174.82 501.54zM175.48 500.73L178.53 498.99L178.53 502.47zM179.19 501.59L182.24 499.85L182.24 503.33zM182.9 502.35L185.95 500.61L185.95 504.09zM186.61 502.99L189.66 501.25L189.66 504.73zM190.32 503.56L193.36 501.82L193.36 505.3zM194.03 504.06L197.07 502.32L197.07 505.8zM197.73 504.55L200.78 502.81L200.78 506.29zM201.44 505.09L204.49 503.35L204.49 506.83zM205.15 505.61L208.2 503.87L208.2 507.35zM208.86 506.06L211.91 504.32L211.91 507.8zM212.57 506.53L215.61 504.79L215.61 508.27zM216.28 507.06L219.32 505.32L219.32 508.8zM219.98 507.72L223.03 505.98L223.03 509.46zM223.69 508.7L226.74 506.96L226.74 510.44zM227.4 509.92L230.45 508.18L230.45 511.66zM231.11 511.35L234.16 509.61L234.16 513.09zM234.82 513.06L237.86 511.32L237.86 514.8zM238.53 515.08L241.57 513.34L241.57 516.82zM242.23 517.88L245.28 516.14L245.28 519.62zM245.94 521.1L248.99 519.36L248.99 522.84zM249.65 524.44L252.7 522.7L252.7 526.18zM253.36 527.81L256.4 526.07L256.4 529.55z" fill="#dc9a0a"/>
<path d="M34.34 464.76L31.3 463.02L31.3 466.5zM38.05 462.12L35 460.38L35 463.86zM41.76 460.27L38.71 458.53L38.71 462.01zM45.47 458.23L42.42 456.49L42.42 459.97zM49.17 456.67L46.13 454.93L46.13 458.41zM52.88 455.22L49.84 453.48L49.84 456.96zM56.59 454.29L53.55 452.55L53.55 456.03zM60.3 453.62L57.25 451.88L57.25 455.36zM64.01 453.35L60.96 451.61L60.96 455.09zM67.71 453.51L64.67 451.77L64.67 455.25zM71.42 453.82L68.38 452.08L68.38 455.56zM75.13 454.28L72.09 452.54L72.09 456.02zM78.84 454.88L75.79 453.14L75.79 456.62zM82.55 455.4L79.5 453.66L79.5 457.14zM86.26 456.05L83.21 454.31L83.21 457.79zM89.96 456.8L86.92 455.06L86.92 458.54zM93.67 457.37L90.63 455.63L90.63 459.11zM97.38 458.58L94.34 456.84L94.34 460.32zM101.09 460.09L98.04 458.35L98.04 461.83zM104.8 461.25L101.75 459.51L101.75 462.99zM108.51 462.69L105.46 460.95L105.46 464.43zM112.21 465.17L109.17 463.43L109.17 466.91zM115.92 467.27L112.88 465.53L112.88 469.01zM119.63 469.34L116.59 467.6L116.59 471.08zM123.34 471.78L120.29 470.04L120.29 473.52zM127.05 473.76L124 472.02L124 475.5zM130.76 475.71L127.71 473.97L127.71 477.45zM134.47 481.45L131.42 479.71L131.42 483.19zM138.17 483.99L135.13 482.25L135.13 485.73zM141.88 486.42L138.84 484.68L138.84 488.16zM145.59 488.74L142.54 487L142.54 490.48zM149.3 490.68L146.25 488.94L146.25 492.42zM153.01 492.49L149.96 490.75L149.96 494.23zM156.72 494.19L153.67 492.45L153.67 495.93zM160.42 495.78L157.38 494.04L157.38 497.52zM164.13 497.23L161.09 495.49L161.09 498.97zM167.84 498.53L164.79 496.79L164.79 500.27zM171.55 499.67L168.5 497.93L168.5 501.41zM175.26 500.64L172.21 498.9L172.21 502.38zM178.97 501.51L175.92 499.77L175.92 503.25zM182.67 502.31L179.63 500.57L179.63 504.05zM186.38 503.03L183.34 501.29L183.34 504.77zM190.09 503.67L187.04 501.93L187.04 505.41zM193.8 504.24L190.75 502.5L190.75 505.98zM197.51 504.7L194.46 502.96L194.46 506.44zM201.22 505.15L198.17 503.41L198.17 506.89zM204.92 505.66L201.88 503.92L201.88 507.4zM208.63 506.16L205.59 504.42L205.59 507.9zM212.34 506.6L209.29 504.86L209.29 508.34zM216.05 507.09L213 505.35L213 508.83zM219.76 507.63L216.71 505.89L216.71 509.37zM223.47 508.37L220.42 506.63L220.42 510.11zM227.17 509.58L224.13 507.84L224.13 511.32zM230.88 511.07L227.84 509.33L227.84 512.81zM234.59 512.75L231.54 511.01L231.54 514.49zM238.3 514.72L235.25 512.98L235.25 516.46zM242.01 517.09L238.96 515.35L238.96 518.83zM245.72 520.4L242.67 518.66L242.67 522.14zM249.42 524.18L246.38 522.44L246.38 525.92zM253.13 527.99L250.09 526.25L250.09 529.73zM256.84 531.8L253.79 530.06L253.79 533.54z" fill="#12d2d6"/>
<path d="M32.6 427H255.1" stroke="#333" stroke-width="0.9" fill="none"/>
<path d="M32.6 426.5v2M43.76 426.7v1.3M50.29 426.7v1.3M54.93 426.7v1.3M58.52 426.7v1.3M61.46 426.7v1.3M63.94 426.7v1.3M66.09 426.7v1.3M67.99 426.7v1.3M69.68 426.5v2M80.85 426.7v1.3M87.38 426.7v1.3M92.01 426.7v1.3M95.6 426.7v1.3M98.54 426.7v1.3M101.02 426.7v1.3M103.17 426.7v1.3M105.07 426.7v1.3M106.77 426.5v2M117.93 426.7v1.3M124.46 426.7v1.3M129.09 426.7v1.3M132.69 426.7v1.3M135.62 426.7v1.3M138.11 426.7v1.3M140.26 426.7v1.3M142.15 426.7v1.3M143.85 426.5v2M155.01 426.7v1.3M161.54 426.7v1.3M166.18 426.7v1.3M169.77 426.7v1.3M172.71 426.7v1.3M175.19 426.7v1.3M177.34 426.7v1.3M179.24 426.7v1.3M180.93 426.5v2M192.1 426.7v1.3M198.63 426.7v1.3M203.26 426.7v1.3M206.85 426.7v1.3M209.79 426.7v1.3M212.27 426.7v1.3M214.42 426.7v1.3M216.32 426.7v1.3M218.02 426.5v2M229.18 426.7v1.3M235.71 426.7v1.3M240.34 426.7v1.3M243.94 426.7v1.3M246.87 426.7v1.3M249.36 426.7v1.3M251.51 426.7v1.3M253.4 426.7v1.3M255.1 426.5v2" stroke="#333" stroke-width="0.7" fill="none"/>
<text class="tk" x="33.2" y="435.5" font-size="4.9" text-anchor="middle">10<tspan font-size="3.82" dy="-1.5">0</tspan></text>
<text class="tk" x="70.28" y="435.5" font-size="4.9" text-anchor="middle">10<tspan font-size="3.82" dy="-1.5">1</tspan></text>
<text class="tk" x="107.37" y="435.5" font-size="4.9" text-anchor="middle">10<tspan font-size="3.82" dy="-1.5">2</tspan></text>
<text class="tk" x="144.45" y="435.5" font-size="4.9" text-anchor="middle">10<tspan font-size="3.82" dy="-1.5">3</tspan></text>
<text class="tk" x="181.53" y="435.5" font-size="4.9" text-anchor="middle">10<tspan font-size="3.82" dy="-1.5">4</tspan></text>
<text class="tk" x="218.62" y="435.5" font-size="4.9" text-anchor="middle">10<tspan font-size="3.82" dy="-1.5">5</tspan></text>
<text class="tk" x="255.7" y="435.5" font-size="4.9" text-anchor="middle">10<tspan font-size="3.82" dy="-1.5">6</tspan></text>
<path d="M32.6 317V427" stroke="#333" stroke-width="0.9" fill="none"/>
<path d="M33 427h-3M32.9 410.44h-1.3M32.9 400.76h-1.3M32.9 393.89h-1.3M32.9 388.56h-1.3M32.9 384.2h-1.3M32.9 380.52h-1.3M32.9 377.33h-1.3M32.9 374.52h-1.3M33 372h-3M32.9 355.44h-1.3M32.9 345.76h-1.3M32.9 338.89h-1.3M32.9 333.56h-1.3M32.9 329.2h-1.3M32.9 325.52h-1.3M32.9 322.33h-1.3M32.9 319.52h-1.3M33 317h-3" stroke="#333" stroke-width="0.7" fill="none"/>
<text class="tk" x="28" y="429.31" font-size="4.9" text-anchor="end">10<tspan font-size="3.43" dy="-1.3">2</tspan></text>
<text class="tk" x="28" y="374.31" font-size="4.9" text-anchor="end">10<tspan font-size="3.43" dy="-1.3">3</tspan></text>
<text class="tk" x="28" y="319.31" font-size="4.9" text-anchor="end">10<tspan font-size="3.43" dy="-1.3">4</tspan></text>
<path d="M32.6 542.5H255.1" stroke="#333" stroke-width="0.9" fill="none"/>
<path d="M32.6 542v2M43.76 542.2v1.3M50.29 542.2v1.3M54.93 542.2v1.3M58.52 542.2v1.3M61.46 542.2v1.3M63.94 542.2v1.3M66.09 542.2v1.3M67.99 542.2v1.3M69.68 542v2M80.85 542.2v1.3M87.38 542.2v1.3M92.01 542.2v1.3M95.6 542.2v1.3M98.54 542.2v1.3M101.02 542.2v1.3M103.17 542.2v1.3M105.07 542.2v1.3M106.77 542v2M117.93 542.2v1.3M124.46 542.2v1.3M129.09 542.2v1.3M132.69 542.2v1.3M135.62 542.2v1.3M138.11 542.2v1.3M140.26 542.2v1.3M142.15 542.2v1.3M143.85 542v2M155.01 542.2v1.3M161.54 542.2v1.3M166.18 542.2v1.3M169.77 542.2v1.3M172.71 542.2v1.3M175.19 542.2v1.3M177.34 542.2v1.3M179.24 542.2v1.3M180.93 542v2M192.1 542.2v1.3M198.63 542.2v1.3M203.26 542.2v1.3M206.85 542.2v1.3M209.79 542.2v1.3M212.27 542.2v1.3M214.42 542.2v1.3M216.32 542.2v1.3M218.02 542v2M229.18 542.2v1.3M235.71 542.2v1.3M240.34 542.2v1.3M243.94 542.2v1.3M246.87 542.2v1.3M249.36 542.2v1.3M251.51 542.2v1.3M253.4 542.2v1.3M255.1 542v2" stroke="#333" stroke-width="0.7" fill="none"/>
<text class="tk" x="33.2" y="551" font-size="4.9" text-anchor="middle">10<tspan font-size="3.82" dy="-1.5">0</tspan></text>
<text class="tk" x="70.28" y="551" font-size="4.9" text-anchor="middle">10<tspan font-size="3.82" dy="-1.5">1</tspan></text>
<text class="tk" x="107.37" y="551" font-size="4.9" text-anchor="middle">10<tspan font-size="3.82" dy="-1.5">2</tspan></text>
<text class="tk" x="144.45" y="551" font-size="4.9" text-anchor="middle">10<tspan font-size="3.82" dy="-1.5">3</tspan></text>
<text class="tk" x="181.53" y="551" font-size="4.9" text-anchor="middle">10<tspan font-size="3.82" dy="-1.5">4</tspan></text>
<text class="tk" x="218.62" y="551" font-size="4.9" text-anchor="middle">10<tspan font-size="3.82" dy="-1.5">5</tspan></text>
<text class="tk" x="255.7" y="551" font-size="4.9" text-anchor="middle">10<tspan font-size="3.82" dy="-1.5">6</tspan></text>
<path d="M32.6 441.3V542.5" stroke="#333" stroke-width="0.9" fill="none"/>
<path d="M33 441.3h-3M32.9 449.05h-1.3M33 456.8h-3M32.9 464.55h-1.3M33 472.3h-3M32.9 480.05h-1.3M33 487.8h-3M32.9 495.55h-1.3M33 503.3h-3M32.9 511.05h-1.3M33 518.8h-3M32.9 526.55h-1.3M33 534.3h-3" stroke="#333" stroke-width="0.7" fill="none"/>
<text class="tk" x="28" y="443.05" font-size="5" text-anchor="end">-80</text>
<text class="tk" x="28" y="458.55" font-size="5" text-anchor="end">-60</text>
<text class="tk" x="28" y="474.05" font-size="5" text-anchor="end">-40</text>
<text class="tk" x="28" y="489.55" font-size="5" text-anchor="end">-20</text>
<text class="tk" x="28" y="505.05" font-size="5" text-anchor="end">0</text>
<text class="tk" x="28" y="520.55" font-size="5" text-anchor="end">20</text>
<text class="tk" x="28" y="536.05" font-size="5" text-anchor="end">40</text>
<text class="ti" font-size="6.6" text-anchor="middle" transform="translate(9.58 368.3) rotate(-90)">|Z| [ohm]</text>
<text class="ti" font-size="6.6" text-anchor="middle" transform="translate(9.88 488.6) rotate(-90)">Theta [degree]</text>
<text class="fq" x="150.4" y="565" font-size="6.7" text-anchor="middle">Frequency [Hz]</text>
<text class="cp" x="129.9" y="586.8" font-size="8.4" text-anchor="middle">(b)</text>
<rect x="214.3" y="310" width="59" height="58.8" fill="#fff" stroke="#777" stroke-width="0.8"/>
<path d="M221.4 313.7h3.2v3.2h-3.2z" fill="#111111"/>
<path d="M221.32 323.53a1.68 1.68 0 1 0 3.36 0a1.68 1.68 0 1 0 -3.36 0z" fill="#f41c24"/>
<path d="M223 329.84L224.92 333.2L221.08 333.2z" fill="#1e5ef5"/>
<path d="M223 341.91L224.92 338.55L221.08 338.55z" fill="#2a9f5c"/>
<path d="M223 346.3L224.92 348.22L223 350.14L221.08 348.22z" fill="#a55cf0"/>
<path d="M221.08 356.45L224.44 354.53L224.44 358.37z" fill="#dc9a0a"/>
<path d="M224.92 364.68L221.56 362.76L221.56 366.6z" fill="#12d2d6"/>
<text class="lg" x="232.7" y="317.61" font-size="6.6">first cycle</text>
<text class="lg" x="232.7" y="325.84" font-size="6.6">second cycle</text>
<text class="lg" x="232.7" y="334.07" font-size="6.6">third cycle</text>
<text class="lg" x="232.7" y="342.3" font-size="6.6">fourth cycle</text>
<text class="lg" x="232.7" y="350.53" font-size="6.6">fifth cycle</text>
<text class="lg" x="232.7" y="358.76" font-size="6.6">sixth cycle</text>
<text class="lg" x="232.7" y="366.99" font-size="6.6">seventh cycle</text>
<path d="M329.03 304.73h1.74v1.74h-1.74zM332.83 308.32h1.74v1.74h-1.74zM336.63 311.32h1.74v1.74h-1.74zM340.42 313.68h1.74v1.74h-1.74zM344.22 316.48h1.74v1.74h-1.74zM348.02 320.02h1.74v1.74h-1.74zM351.82 323.36h1.74v1.74h-1.74zM355.62 326.86h1.74v1.74h-1.74zM359.42 330.92h1.74v1.74h-1.74zM363.21 335.17h1.74v1.74h-1.74zM367.01 339.3h1.74v1.74h-1.74zM370.81 343.48h1.74v1.74h-1.74zM374.61 347.86h1.74v1.74h-1.74zM378.41 352.21h1.74v1.74h-1.74zM382.21 356.47h1.74v1.74h-1.74zM386 360.44h1.74v1.74h-1.74zM389.8 363.98h1.74v1.74h-1.74zM393.6 367.21h1.74v1.74h-1.74zM397.4 370.18h1.74v1.74h-1.74zM401.2 372.92h1.74v1.74h-1.74zM405 375.46h1.74v1.74h-1.74zM408.79 377.83h1.74v1.74h-1.74zM412.59 380.08h1.74v1.74h-1.74zM416.39 382.11h1.74v1.74h-1.74zM420.19 383.81h1.74v1.74h-1.74zM423.99 385.47h1.74v1.74h-1.74zM427.79 387.28h1.74v1.74h-1.74zM431.58 389.13h1.74v1.74h-1.74zM435.38 391.06h1.74v1.74h-1.74zM439.18 392.89h1.74v1.74h-1.74zM442.98 394.46h1.74v1.74h-1.74zM446.78 395.9h1.74v1.74h-1.74zM450.58 397.32h1.74v1.74h-1.74zM454.37 398.42h1.74v1.74h-1.74zM458.17 399.14h1.74v1.74h-1.74zM461.97 399.65h1.74v1.74h-1.74zM465.77 400.05h1.74v1.74h-1.74zM469.57 400.37h1.74v1.74h-1.74zM473.37 400.48h1.74v1.74h-1.74zM477.16 400.48h1.74v1.74h-1.74zM480.96 400.47h1.74v1.74h-1.74zM484.76 400.47h1.74v1.74h-1.74zM488.56 400.46h1.74v1.74h-1.74zM492.36 400.45h1.74v1.74h-1.74zM496.16 400.44h1.74v1.74h-1.74zM499.95 400.42h1.74v1.74h-1.74zM503.75 400.4h1.74v1.74h-1.74zM507.55 400.38h1.74v1.74h-1.74zM511.35 400.35h1.74v1.74h-1.74zM515.15 400.32h1.74v1.74h-1.74zM518.95 400.29h1.74v1.74h-1.74zM522.75 400.25h1.74v1.74h-1.74zM526.54 400.21h1.74v1.74h-1.74zM530.34 400.17h1.74v1.74h-1.74zM534.14 400.01h1.74v1.74h-1.74zM537.94 399.75h1.74v1.74h-1.74zM541.74 399.44h1.74v1.74h-1.74zM545.53 398.84h1.74v1.74h-1.74zM549.33 397.97h1.74v1.74h-1.74zM553.13 396.68h1.74v1.74h-1.74zM556.93 394.77h1.74v1.74h-1.74z" fill="#111111"/>
<path d="M328.38 305.6a1.52 1.52 0 1 0 3.04 0a1.52 1.52 0 1 0 -3.04 0zM332.18 309.19a1.52 1.52 0 1 0 3.04 0a1.52 1.52 0 1 0 -3.04 0zM335.97 312.39a1.52 1.52 0 1 0 3.04 0a1.52 1.52 0 1 0 -3.04 0zM339.77 315.31a1.52 1.52 0 1 0 3.04 0a1.52 1.52 0 1 0 -3.04 0zM343.57 318.56a1.52 1.52 0 1 0 3.04 0a1.52 1.52 0 1 0 -3.04 0zM347.37 322.15a1.52 1.52 0 1 0 3.04 0a1.52 1.52 0 1 0 -3.04 0zM351.17 325.56a1.52 1.52 0 1 0 3.04 0a1.52 1.52 0 1 0 -3.04 0zM354.97 329.11a1.52 1.52 0 1 0 3.04 0a1.52 1.52 0 1 0 -3.04 0zM358.76 333.18a1.52 1.52 0 1 0 3.04 0a1.52 1.52 0 1 0 -3.04 0zM362.56 337.45a1.52 1.52 0 1 0 3.04 0a1.52 1.52 0 1 0 -3.04 0zM366.36 341.64a1.52 1.52 0 1 0 3.04 0a1.52 1.52 0 1 0 -3.04 0zM370.16 345.89a1.52 1.52 0 1 0 3.04 0a1.52 1.52 0 1 0 -3.04 0zM373.96 350.31a1.52 1.52 0 1 0 3.04 0a1.52 1.52 0 1 0 -3.04 0zM377.76 354.69a1.52 1.52 0 1 0 3.04 0a1.52 1.52 0 1 0 -3.04 0zM381.55 358.94a1.52 1.52 0 1 0 3.04 0a1.52 1.52 0 1 0 -3.04 0zM385.35 362.92a1.52 1.52 0 1 0 3.04 0a1.52 1.52 0 1 0 -3.04 0zM389.15 366.51a1.52 1.52 0 1 0 3.04 0a1.52 1.52 0 1 0 -3.04 0zM392.95 369.82a1.52 1.52 0 1 0 3.04 0a1.52 1.52 0 1 0 -3.04 0zM396.75 372.85a1.52 1.52 0 1 0 3.04 0a1.52 1.52 0 1 0 -3.04 0zM400.55 375.67a1.52 1.52 0 1 0 3.04 0a1.52 1.52 0 1 0 -3.04 0zM404.34 378.29a1.52 1.52 0 1 0 3.04 0a1.52 1.52 0 1 0 -3.04 0zM408.14 380.77a1.52 1.52 0 1 0 3.04 0a1.52 1.52 0 1 0 -3.04 0zM411.94 383.21a1.52 1.52 0 1 0 3.04 0a1.52 1.52 0 1 0 -3.04 0zM415.74 385.4a1.52 1.52 0 1 0 3.04 0a1.52 1.52 0 1 0 -3.04 0zM419.54 387.21a1.52 1.52 0 1 0 3.04 0a1.52 1.52 0 1 0 -3.04 0zM423.34 388.96a1.52 1.52 0 1 0 3.04 0a1.52 1.52 0 1 0 -3.04 0zM427.13 390.81a1.52 1.52 0 1 0 3.04 0a1.52 1.52 0 1 0 -3.04 0zM430.93 392.66a1.52 1.52 0 1 0 3.04 0a1.52 1.52 0 1 0 -3.04 0zM434.73 394.54a1.52 1.52 0 1 0 3.04 0a1.52 1.52 0 1 0 -3.04 0zM438.53 396.31a1.52 1.52 0 1 0 3.04 0a1.52 1.52 0 1 0 -3.04 0zM442.33 397.87a1.52 1.52 0 1 0 3.04 0a1.52 1.52 0 1 0 -3.04 0zM446.13 399.24a1.52 1.52 0 1 0 3.04 0a1.52 1.52 0 1 0 -3.04 0zM449.92 400.51a1.52 1.52 0 1 0 3.04 0a1.52 1.52 0 1 0 -3.04 0zM453.72 401.49a1.52 1.52 0 1 0 3.04 0a1.52 1.52 0 1 0 -3.04 0zM457.52 402.15a1.52 1.52 0 1 0 3.04 0a1.52 1.52 0 1 0 -3.04 0zM461.32 402.6a1.52 1.52 0 1 0 3.04 0a1.52 1.52 0 1 0 -3.04 0zM465.12 402.95a1.52 1.52 0 1 0 3.04 0a1.52 1.52 0 1 0 -3.04 0zM468.92 403.22a1.52 1.52 0 1 0 3.04 0a1.52 1.52 0 1 0 -3.04 0zM472.71 403.32a1.52 1.52 0 1 0 3.04 0a1.52 1.52 0 1 0 -3.04 0zM476.51 403.32a1.52 1.52 0 1 0 3.04 0a1.52 1.52 0 1 0 -3.04 0zM480.31 403.31a1.52 1.52 0 1 0 3.04 0a1.52 1.52 0 1 0 -3.04 0zM484.11 403.31a1.52 1.52 0 1 0 3.04 0a1.52 1.52 0 1 0 -3.04 0zM487.91 403.3a1.52 1.52 0 1 0 3.04 0a1.52 1.52 0 1 0 -3.04 0zM491.71 403.29a1.52 1.52 0 1 0 3.04 0a1.52 1.52 0 1 0 -3.04 0zM495.5 403.27a1.52 1.52 0 1 0 3.04 0a1.52 1.52 0 1 0 -3.04 0zM499.3 403.25a1.52 1.52 0 1 0 3.04 0a1.52 1.52 0 1 0 -3.04 0zM503.1 403.23a1.52 1.52 0 1 0 3.04 0a1.52 1.52 0 1 0 -3.04 0zM506.9 403.2a1.52 1.52 0 1 0 3.04 0a1.52 1.52 0 1 0 -3.04 0zM510.7 403.17a1.52 1.52 0 1 0 3.04 0a1.52 1.52 0 1 0 -3.04 0zM514.5 403.14a1.52 1.52 0 1 0 3.04 0a1.52 1.52 0 1 0 -3.04 0zM518.29 403.1a1.52 1.52 0 1 0 3.04 0a1.52 1.52 0 1 0 -3.04 0zM522.09 403.06a1.52 1.52 0 1 0 3.04 0a1.52 1.52 0 1 0 -3.04 0zM525.89 403.01a1.52 1.52 0 1 0 3.04 0a1.52 1.52 0 1 0 -3.04 0zM529.69 402.96a1.52 1.52 0 1 0 3.04 0a1.52 1.52 0 1 0 -3.04 0zM533.49 402.78a1.52 1.52 0 1 0 3.04 0a1.52 1.52 0 1 0 -3.04 0zM537.29 402.5a1.52 1.52 0 1 0 3.04 0a1.52 1.52 0 1 0 -3.04 0zM541.08 402.15a1.52 1.52 0 1 0 3.04 0a1.52 1.52 0 1 0 -3.04 0zM544.88 401.48a1.52 1.52 0 1 0 3.04 0a1.52 1.52 0 1 0 -3.04 0zM548.68 400.48a1.52 1.52 0 1 0 3.04 0a1.52 1.52 0 1 0 -3.04 0zM552.48 399.07a1.52 1.52 0 1 0 3.04 0a1.52 1.52 0 1 0 -3.04 0zM556.28 397a1.52 1.52 0 1 0 3.04 0a1.52 1.52 0 1 0 -3.04 0z" fill="#f41c24"/>
<path d="M329.9 303.86L331.64 306.91L328.16 306.91zM333.7 307.45L335.44 310.5L331.96 310.5zM337.5 310.4L339.24 313.45L335.76 313.45zM341.29 312.62L343.03 315.66L339.55 315.66zM345.09 315.3L346.83 318.35L343.35 318.35zM348.89 318.83L350.63 321.88L347.15 321.88zM352.69 322.15L354.43 325.2L350.95 325.2zM356.49 325.65L358.23 328.69L354.75 328.69zM360.29 329.71L362.03 332.75L358.55 332.75zM364.08 333.95L365.82 337L362.34 337zM367.88 338.07L369.62 341.12L366.14 341.12zM371.68 342.25L373.42 345.3L369.94 345.3zM375.48 346.63L377.22 349.67L373.74 349.67zM379.28 350.98L381.02 354.03L377.54 354.03zM383.08 355.25L384.82 358.3L381.34 358.3zM386.88 359.23L388.62 362.27L385.13 362.27zM390.67 362.76L392.41 365.8L388.93 365.8zM394.47 365.98L396.21 369.03L392.73 369.03zM398.27 368.94L400.01 371.99L396.53 371.99zM402.07 371.68L403.81 374.72L400.33 374.72zM405.87 374.21L407.61 377.25L404.13 377.25zM409.66 376.56L411.4 379.6L407.92 379.6zM413.46 378.78L415.2 381.83L411.72 381.83zM417.26 380.79L419 383.83L415.52 383.83zM421.06 382.48L422.8 385.52L419.32 385.52zM424.86 384.13L426.6 387.18L423.12 387.18zM428.66 385.93L430.4 388.98L426.92 388.98zM432.45 387.79L434.19 390.83L430.71 390.83zM436.25 389.73L437.99 392.78L434.51 392.78zM440.05 391.57L441.79 394.62L438.31 394.62zM443.85 393.15L445.59 396.19L442.11 396.19zM447.65 394.59L449.39 397.64L445.91 397.64zM451.45 396.04L453.19 399.08L449.71 399.08zM455.24 397.16L456.98 400.21L453.5 400.21zM459.04 397.9L460.78 400.94L457.3 400.94zM462.84 398.41L464.58 401.45L461.1 401.45zM466.64 398.82L468.38 401.87L464.9 401.87zM470.44 399.14L472.18 402.19L468.7 402.19zM474.24 399.26L475.98 402.3L472.5 402.3zM478.03 399.26L479.77 402.3L476.29 402.3zM481.83 399.26L483.57 402.3L480.09 402.3zM485.63 399.25L487.37 402.3L483.89 402.3zM489.43 399.24L491.17 402.29L487.69 402.29zM493.23 399.23L494.97 402.28L491.49 402.28zM497.03 399.22L498.77 402.26L495.29 402.26zM500.82 399.2L502.56 402.25L499.08 402.25zM504.62 399.19L506.36 402.23L502.88 402.23zM508.42 399.16L510.16 402.21L506.68 402.21zM512.22 399.14L513.96 402.18L510.48 402.18zM516.02 399.11L517.76 402.16L514.28 402.16zM519.82 399.08L521.56 402.12L518.08 402.12zM523.62 399.04L525.36 402.09L521.88 402.09zM527.41 399L529.15 402.05L525.67 402.05zM531.21 398.96L532.95 402L529.47 402zM535.01 398.8L536.75 401.84L533.27 401.84zM538.81 398.55L540.55 401.59L537.07 401.59zM542.61 398.25L544.35 401.29L540.87 401.29zM546.4 397.66L548.14 400.7L544.66 400.7zM550.2 396.81L551.94 399.85L548.46 399.85zM554 395.54L555.74 398.59L552.26 398.59zM557.8 393.66L559.54 396.7L556.06 396.7z" fill="#1e5ef5"/>
<path d="M329.9 308.14L331.64 305.1L328.16 305.1zM333.7 311.73L335.44 308.69L331.96 308.69zM337.5 315.08L339.24 312.04L335.76 312.04zM341.29 318.32L343.03 315.27L339.55 315.27zM345.09 321.81L346.83 318.76L343.35 318.76zM348.89 325.47L350.63 322.43L347.15 322.43zM352.69 328.96L354.43 325.91L350.95 325.91zM356.49 332.58L358.23 329.54L354.75 329.54zM360.29 336.65L362.03 333.61L358.55 333.61zM364.08 340.9L365.82 337.86L362.34 337.86zM367.88 345.12L369.62 342.07L366.14 342.07zM371.68 349.39L373.42 346.35L369.94 346.35zM375.48 353.81L377.22 350.76L373.74 350.76zM379.28 358.16L381.02 355.11L377.54 355.11zM383.08 362.35L384.82 359.31L381.34 359.31zM386.88 366.29L388.62 363.25L385.13 363.25zM390.67 369.91L392.41 366.86L388.93 366.86zM394.47 373.24L396.21 370.2L392.73 370.2zM398.27 376.3L400.01 373.25L396.53 373.25zM402.07 379.14L403.81 376.09L400.33 376.09zM405.87 381.79L407.61 378.75L404.13 378.75zM409.66 384.32L411.4 381.28L407.92 381.28zM413.46 386.87L415.2 383.82L411.72 383.82zM417.26 389.15L419 386.11L415.52 386.11zM421.06 391L422.8 387.96L419.32 387.96zM424.86 392.76L426.6 389.72L423.12 389.72zM428.66 394.61L430.4 391.57L426.92 391.57zM432.45 396.44L434.19 393.4L430.71 393.4zM436.25 398.28L437.99 395.23L434.51 395.23zM440.05 400L441.79 396.95L438.31 396.95zM443.85 401.54L445.59 398.5L442.11 398.5zM447.65 402.87L449.39 399.82L445.91 399.82zM451.45 404.03L453.19 400.98L449.71 400.98zM455.24 404.91L456.98 401.87L453.5 401.87zM459.04 405.52L460.78 402.48L457.3 402.48zM462.84 405.94L464.58 402.89L461.1 402.89zM466.64 406.25L468.38 403.2L464.9 403.2zM470.44 406.48L472.18 403.44L468.7 403.44zM474.24 406.57L475.98 403.52L472.5 403.52zM478.03 406.57L479.77 403.52L476.29 403.52zM481.83 406.56L483.57 403.52L480.09 403.52zM485.63 406.55L487.37 403.51L483.89 403.51zM489.43 406.54L491.17 403.5L487.69 403.5zM493.23 406.53L494.97 403.49L491.49 403.49zM497.03 406.51L498.77 403.47L495.29 403.47zM500.82 406.49L502.56 403.45L499.08 403.45zM504.62 406.47L506.36 403.42L502.88 403.42zM508.42 406.44L510.16 403.39L506.68 403.39zM512.22 406.4L513.96 403.36L510.48 403.36zM516.02 406.37L517.76 403.32L514.28 403.32zM519.82 406.32L521.56 403.28L518.08 403.28zM523.62 406.28L525.36 403.23L521.88 403.23zM527.41 406.22L529.15 403.18L525.67 403.18zM531.21 406.17L532.95 403.12L529.47 403.12zM535.01 405.98L536.75 402.94L533.27 402.94zM538.81 405.69L540.55 402.64L537.07 402.64zM542.61 405.29L544.35 402.24L540.87 402.24zM546.4 404.57L548.14 401.53L544.66 401.53zM550.2 403.47L551.94 400.43L548.46 400.43zM554 401.97L555.74 398.92L552.26 398.92zM557.8 399.78L559.54 396.73L556.06 396.73z" fill="#2a9f5c"/>
<path d="M329.9 301.86L331.64 303.6L329.9 305.34L328.16 303.6zM333.7 305.45L335.44 307.19L333.7 308.93L331.96 307.19zM337.5 309.03L339.24 310.77L337.5 312.51L335.76 310.77zM341.29 313.39L343.03 315.13L341.29 316.87L339.55 315.13zM345.09 318.03L346.83 319.77L345.09 321.51L343.35 319.77zM348.89 322.43L350.63 324.17L348.89 325.91L347.15 324.17zM352.69 326.73L354.43 328.47L352.69 330.21L350.95 328.47zM356.49 331.22L358.23 332.96L356.49 334.7L354.75 332.96zM360.29 336.06L362.03 337.8L360.29 339.54L358.55 337.8zM364.08 340.33L365.82 342.07L364.08 343.81L362.34 342.07zM367.88 344.63L369.62 346.37L367.88 348.11L366.14 346.37zM371.68 348.99L373.42 350.73L371.68 352.47L369.94 350.73zM375.48 353.45L377.22 355.19L375.48 356.93L373.74 355.19zM379.28 357.81L381.02 359.55L379.28 361.29L377.54 359.55zM383.08 361.95L384.82 363.69L383.08 365.43L381.34 363.69zM386.88 365.87L388.62 367.61L386.88 369.35L385.13 367.61zM390.67 369.56L392.41 371.3L390.67 373.04L388.93 371.3zM394.47 373.01L396.21 374.75L394.47 376.49L392.73 374.75zM398.27 376.15L400.01 377.89L398.27 379.63L396.53 377.89zM402.07 379.09L403.81 380.83L402.07 382.57L400.33 380.83zM405.87 381.86L407.61 383.6L405.87 385.34L404.13 383.6zM409.66 384.55L411.4 386.29L409.66 388.03L407.92 386.29zM413.46 387.39L415.2 389.13L413.46 390.87L411.72 389.13zM417.26 389.93L419 391.67L417.26 393.41L415.52 391.67zM421.06 391.93L422.8 393.67L421.06 395.41L419.32 393.67zM424.86 393.79L426.6 395.53L424.86 397.27L423.12 395.53zM428.66 395.7L430.4 397.44L428.66 399.18L426.92 397.44zM432.45 397.51L434.19 399.25L432.45 400.99L430.71 399.25zM436.25 399.25L437.99 400.99L436.25 402.73L434.51 400.99zM440.05 400.86L441.79 402.6L440.05 404.34L438.31 402.6zM443.85 402.38L445.59 404.12L443.85 405.86L442.11 404.12zM447.65 403.6L449.39 405.34L447.65 407.08L445.91 405.34zM451.45 404.51L453.19 406.25L451.45 407.99L449.71 406.25zM455.24 405.19L456.98 406.93L455.24 408.67L453.5 406.93zM459.04 405.69L460.78 407.43L459.04 409.17L457.3 407.43zM462.84 406.01L464.58 407.75L462.84 409.49L461.1 407.75zM466.64 406.23L468.38 407.97L466.64 409.71L464.9 407.97zM470.44 406.39L472.18 408.13L470.44 409.87L468.7 408.13zM474.24 406.45L475.98 408.19L474.24 409.93L472.5 408.19zM478.03 406.45L479.77 408.19L478.03 409.93L476.29 408.19zM481.83 406.44L483.57 408.18L481.83 409.92L480.09 408.18zM485.63 406.44L487.37 408.18L485.63 409.92L483.89 408.18zM489.43 406.42L491.17 408.16L489.43 409.9L487.69 408.16zM493.23 406.4L494.97 408.14L493.23 409.88L491.49 408.14zM497.03 406.38L498.77 408.12L497.03 409.86L495.29 408.12zM500.82 406.36L502.56 408.1L500.82 409.84L499.08 408.1zM504.62 406.33L506.36 408.07L504.62 409.81L502.88 408.07zM508.42 406.29L510.16 408.03L508.42 409.77L506.68 408.03zM512.22 406.25L513.96 407.99L512.22 409.73L510.48 407.99zM516.02 406.2L517.76 407.94L516.02 409.68L514.28 407.94zM519.82 406.15L521.56 407.89L519.82 409.63L518.08 407.89zM523.62 406.1L525.36 407.84L523.62 409.58L521.88 407.84zM527.41 406.03L529.15 407.77L527.41 409.51L525.67 407.77zM531.21 405.96L532.95 407.7L531.21 409.44L529.47 407.7zM535.01 405.76L536.75 407.5L535.01 409.24L533.27 407.5zM538.81 405.42L540.55 407.16L538.81 408.9L537.07 407.16zM542.61 404.94L544.35 406.68L542.61 408.42L540.87 406.68zM546.4 404.11L548.14 405.85L546.4 407.59L544.66 405.85zM550.2 402.8L551.94 404.54L550.2 406.28L548.46 404.54zM554 401.08L555.74 402.82L554 404.56L552.26 402.82zM557.8 398.62L559.54 400.36L557.8 402.1L556.06 400.36z" fill="#a55cf0"/>
<path d="M328.16 305.6L331.2 303.86L331.2 307.34zM331.96 309.19L335 307.45L335 310.93zM335.76 312.88L338.8 311.14L338.8 314.62zM339.55 317.21L342.6 315.47L342.6 318.95zM343.35 321.61L346.4 319.87L346.4 323.35zM347.15 325.47L350.2 323.73L350.2 327.21zM350.95 329.18L354 327.44L354 330.92zM354.75 333.02L357.79 331.28L357.79 334.76zM358.55 337.23L361.59 335.49L361.59 338.97zM362.34 341.66L365.39 339.92L365.39 343.4zM366.14 346.11L369.19 344.37L369.19 347.85zM369.94 350.63L372.99 348.89L372.99 352.37zM373.74 355.25L376.78 353.51L376.78 356.99zM377.54 359.77L380.58 358.03L380.58 361.51zM381.34 364.07L384.38 362.33L384.38 365.81zM385.13 368.13L388.18 366.39L388.18 369.87zM388.93 372L391.98 370.26L391.98 373.74zM392.73 375.62L395.78 373.88L395.78 377.36zM396.53 378.95L399.57 377.21L399.57 380.69zM400.33 382.08L403.37 380.34L403.37 383.82zM404.13 385.06L407.17 383.32L407.17 386.8zM407.92 387.99L410.97 386.25L410.97 389.73zM411.72 391.14L414.77 389.4L414.77 392.88zM415.52 394L418.57 392.26L418.57 395.74zM419.32 396.27L422.36 394.53L422.36 398.01zM423.12 398.38L426.16 396.64L426.16 400.12zM426.92 400.52L429.96 398.78L429.96 402.26zM430.71 402.39L433.76 400.65L433.76 404.13zM434.51 404.05L437.56 402.31L437.56 405.79zM438.31 405.6L441.36 403.86L441.36 407.34zM442.11 407.1L445.15 405.36L445.15 408.84zM445.91 408.25L448.95 406.51L448.95 409.99zM449.71 408.98L452.75 407.24L452.75 410.72zM453.5 409.51L456.55 407.77L456.55 411.25zM457.3 409.94L460.35 408.2L460.35 411.68zM461.1 410.21L464.15 408.47L464.15 411.95zM464.9 410.36L467.94 408.62L467.94 412.1zM468.7 410.47L471.74 408.73L471.74 412.21zM472.5 410.51L475.54 408.77L475.54 412.25zM476.29 410.51L479.34 408.77L479.34 412.25zM480.09 410.5L483.14 408.76L483.14 412.24zM483.89 410.49L486.94 408.75L486.94 412.23zM487.69 410.48L490.73 408.74L490.73 412.22zM491.49 410.46L494.53 408.72L494.53 412.2zM495.29 410.43L498.33 408.69L498.33 412.17zM499.08 410.4L502.13 408.66L502.13 412.14zM502.88 410.37L505.93 408.63L505.93 412.11zM506.68 410.33L509.73 408.59L509.73 412.07zM510.48 410.28L513.52 408.54L513.52 412.02zM514.28 410.23L517.32 408.49L517.32 411.97zM518.08 410.17L521.12 408.43L521.12 411.91zM521.88 410.11L524.92 408.37L524.92 411.85zM525.67 410.04L528.72 408.3L528.72 411.78zM529.47 409.96L532.52 408.22L532.52 411.7zM533.27 409.75L536.31 408.01L536.31 411.49zM537.07 409.38L540.11 407.64L540.11 411.12zM540.87 408.84L543.91 407.1L543.91 410.58zM544.66 407.93L547.71 406.19L547.71 409.67zM548.46 406.47L551.51 404.73L551.51 408.21zM552.26 404.61L555.31 402.87L555.31 406.35zM556.06 401.96L559.1 400.22L559.1 403.7z" fill="#dc9a0a"/>
<path d="M331.64 311.6L328.59 309.86L328.59 313.34zM335.44 315.2L332.39 313.46L332.39 316.94zM339.24 319.11L336.19 317.37L336.19 320.85zM343.03 323.11L339.99 321.37L339.99 324.85zM346.83 327.12L343.79 325.38L343.79 328.86zM350.63 331.1L347.59 329.36L347.59 332.84zM354.43 334.97L351.38 333.23L351.38 336.71zM358.23 338.9L355.18 337.16L355.18 340.64zM362.03 342.99L358.98 341.25L358.98 344.73zM365.82 347.2L362.78 345.46L362.78 348.94zM369.62 351.57L366.58 349.83L366.58 353.31zM373.42 355.99L370.38 354.25L370.38 357.73zM377.22 360.43L374.17 358.69L374.17 362.17zM381.02 364.71L377.97 362.97L377.97 366.45zM384.82 368.67L381.77 366.93L381.77 370.41zM388.62 372.47L385.57 370.73L385.57 374.21zM392.41 376.22L389.37 374.48L389.37 377.96zM396.21 379.74L393.17 378L393.17 381.48zM400.01 382.93L396.96 381.19L396.96 384.67zM403.81 385.93L400.76 384.19L400.76 387.67zM407.61 388.78L404.56 387.04L404.56 390.52zM411.4 391.63L408.36 389.89L408.36 393.37zM415.2 394.78L412.16 393.04L412.16 396.52zM419 397.59L415.96 395.85L415.96 399.33zM422.8 399.69L419.75 397.95L419.75 401.43zM426.6 401.58L423.55 399.84L423.55 403.32zM430.4 403.46L427.35 401.72L427.35 405.2zM434.19 405.21L431.15 403.47L431.15 406.95zM437.99 406.82L434.95 405.08L434.95 408.56zM441.79 408.3L438.75 406.56L438.75 410.04zM445.59 409.78L442.54 408.04L442.54 411.52zM449.39 410.87L446.34 409.13L446.34 412.61zM453.19 411.44L450.14 409.7L450.14 413.18zM456.98 411.84L453.94 410.1L453.94 413.58zM460.78 412.2L457.74 410.46L457.74 413.94zM464.58 412.41L461.54 410.67L461.54 414.15zM468.38 412.51L465.33 410.77L465.33 414.25zM472.18 412.58L469.13 410.84L469.13 414.32zM475.98 412.6L472.93 410.86L472.93 414.34zM479.77 412.6L476.73 410.86L476.73 414.34zM483.57 412.59L480.53 410.85L480.53 414.33zM487.37 412.58L484.33 410.84L484.33 414.32zM491.17 412.56L488.12 410.82L488.12 414.3zM494.97 412.54L491.92 410.8L491.92 414.28zM498.77 412.51L495.72 410.77L495.72 414.25zM502.56 412.48L499.52 410.74L499.52 414.22zM506.36 412.44L503.32 410.7L503.32 414.18zM510.16 412.4L507.12 410.66L507.12 414.14zM513.96 412.35L510.92 410.61L510.92 414.09zM517.76 412.29L514.71 410.55L514.71 414.03zM521.56 412.23L518.51 410.49L518.51 413.97zM525.36 412.16L522.31 410.42L522.31 413.9zM529.15 412.08L526.11 410.34L526.11 413.82zM532.95 412L529.91 410.26L529.91 413.74zM536.75 411.77L533.71 410.03L533.71 413.51zM540.55 411.38L537.5 409.64L537.5 413.12zM544.35 410.78L541.3 409.04L541.3 412.52zM548.14 409.8L545.1 408.06L545.1 411.54zM551.94 408.21L548.9 406.47L548.9 409.95zM555.74 406.22L552.7 404.48L552.7 407.96zM559.54 403.4L556.5 401.66L556.5 405.14z" fill="#12d2d6"/>
<path d="M328.45 458.45h2.9v2.9h-2.9zM332.25 456.71h2.9v2.9h-2.9zM336.05 454.69h2.9v2.9h-2.9zM339.84 452.61h2.9v2.9h-2.9zM343.64 450.68h2.9v2.9h-2.9zM347.44 448.93h2.9v2.9h-2.9zM351.24 447.27h2.9v2.9h-2.9zM355.04 446.26h2.9v2.9h-2.9zM358.84 445.14h2.9v2.9h-2.9zM362.63 444.37h2.9v2.9h-2.9zM366.43 444.13h2.9v2.9h-2.9zM370.23 444.51h2.9v2.9h-2.9zM374.03 445h2.9v2.9h-2.9zM377.83 445.89h2.9v2.9h-2.9zM381.63 446.9h2.9v2.9h-2.9zM385.43 447.82h2.9v2.9h-2.9zM389.22 449h2.9v2.9h-2.9zM393.02 450.15h2.9v2.9h-2.9zM396.82 452.08h2.9v2.9h-2.9zM400.62 453.42h2.9v2.9h-2.9zM404.42 455.13h2.9v2.9h-2.9zM408.21 456.6h2.9v2.9h-2.9zM412.01 457.99h2.9v2.9h-2.9zM415.81 459.52h2.9v2.9h-2.9zM419.61 459.6h2.9v2.9h-2.9zM423.41 460.83h2.9v2.9h-2.9zM427.21 462.53h2.9v2.9h-2.9zM431 464.57h2.9v2.9h-2.9zM434.8 466.71h2.9v2.9h-2.9zM438.6 468.93h2.9v2.9h-2.9zM442.4 471.24h2.9v2.9h-2.9zM446.2 473.71h2.9v2.9h-2.9zM450 476.25h2.9v2.9h-2.9zM453.79 478.83h2.9v2.9h-2.9zM457.59 481.23h2.9v2.9h-2.9zM461.39 483.19h2.9v2.9h-2.9zM465.19 485.62h2.9v2.9h-2.9zM468.99 487.3h2.9v2.9h-2.9zM472.79 488.69h2.9v2.9h-2.9zM476.58 490.01h2.9v2.9h-2.9zM480.38 491.13h2.9v2.9h-2.9zM484.18 491.98h2.9v2.9h-2.9zM487.98 492.69h2.9v2.9h-2.9zM491.78 493.33h2.9v2.9h-2.9zM495.58 493.93h2.9v2.9h-2.9zM499.37 494.5h2.9v2.9h-2.9zM503.17 495.07h2.9v2.9h-2.9zM506.97 495.64h2.9v2.9h-2.9zM510.77 496.27h2.9v2.9h-2.9zM514.57 497.07h2.9v2.9h-2.9zM518.37 497.87h2.9v2.9h-2.9zM522.16 498.45h2.9v2.9h-2.9zM525.96 499.15h2.9v2.9h-2.9zM529.76 500.46h2.9v2.9h-2.9zM533.56 502.17h2.9v2.9h-2.9zM537.36 503.85h2.9v2.9h-2.9zM541.16 505.25h2.9v2.9h-2.9zM544.95 506.85h2.9v2.9h-2.9zM548.75 509.35h2.9v2.9h-2.9zM552.55 511.85h2.9v2.9h-2.9zM556.35 515.75h2.9v2.9h-2.9z" fill="#111111"/>
<path d="M328.38 459.9a1.52 1.52 0 1 0 3.04 0a1.52 1.52 0 1 0 -3.04 0zM332.18 458.16a1.52 1.52 0 1 0 3.04 0a1.52 1.52 0 1 0 -3.04 0zM335.97 456.14a1.52 1.52 0 1 0 3.04 0a1.52 1.52 0 1 0 -3.04 0zM339.77 454.06a1.52 1.52 0 1 0 3.04 0a1.52 1.52 0 1 0 -3.04 0zM343.57 452.13a1.52 1.52 0 1 0 3.04 0a1.52 1.52 0 1 0 -3.04 0zM347.37 450.38a1.52 1.52 0 1 0 3.04 0a1.52 1.52 0 1 0 -3.04 0zM351.17 448.72a1.52 1.52 0 1 0 3.04 0a1.52 1.52 0 1 0 -3.04 0zM354.97 447.71a1.52 1.52 0 1 0 3.04 0a1.52 1.52 0 1 0 -3.04 0zM358.76 446.62a1.52 1.52 0 1 0 3.04 0a1.52 1.52 0 1 0 -3.04 0zM362.56 446.23a1.52 1.52 0 1 0 3.04 0a1.52 1.52 0 1 0 -3.04 0zM366.36 446.29a1.52 1.52 0 1 0 3.04 0a1.52 1.52 0 1 0 -3.04 0zM370.16 447a1.52 1.52 0 1 0 3.04 0a1.52 1.52 0 1 0 -3.04 0zM373.96 447.8a1.52 1.52 0 1 0 3.04 0a1.52 1.52 0 1 0 -3.04 0zM377.76 448.94a1.52 1.52 0 1 0 3.04 0a1.52 1.52 0 1 0 -3.04 0zM381.55 449.87a1.52 1.52 0 1 0 3.04 0a1.52 1.52 0 1 0 -3.04 0zM385.35 450.81a1.52 1.52 0 1 0 3.04 0a1.52 1.52 0 1 0 -3.04 0zM389.15 452.03a1.52 1.52 0 1 0 3.04 0a1.52 1.52 0 1 0 -3.04 0zM392.95 453.18a1.52 1.52 0 1 0 3.04 0a1.52 1.52 0 1 0 -3.04 0zM396.75 455.07a1.52 1.52 0 1 0 3.04 0a1.52 1.52 0 1 0 -3.04 0zM400.55 456.33a1.52 1.52 0 1 0 3.04 0a1.52 1.52 0 1 0 -3.04 0zM404.34 457.88a1.52 1.52 0 1 0 3.04 0a1.52 1.52 0 1 0 -3.04 0zM408.14 459.21a1.52 1.52 0 1 0 3.04 0a1.52 1.52 0 1 0 -3.04 0zM411.94 460.32a1.52 1.52 0 1 0 3.04 0a1.52 1.52 0 1 0 -3.04 0zM415.74 461.57a1.52 1.52 0 1 0 3.04 0a1.52 1.52 0 1 0 -3.04 0zM419.54 461.23a1.52 1.52 0 1 0 3.04 0a1.52 1.52 0 1 0 -3.04 0zM423.34 462.54a1.52 1.52 0 1 0 3.04 0a1.52 1.52 0 1 0 -3.04 0zM427.13 464.31a1.52 1.52 0 1 0 3.04 0a1.52 1.52 0 1 0 -3.04 0zM430.93 466.38a1.52 1.52 0 1 0 3.04 0a1.52 1.52 0 1 0 -3.04 0zM434.73 468.52a1.52 1.52 0 1 0 3.04 0a1.52 1.52 0 1 0 -3.04 0zM438.53 470.71a1.52 1.52 0 1 0 3.04 0a1.52 1.52 0 1 0 -3.04 0zM442.33 473a1.52 1.52 0 1 0 3.04 0a1.52 1.52 0 1 0 -3.04 0zM446.13 475.46a1.52 1.52 0 1 0 3.04 0a1.52 1.52 0 1 0 -3.04 0zM449.92 477.99a1.52 1.52 0 1 0 3.04 0a1.52 1.52 0 1 0 -3.04 0zM453.72 480.55a1.52 1.52 0 1 0 3.04 0a1.52 1.52 0 1 0 -3.04 0zM457.52 482.92a1.52 1.52 0 1 0 3.04 0a1.52 1.52 0 1 0 -3.04 0zM461.32 484.85a1.52 1.52 0 1 0 3.04 0a1.52 1.52 0 1 0 -3.04 0zM465.12 487.28a1.52 1.52 0 1 0 3.04 0a1.52 1.52 0 1 0 -3.04 0zM468.92 488.95a1.52 1.52 0 1 0 3.04 0a1.52 1.52 0 1 0 -3.04 0zM472.71 490.32a1.52 1.52 0 1 0 3.04 0a1.52 1.52 0 1 0 -3.04 0zM476.51 491.63a1.52 1.52 0 1 0 3.04 0a1.52 1.52 0 1 0 -3.04 0zM480.31 492.74a1.52 1.52 0 1 0 3.04 0a1.52 1.52 0 1 0 -3.04 0zM484.11 493.57a1.52 1.52 0 1 0 3.04 0a1.52 1.52 0 1 0 -3.04 0zM487.91 494.28a1.52 1.52 0 1 0 3.04 0a1.52 1.52 0 1 0 -3.04 0zM491.71 494.93a1.52 1.52 0 1 0 3.04 0a1.52 1.52 0 1 0 -3.04 0zM495.5 495.52a1.52 1.52 0 1 0 3.04 0a1.52 1.52 0 1 0 -3.04 0zM499.3 496.08a1.52 1.52 0 1 0 3.04 0a1.52 1.52 0 1 0 -3.04 0zM503.1 496.64a1.52 1.52 0 1 0 3.04 0a1.52 1.52 0 1 0 -3.04 0zM506.9 497.21a1.52 1.52 0 1 0 3.04 0a1.52 1.52 0 1 0 -3.04 0zM510.7 497.85a1.52 1.52 0 1 0 3.04 0a1.52 1.52 0 1 0 -3.04 0zM514.5 498.65a1.52 1.52 0 1 0 3.04 0a1.52 1.52 0 1 0 -3.04 0zM518.29 499.46a1.52 1.52 0 1 0 3.04 0a1.52 1.52 0 1 0 -3.04 0zM522.09 500.08a1.52 1.52 0 1 0 3.04 0a1.52 1.52 0 1 0 -3.04 0zM525.89 500.82a1.52 1.52 0 1 0 3.04 0a1.52 1.52 0 1 0 -3.04 0zM529.69 502.14a1.52 1.52 0 1 0 3.04 0a1.52 1.52 0 1 0 -3.04 0zM533.49 503.87a1.52 1.52 0 1 0 3.04 0a1.52 1.52 0 1 0 -3.04 0zM537.29 505.58a1.52 1.52 0 1 0 3.04 0a1.52 1.52 0 1 0 -3.04 0zM541.08 507.07a1.52 1.52 0 1 0 3.04 0a1.52 1.52 0 1 0 -3.04 0zM544.88 508.79a1.52 1.52 0 1 0 3.04 0a1.52 1.52 0 1 0 -3.04 0zM548.68 511.4a1.52 1.52 0 1 0 3.04 0a1.52 1.52 0 1 0 -3.04 0zM552.48 514.01a1.52 1.52 0 1 0 3.04 0a1.52 1.52 0 1 0 -3.04 0zM556.28 517.94a1.52 1.52 0 1 0 3.04 0a1.52 1.52 0 1 0 -3.04 0z" fill="#f41c24"/>
<path d="M329.9 460.26L331.64 463.31L328.16 463.31zM333.7 458.86L335.44 461.91L331.96 461.91zM337.5 456.91L339.24 459.96L335.76 459.96zM341.29 454.83L343.03 457.87L339.55 457.87zM345.09 452.81L346.83 455.86L343.35 455.86zM348.89 450.96L350.63 454.01L347.15 454.01zM352.69 449.09L354.43 452.14L350.95 452.14zM356.49 447.99L358.23 451.04L354.75 451.04zM360.29 446.7L362.03 449.74L358.55 449.74zM364.08 445.56L365.82 448.6L362.34 448.6zM367.88 444.93L369.62 447.97L366.14 447.97zM371.68 445.04L373.42 448.09L369.94 448.09zM375.48 445.27L377.22 448.31L373.74 448.31zM379.28 446L381.02 449.04L377.54 449.04zM383.08 446.99L384.82 450.03L381.34 450.03zM386.88 447.92L388.62 450.96L385.13 450.96zM390.67 449.1L392.41 452.15L388.93 452.15zM394.47 450.25L396.21 453.3L392.73 453.3zM398.27 452.18L400.01 455.22L396.53 455.22zM402.07 453.49L403.81 456.54L400.33 456.54zM405.87 455.16L407.61 458.21L404.13 458.21zM409.66 456.6L411.4 459.65L407.92 459.65zM413.46 457.92L415.2 460.97L411.72 460.97zM417.26 459.45L419 462.49L415.52 462.49zM421.06 460.37L422.8 463.41L419.32 463.41zM424.86 462.1L426.6 465.14L423.12 465.14zM428.66 464.22L430.4 467.26L426.92 467.26zM432.45 466.47L434.19 469.51L430.71 469.51zM436.25 468.56L437.99 471.6L434.51 471.6zM440.05 470.61L441.79 473.65L438.31 473.65zM443.85 472.78L445.59 475.83L442.11 475.83zM447.65 475.21L449.39 478.26L445.91 478.26zM451.45 477.7L453.19 480.75L449.71 480.75zM455.24 480.17L456.98 483.21L453.5 483.21zM459.04 482.4L460.78 485.45L457.3 485.45zM462.84 484.15L464.58 487.2L461.1 487.2zM466.64 486.62L468.38 489.67L464.9 489.67zM470.44 488.2L472.18 491.25L468.7 491.25zM474.24 489.49L475.98 492.53L472.5 492.53zM478.03 490.72L479.77 493.77L476.29 493.77zM481.83 491.77L483.57 494.82L480.09 494.82zM485.63 492.56L487.37 495.61L483.89 495.61zM489.43 493.24L491.17 496.29L487.69 496.29zM493.23 493.89L494.97 496.93L491.49 496.93zM497.03 494.48L498.77 497.52L495.29 497.52zM500.82 494.98L502.56 498.03L499.08 498.03zM504.62 495.5L506.36 498.54L502.88 498.54zM508.42 496.07L510.16 499.12L506.68 499.12zM512.22 496.73L513.96 499.78L510.48 499.78zM516.02 497.55L517.76 500.6L514.28 500.6zM519.82 498.43L521.56 501.47L518.08 501.47zM523.62 499.22L525.36 502.27L521.88 502.27zM527.41 500.17L529.15 503.22L525.67 503.22zM531.21 501.58L532.95 504.63L529.47 504.63zM535.01 503.35L536.75 506.39L533.27 506.39zM538.81 505.21L540.55 508.26L537.07 508.26zM542.61 507.15L544.35 510.2L540.87 510.2zM546.4 509.47L548.14 512.52L544.66 512.52zM550.2 512.63L551.94 515.68L548.46 515.68zM554 515.79L555.74 518.84L552.26 518.84zM557.8 519.9L559.54 522.94L556.06 522.94z" fill="#1e5ef5"/>
<path d="M329.9 459.54L331.64 456.5L328.16 456.5zM333.7 457.46L335.44 454.42L331.96 454.42zM337.5 455.36L339.24 452.31L335.76 452.31zM341.29 453.3L343.03 450.25L339.55 450.25zM345.09 451.45L346.83 448.4L343.35 448.4zM348.89 449.8L350.63 446.76L347.15 446.76zM352.69 448.34L354.43 445.3L350.95 445.3zM356.49 447.43L358.23 444.38L354.75 444.38zM360.29 446.46L362.03 443.41L358.55 443.41zM364.08 445.68L365.82 442.64L362.34 442.64zM367.88 445.52L369.62 442.47L366.14 442.47zM371.68 445.84L373.42 442.79L369.94 442.79zM375.48 446.29L377.22 443.25L373.74 443.25zM379.28 447.08L381.02 444.04L377.54 444.04zM383.08 448.18L384.82 445.13L381.34 445.13zM386.88 449.09L388.62 446.05L385.13 446.05zM390.67 450.22L392.41 447.17L388.93 447.17zM394.47 451.36L396.21 448.31L392.73 448.31zM398.27 453.35L400.01 450.3L396.53 450.3zM402.07 454.78L403.81 451.74L400.33 451.74zM405.87 456.69L407.61 453.64L404.13 453.64zM409.66 458.35L411.4 455.3L407.92 455.3zM413.46 460.09L415.2 457.05L411.72 457.05zM417.26 462.09L419 459.05L415.52 459.05zM421.06 464.37L422.8 461.33L419.32 461.33zM424.86 466.36L426.6 463.31L423.12 463.31zM428.66 468.68L430.4 465.64L426.92 465.64zM432.45 471.04L434.19 468L430.71 468zM436.25 473.11L437.99 470.06L434.51 470.06zM440.05 475.07L441.79 472.03L438.31 472.03zM443.85 477.17L445.59 474.13L442.11 474.13zM447.65 479.58L449.39 476.54L445.91 476.54zM451.45 482.05L453.19 479.01L449.71 479.01zM455.24 484.46L456.98 481.42L453.5 481.42zM459.04 486.61L460.78 483.57L457.3 483.57zM462.84 488.26L464.58 485.21L461.1 485.21zM466.64 490.75L468.38 487.7L464.9 487.7zM470.44 492.28L472.18 489.23L468.7 489.23zM474.24 493.51L475.98 490.46L472.5 490.46zM478.03 494.7L479.77 491.66L476.29 491.66zM481.83 495.72L483.57 492.67L480.09 492.67zM485.63 496.48L487.37 493.44L483.89 493.44zM489.43 497.14L491.17 494.1L487.69 494.1zM493.23 497.79L494.97 494.75L491.49 494.75zM497.03 498.37L498.77 495.33L495.29 495.33zM500.82 498.85L502.56 495.81L499.08 495.81zM504.62 499.34L506.36 496.29L502.88 496.29zM508.42 499.92L510.16 496.87L506.68 496.87zM512.22 500.59L513.96 497.54L510.48 497.54zM516.02 501.42L517.76 498.37L514.28 498.37zM519.82 502.33L521.56 499.28L518.08 499.28zM523.62 503.23L525.36 500.19L521.88 500.19zM527.41 504.31L529.15 501.26L525.67 501.26zM531.21 505.77L532.95 502.73L529.47 502.73zM535.01 507.56L536.75 504.52L533.27 504.52zM538.81 509.52L540.55 506.47L537.07 506.47zM542.61 511.73L544.35 508.69L540.87 508.69zM546.4 514.41L548.14 511.36L544.66 511.36zM550.2 517.9L551.94 514.85L548.46 514.85zM554 521.39L555.74 518.34L552.26 518.34zM557.8 525.6L559.54 522.56L556.06 522.56z" fill="#2a9f5c"/>
<path d="M329.9 450.28L331.64 452.02L329.9 453.76L328.16 452.02zM333.7 447.27L335.44 449.01L333.7 450.75L331.96 449.01zM337.5 444.95L339.24 446.69L337.5 448.43L335.76 446.69zM341.29 442.93L343.03 444.67L341.29 446.41L339.55 444.67zM345.09 441.31L346.83 443.05L345.09 444.79L343.35 443.05zM348.89 439.94L350.63 441.68L348.89 443.42L347.15 441.68zM352.69 439.05L354.43 440.79L352.69 442.53L350.95 440.79zM356.49 438.38L358.23 440.12L356.49 441.86L354.75 440.12zM360.29 437.87L362.03 439.61L360.29 441.35L358.55 439.61zM364.08 437.71L365.82 439.45L364.08 441.19L362.34 439.45zM367.88 438.29L369.62 440.03L367.88 441.77L366.14 440.03zM371.68 438.99L373.42 440.73L371.68 442.47L369.94 440.73zM375.48 439.86L377.22 441.6L375.48 443.34L373.74 441.6zM379.28 440.81L381.02 442.55L379.28 444.29L377.54 442.55zM383.08 442.03L384.82 443.77L383.08 445.51L381.34 443.77zM386.88 442.92L388.62 444.66L386.88 446.4L385.13 444.66zM390.67 443.97L392.41 445.71L390.67 447.45L388.93 445.71zM394.47 445.11L396.21 446.85L394.47 448.59L392.73 446.85zM398.27 447.18L400.01 448.92L398.27 450.66L396.53 448.92zM402.07 448.75L403.81 450.49L402.07 452.23L400.33 450.49zM405.87 450.93L407.61 452.67L405.87 454.41L404.13 452.67zM409.66 452.84L411.4 454.58L409.66 456.32L407.92 454.58zM413.46 455.08L415.2 456.82L413.46 458.56L411.72 456.82zM417.26 457.64L419 459.38L417.26 461.12L415.52 459.38zM421.06 461.49L422.8 463.23L421.06 464.97L419.32 463.23zM424.86 463.76L426.6 465.5L424.86 467.24L423.12 465.5zM428.66 466.32L430.4 468.06L428.66 469.8L426.92 468.06zM432.45 468.8L434.19 470.54L432.45 472.28L430.71 470.54zM436.25 470.84L437.99 472.58L436.25 474.32L434.51 472.58zM440.05 472.71L441.79 474.45L440.05 476.19L438.31 474.45zM443.85 474.73L445.59 476.47L443.85 478.21L442.11 476.47zM447.65 477.12L449.39 478.86L447.65 480.6L445.91 478.86zM451.45 479.56L453.19 481.3L451.45 483.04L449.71 481.3zM455.24 481.91L456.98 483.65L455.24 485.39L453.5 483.65zM459.04 483.96L460.78 485.7L459.04 487.44L457.3 485.7zM462.84 485.49L464.58 487.23L462.84 488.97L461.1 487.23zM466.64 488L468.38 489.74L466.64 491.48L464.9 489.74zM470.44 489.47L472.18 491.21L470.44 492.95L468.7 491.21zM474.24 490.64L475.98 492.38L474.24 494.12L472.5 492.38zM478.03 491.79L479.77 493.53L478.03 495.27L476.29 493.53zM481.83 492.77L483.57 494.51L481.83 496.25L480.09 494.51zM485.63 493.5L487.37 495.24L485.63 496.98L483.89 495.24zM489.43 494.14L491.17 495.88L489.43 497.62L487.69 495.88zM493.23 494.79L494.97 496.53L493.23 498.27L491.49 496.53zM497.03 495.37L498.77 497.11L497.03 498.85L495.29 497.11zM500.82 495.81L502.56 497.55L500.82 499.29L499.08 497.55zM504.62 496.26L506.36 498L504.62 499.74L502.88 498zM508.42 496.84L510.16 498.58L508.42 500.32L506.68 498.58zM512.22 497.53L513.96 499.27L512.22 501.01L510.48 499.27zM516.02 498.37L517.76 500.11L516.02 501.85L514.28 500.11zM519.82 499.33L521.56 501.07L519.82 502.81L518.08 501.07zM523.62 500.35L525.36 502.09L523.62 503.83L521.88 502.09zM527.41 501.57L529.15 503.31L527.41 505.05L525.67 503.31zM531.21 503.09L532.95 504.83L531.21 506.57L529.47 504.83zM535.01 504.91L536.75 506.65L535.01 508.39L533.27 506.65zM538.81 506.97L540.55 508.71L538.81 510.45L537.07 508.71zM542.61 509.5L544.35 511.24L542.61 512.98L540.87 511.24zM546.4 512.58L548.14 514.32L546.4 516.06L544.66 514.32zM550.2 516.44L551.94 518.18L550.2 519.92L548.46 518.18zM554 520.3L555.74 522.04L554 523.78L552.26 522.04zM557.8 524.64L559.54 526.38L557.8 528.12L556.06 526.38z" fill="#a55cf0"/>
<path d="M328.16 451.5L331.2 449.76L331.2 453.24zM331.96 448.4L335 446.66L335 450.14zM335.76 446.06L338.8 444.32L338.8 447.8zM339.55 444.04L342.6 442.3L342.6 445.78zM343.35 442.44L346.4 440.7L346.4 444.18zM347.15 441.1L350.2 439.36L350.2 442.84zM350.95 440.26L354 438.52L354 442zM354.75 439.62L357.79 437.88L357.79 441.36zM358.55 439.15L361.59 437.41L361.59 440.89zM362.34 439L365.39 437.26L365.39 440.74zM366.14 439.62L369.19 437.88L369.19 441.36zM369.94 440.33L372.99 438.59L372.99 442.07zM373.74 441.21L376.78 439.47L376.78 442.95zM377.54 442.15L380.58 440.41L380.58 443.89zM381.34 443.39L384.38 441.65L384.38 445.13zM385.13 444.28L388.18 442.54L388.18 446.02zM388.93 445.32L391.98 443.58L391.98 447.06zM392.73 446.46L395.78 444.72L395.78 448.2zM396.53 448.54L399.57 446.8L399.57 450.28zM400.33 450.13L403.37 448.39L403.37 451.87zM404.13 452.34L407.17 450.6L407.17 454.08zM407.92 454.29L410.97 452.55L410.97 456.03zM411.72 456.61L414.77 454.87L414.77 458.35zM415.52 459.23L418.57 457.49L418.57 460.97zM419.32 463.16L422.36 461.42L422.36 464.9zM423.12 465.39L426.16 463.65L426.16 467.13zM426.92 467.93L429.96 466.19L429.96 469.67zM430.71 470.4L433.76 468.66L433.76 472.14zM434.51 472.43L437.56 470.69L437.56 474.17zM438.31 474.32L441.36 472.58L441.36 476.06zM442.11 476.35L445.15 474.61L445.15 478.09zM445.91 478.74L448.95 477L448.95 480.48zM449.71 481.19L452.75 479.45L452.75 482.93zM453.5 483.54L456.55 481.8L456.55 485.28zM457.3 485.61L460.35 483.87L460.35 487.35zM461.1 487.14L464.15 485.4L464.15 488.88zM464.9 489.65L467.94 487.91L467.94 491.39zM468.7 491.13L471.74 489.39L471.74 492.87zM472.5 492.31L475.54 490.57L475.54 494.05zM476.29 493.46L479.34 491.72L479.34 495.2zM480.09 494.45L483.14 492.71L483.14 496.19zM483.89 495.18L486.94 493.44L486.94 496.92zM487.69 495.82L490.73 494.08L490.73 497.56zM491.49 496.47L494.53 494.73L494.53 498.21zM495.29 497.05L498.33 495.31L498.33 498.79zM499.08 497.5L502.13 495.76L502.13 499.24zM502.88 497.96L505.93 496.22L505.93 499.7zM506.68 498.54L509.73 496.8L509.73 500.28zM510.48 499.22L513.52 497.48L513.52 500.96zM514.28 500.06L517.32 498.32L517.32 501.8zM518.08 501.01L521.12 499.27L521.12 502.75zM521.88 502.02L524.92 500.28L524.92 503.76zM525.67 503.22L528.72 501.48L528.72 504.96zM529.47 504.74L532.52 503L532.52 506.48zM533.27 506.55L536.31 504.81L536.31 508.29zM537.07 508.6L540.11 506.86L540.11 510.34zM540.87 511.09L543.91 509.35L543.91 512.83zM544.66 514.12L547.71 512.38L547.71 515.86zM548.46 517.94L551.51 516.2L551.51 519.68zM552.26 521.76L555.31 520.02L555.31 523.5zM556.06 526.08L559.1 524.34L559.1 527.82z" fill="#dc9a0a"/>
<path d="M331.64 453.6L328.59 451.86L328.59 455.34zM335.44 450.84L332.39 449.1L332.39 452.58zM339.24 448.58L336.19 446.84L336.19 450.32zM343.03 446.55L339.99 444.81L339.99 448.29zM346.83 444.86L343.79 443.12L343.79 446.6zM350.63 443.42L347.59 441.68L347.59 445.16zM354.43 442.38L351.38 440.64L351.38 444.12zM358.23 441.64L355.18 439.9L355.18 443.38zM362.03 440.96L358.98 439.22L358.98 442.7zM365.82 440.08L362.78 438.34L362.78 441.82zM369.62 440L366.58 438.26L366.58 441.74zM373.42 440.12L370.38 438.38L370.38 441.86zM377.22 440.42L374.17 438.68L374.17 442.16zM381.02 440.95L377.97 439.21L377.97 442.69zM384.82 442.24L381.77 440.5L381.77 443.98zM388.62 443.12L385.57 441.38L385.57 444.86zM392.41 444.13L389.37 442.39L389.37 445.87zM396.21 445.27L393.17 443.53L393.17 447.01zM400.01 447.38L396.96 445.64L396.96 449.12zM403.81 449.04L400.76 447.3L400.76 450.78zM407.61 451.36L404.56 449.62L404.56 453.1zM411.4 453.42L408.36 451.68L408.36 455.16zM415.2 455.95L412.16 454.21L412.16 457.69zM419 458.89L415.96 457.15L415.96 460.63zM422.8 464.57L419.75 462.83L419.75 466.31zM426.6 467.47L423.55 465.73L423.55 469.21zM430.4 470.57L427.35 468.83L427.35 472.31zM434.19 473.31L431.15 471.57L431.15 475.05zM437.99 475.28L434.95 473.54L434.95 477.02zM441.79 476.94L438.75 475.2L438.75 478.68zM445.59 478.78L442.54 477.04L442.54 480.52zM449.39 481.12L446.34 479.38L446.34 482.86zM453.19 483.51L450.14 481.77L450.14 485.25zM456.98 485.71L453.94 483.97L453.94 487.45zM460.78 487.56L457.74 485.82L457.74 489.3zM464.58 488.81L461.54 487.07L461.54 490.55zM468.38 491.37L465.33 489.63L465.33 493.11zM472.18 492.72L469.13 490.98L469.13 494.46zM475.98 493.75L472.93 492.01L472.93 495.49zM479.77 494.8L476.73 493.06L476.73 496.54zM483.57 495.69L480.53 493.95L480.53 497.43zM487.37 496.34L484.33 494.6L484.33 498.08zM491.17 496.94L488.12 495.2L488.12 498.68zM494.97 497.6L491.92 495.86L491.92 499.34zM498.77 498.16L495.72 496.42L495.72 499.9zM502.56 498.53L499.52 496.79L499.52 500.27zM506.36 498.92L503.32 497.18L503.32 500.66zM510.16 499.5L507.12 497.76L507.12 501.24zM513.96 500.22L510.92 498.48L510.92 501.96zM517.76 501.09L514.71 499.35L514.71 502.83zM521.56 502.14L518.51 500.4L518.51 503.88zM525.36 503.44L522.31 501.7L522.31 505.18zM529.15 504.97L526.11 503.23L526.11 506.71zM532.95 506.63L529.91 504.89L529.91 508.37zM536.75 508.51L533.71 506.77L533.71 510.25zM540.55 510.81L537.5 509.07L537.5 512.55zM544.35 514.01L541.3 512.27L541.3 515.75zM548.14 518.01L545.1 516.27L545.1 519.75zM551.94 522.7L548.9 520.96L548.9 524.44zM555.74 527.4L552.7 525.66L552.7 529.14zM559.54 532L556.5 530.26L556.5 533.74z" fill="#12d2d6"/>
<path d="M329.9 414.1H557.8" stroke="#333" stroke-width="0.9" fill="none"/>
<path d="M329.9 413.6v2M341.33 413.8v1.3M348.02 413.8v1.3M352.77 413.8v1.3M356.45 413.8v1.3M359.46 413.8v1.3M362 413.8v1.3M364.2 413.8v1.3M366.15 413.8v1.3M367.88 413.6v2M379.32 413.8v1.3M386.01 413.8v1.3M390.75 413.8v1.3M394.43 413.8v1.3M397.44 413.8v1.3M399.98 413.8v1.3M402.19 413.8v1.3M404.13 413.8v1.3M405.87 413.6v2M417.3 413.8v1.3M423.99 413.8v1.3M428.73 413.8v1.3M432.42 413.8v1.3M435.42 413.8v1.3M437.97 413.8v1.3M440.17 413.8v1.3M442.11 413.8v1.3M443.85 413.6v2M455.28 413.8v1.3M461.97 413.8v1.3M466.72 413.8v1.3M470.4 413.8v1.3M473.41 413.8v1.3M475.95 413.8v1.3M478.15 413.8v1.3M480.1 413.8v1.3M481.83 413.6v2M493.27 413.8v1.3M499.96 413.8v1.3M504.7 413.8v1.3M508.38 413.8v1.3M511.39 413.8v1.3M513.93 413.8v1.3M516.14 413.8v1.3M518.08 413.8v1.3M519.82 413.6v2M531.25 413.8v1.3M537.94 413.8v1.3M542.68 413.8v1.3M546.37 413.8v1.3M549.37 413.8v1.3M551.92 413.8v1.3M554.12 413.8v1.3M556.06 413.8v1.3M557.8 413.6v2" stroke="#333" stroke-width="0.7" fill="none"/>
<text class="tk" x="330.5" y="423" font-size="4.9" text-anchor="middle">10<tspan font-size="3.82" dy="-1.5">0</tspan></text>
<text class="tk" x="368.48" y="423" font-size="4.9" text-anchor="middle">10<tspan font-size="3.82" dy="-1.5">1</tspan></text>
<text class="tk" x="406.47" y="423" font-size="4.9" text-anchor="middle">10<tspan font-size="3.82" dy="-1.5">2</tspan></text>
<text class="tk" x="444.45" y="423" font-size="4.9" text-anchor="middle">10<tspan font-size="3.82" dy="-1.5">3</tspan></text>
<text class="tk" x="482.43" y="423" font-size="4.9" text-anchor="middle">10<tspan font-size="3.82" dy="-1.5">4</tspan></text>
<text class="tk" x="520.42" y="423" font-size="4.9" text-anchor="middle">10<tspan font-size="3.82" dy="-1.5">5</tspan></text>
<text class="tk" x="558.4" y="423" font-size="4.9" text-anchor="middle">10<tspan font-size="3.82" dy="-1.5">6</tspan></text>
<path d="M329.9 294.9V414.1" stroke="#333" stroke-width="0.9" fill="none"/>
<path d="M330.3 414.1h-3M330.2 396.16h-1.3M330.2 385.66h-1.3M330.2 378.22h-1.3M330.2 372.44h-1.3M330.2 367.72h-1.3M330.2 363.73h-1.3M330.2 360.28h-1.3M330.2 357.23h-1.3M330.3 354.5h-3M330.2 336.56h-1.3M330.2 326.06h-1.3M330.2 318.62h-1.3M330.2 312.84h-1.3M330.2 308.12h-1.3M330.2 304.13h-1.3M330.2 300.68h-1.3M330.2 297.63h-1.3M330.3 294.9h-3" stroke="#333" stroke-width="0.7" fill="none"/>
<text class="tk" x="325.3" y="416.42" font-size="4.9" text-anchor="end">10<tspan font-size="3.43" dy="-1.3">2</tspan></text>
<text class="tk" x="325.3" y="356.81" font-size="4.9" text-anchor="end">10<tspan font-size="3.43" dy="-1.3">3</tspan></text>
<text class="tk" x="325.3" y="297.21" font-size="4.9" text-anchor="end">10<tspan font-size="3.43" dy="-1.3">4</tspan></text>
<path d="M329.9 541H557.8" stroke="#333" stroke-width="0.9" fill="none"/>
<path d="M329.9 540.5v2M341.33 540.7v1.3M348.02 540.7v1.3M352.77 540.7v1.3M356.45 540.7v1.3M359.46 540.7v1.3M362 540.7v1.3M364.2 540.7v1.3M366.15 540.7v1.3M367.88 540.5v2M379.32 540.7v1.3M386.01 540.7v1.3M390.75 540.7v1.3M394.43 540.7v1.3M397.44 540.7v1.3M399.98 540.7v1.3M402.19 540.7v1.3M404.13 540.7v1.3M405.87 540.5v2M417.3 540.7v1.3M423.99 540.7v1.3M428.73 540.7v1.3M432.42 540.7v1.3M435.42 540.7v1.3M437.97 540.7v1.3M440.17 540.7v1.3M442.11 540.7v1.3M443.85 540.5v2M455.28 540.7v1.3M461.97 540.7v1.3M466.72 540.7v1.3M470.4 540.7v1.3M473.41 540.7v1.3M475.95 540.7v1.3M478.15 540.7v1.3M480.1 540.7v1.3M481.83 540.5v2M493.27 540.7v1.3M499.96 540.7v1.3M504.7 540.7v1.3M508.38 540.7v1.3M511.39 540.7v1.3M513.93 540.7v1.3M516.14 540.7v1.3M518.08 540.7v1.3M519.82 540.5v2M531.25 540.7v1.3M537.94 540.7v1.3M542.68 540.7v1.3M546.37 540.7v1.3M549.37 540.7v1.3M551.92 540.7v1.3M554.12 540.7v1.3M556.06 540.7v1.3M557.8 540.5v2" stroke="#333" stroke-width="0.7" fill="none"/>
<text class="tk" x="330.5" y="550" font-size="4.9" text-anchor="middle">10<tspan font-size="3.82" dy="-1.5">0</tspan></text>
<text class="tk" x="368.48" y="550" font-size="4.9" text-anchor="middle">10<tspan font-size="3.82" dy="-1.5">1</tspan></text>
<text class="tk" x="406.47" y="550" font-size="4.9" text-anchor="middle">10<tspan font-size="3.82" dy="-1.5">2</tspan></text>
<text class="tk" x="444.45" y="550" font-size="4.9" text-anchor="middle">10<tspan font-size="3.82" dy="-1.5">3</tspan></text>
<text class="tk" x="482.43" y="550" font-size="4.9" text-anchor="middle">10<tspan font-size="3.82" dy="-1.5">4</tspan></text>
<text class="tk" x="520.42" y="550" font-size="4.9" text-anchor="middle">10<tspan font-size="3.82" dy="-1.5">5</tspan></text>
<text class="tk" x="558.4" y="550" font-size="4.9" text-anchor="middle">10<tspan font-size="3.82" dy="-1.5">6</tspan></text>
<path d="M329.9 428V541" stroke="#333" stroke-width="0.9" fill="none"/>
<path d="M330.3 428h-3M330.2 436.68h-1.3M330.3 445.37h-3M330.2 454.05h-1.3M330.3 462.73h-3M330.2 471.42h-1.3M330.3 480.1h-3M330.2 488.78h-1.3M330.3 497.47h-3M330.2 506.15h-1.3M330.3 514.83h-3M330.2 523.52h-1.3M330.3 532.2h-3" stroke="#333" stroke-width="0.7" fill="none"/>
<text class="tk" x="325.3" y="429.75" font-size="5" text-anchor="end">-80</text>
<text class="tk" x="325.3" y="447.12" font-size="5" text-anchor="end">-60</text>
<text class="tk" x="325.3" y="464.48" font-size="5" text-anchor="end">-40</text>
<text class="tk" x="325.3" y="481.85" font-size="5" text-anchor="end">-20</text>
<text class="tk" x="325.3" y="499.22" font-size="5" text-anchor="end">0</text>
<text class="tk" x="325.3" y="516.58" font-size="5" text-anchor="end">20</text>
<text class="tk" x="325.3" y="533.95" font-size="5" text-anchor="end">40</text>
<text class="ti" font-size="6.6" text-anchor="middle" transform="translate(307.38 354.2) rotate(-90)">|Z| [ohm]</text>
<text class="ti" font-size="6.6" text-anchor="middle" transform="translate(305.48 484.2) rotate(-90)">Theta [degree]</text>
<text class="fq" x="439.8" y="563.8" font-size="6.7" text-anchor="middle">Frequency [Hz]</text>
<text class="cp" x="428.4" y="584.3" font-size="8.4" text-anchor="middle">(d)</text>
<rect x="514.4" y="296.7" width="59.9" height="59.4" fill="#fff" stroke="#777" stroke-width="0.8"/>
<path d="M521.6 299.3h3.2v3.2h-3.2z" fill="#111111"/>
<path d="M521.52 309.28a1.68 1.68 0 1 0 3.36 0a1.68 1.68 0 1 0 -3.36 0z" fill="#f41c24"/>
<path d="M523.2 315.74L525.12 319.1L521.28 319.1z" fill="#1e5ef5"/>
<path d="M523.2 327.96L525.12 324.6L521.28 324.6z" fill="#2a9f5c"/>
<path d="M523.2 332.5L525.12 334.42L523.2 336.34L521.28 334.42z" fill="#a55cf0"/>
<path d="M521.28 342.8L524.64 340.88L524.64 344.72z" fill="#dc9a0a"/>
<path d="M525.12 351.18L521.76 349.26L521.76 353.1z" fill="#12d2d6"/>
<text class="lg" x="532.8" y="303.25" font-size="6.7">first cycle</text>
<text class="lg" x="532.8" y="311.62" font-size="6.7">second cycle</text>
<text class="lg" x="532.8" y="320" font-size="6.7">third cycle</text>
<text class="lg" x="532.8" y="328.38" font-size="6.7">fourth cycle</text>
<text class="lg" x="532.8" y="336.76" font-size="6.7">fifth cycle</text>
<text class="lg" x="532.8" y="345.14" font-size="6.7">sixth cycle</text>
<text class="lg" x="532.8" y="353.52" font-size="6.7">seventh cycle</text>
</g>
</svg>
</body></html>
